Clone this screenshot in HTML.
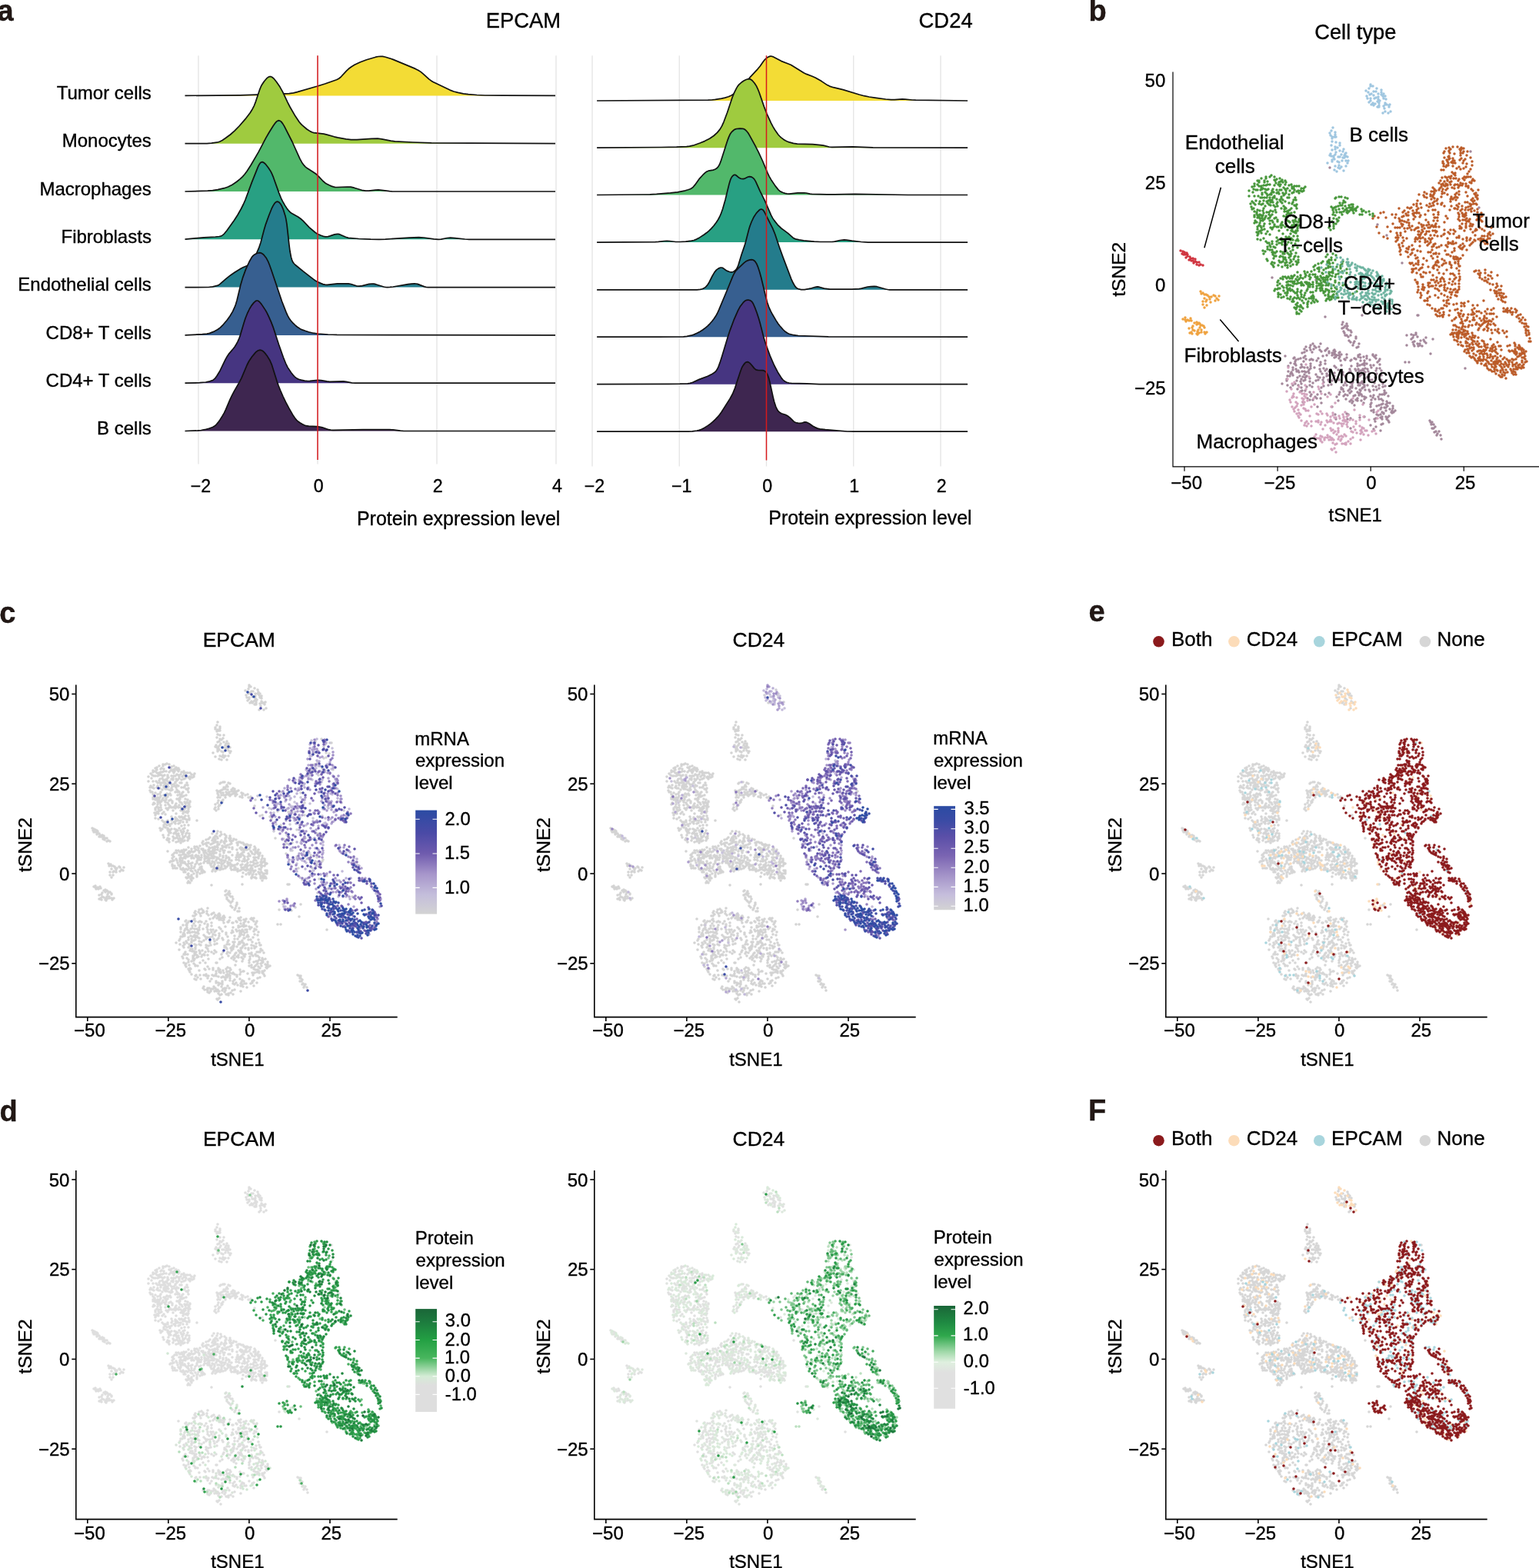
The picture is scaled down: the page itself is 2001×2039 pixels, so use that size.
<!DOCTYPE html>
<html><head><meta charset="utf-8"><title>Figure</title>
<style>html,body{margin:0;padding:0;background:#fff;overflow:hidden}svg{display:block}text{font-family:"Liberation Sans",Arial,Helvetica,sans-serif;stroke:#000;stroke-width:0.35px}</style>
</head><body>
<svg width="2001" height="2039" viewBox="0 0 2001 2039">
<rect width="2001" height="2039" fill="#fff"/>
<path d="M258 72.3V603.5" stroke="#e4e4e4" stroke-width="1.3"/>
<path d="M413 72.3V603.5" stroke="#e4e4e4" stroke-width="1.3"/>
<path d="M568 72.3V603.5" stroke="#e4e4e4" stroke-width="1.3"/>
<path d="M723 72.3V603.5" stroke="#e4e4e4" stroke-width="1.3"/>
<path d="M770 72.3V606.5" stroke="#e4e4e4" stroke-width="1.3"/>
<path d="M883.25 72.3V606.5" stroke="#e4e4e4" stroke-width="1.3"/>
<path d="M996.5 72.3V606.5" stroke="#e4e4e4" stroke-width="1.3"/>
<path d="M1109.75 72.3V606.5" stroke="#e4e4e4" stroke-width="1.3"/>
<path d="M1223 72.3V606.5" stroke="#e4e4e4" stroke-width="1.3"/>
<path d="M240.5 124.4L312.0 123.8L365.0 122.2L376.0 121.6L381.5 120.8L386.5 119.6L412.0 112.3L422.5 109.0L437.5 103.8L440.5 102.2L443.0 100.3L450.5 92.1L453.5 89.3L457.0 86.7L461.0 84.3L468.5 80.8L476.5 77.8L488.5 74.2L492.0 73.5L495.0 73.3L497.5 73.4L500.5 74.0L510.5 77.1L540.0 89.4L544.0 91.5L547.0 93.4L550.0 95.9L558.0 103.1L560.5 104.9L563.0 106.4L585.0 117.1L590.0 119.0L595.5 120.4L602.5 121.8L609.0 122.7L620.0 123.5L630.5 124.0L654.0 124.2L722.0 124.4L722.0 124.4L240.5 124.4Z" fill="#f3dc35" stroke="none"/><path d="M240.5 124.4L312.0 123.8L365.0 122.2L376.0 121.6L381.5 120.8L386.5 119.6L412.0 112.3L422.5 109.0L437.5 103.8L440.5 102.2L443.0 100.3L450.5 92.1L453.5 89.3L457.0 86.7L461.0 84.3L468.5 80.8L476.5 77.8L488.5 74.2L492.0 73.5L495.0 73.3L497.5 73.4L500.5 74.0L510.5 77.1L540.0 89.4L544.0 91.5L547.0 93.4L550.0 95.9L558.0 103.1L560.5 104.9L563.0 106.4L585.0 117.1L590.0 119.0L595.5 120.4L602.5 121.8L609.0 122.7L620.0 123.5L630.5 124.0L654.0 124.2L722.0 124.4" fill="none" stroke="#111" stroke-width="1.7" stroke-linejoin="round"/><path d="M240.5 186.7L269.0 186.6L275.0 186.2L282.0 185.2L285.5 184.2L289.0 182.5L293.0 179.8L299.5 175.0L305.0 170.2L311.0 164.0L320.0 153.6L325.0 147.0L328.0 142.2L330.5 137.3L332.5 132.1L337.5 116.9L339.0 113.2L340.5 110.2L343.5 105.7L346.5 102.2L349.0 100.2L350.5 99.6L351.5 99.6L352.5 99.7L354.0 100.5L356.5 102.7L359.5 106.5L364.0 113.1L367.5 119.3L374.0 133.1L377.0 139.0L384.0 151.1L389.0 158.5L391.0 160.9L393.0 162.9L399.0 168.0L403.5 170.9L406.0 172.0L408.0 172.6L421.0 174.2L425.0 175.1L434.5 177.8L439.0 178.9L450.0 180.9L456.5 181.6L464.0 181.6L483.0 180.3L491.0 180.2L496.5 180.8L508.0 183.1L513.5 183.8L536.5 185.0L561.0 185.8L613.5 186.2L722.0 186.7L722.0 186.7L240.5 186.7Z" fill="#9fcb3f" stroke="none"/><path d="M240.5 186.7L269.0 186.6L275.0 186.2L282.0 185.2L285.5 184.2L289.0 182.5L293.0 179.8L299.5 175.0L305.0 170.2L311.0 164.0L320.0 153.6L325.0 147.0L328.0 142.2L330.5 137.3L332.5 132.1L337.5 116.9L339.0 113.2L340.5 110.2L343.5 105.7L346.5 102.2L349.0 100.2L350.5 99.6L351.5 99.6L352.5 99.7L354.0 100.5L356.5 102.7L359.5 106.5L364.0 113.1L367.5 119.3L374.0 133.1L377.0 139.0L384.0 151.1L389.0 158.5L391.0 160.9L393.0 162.9L399.0 168.0L403.5 170.9L406.0 172.0L408.0 172.6L421.0 174.2L425.0 175.1L434.5 177.8L439.0 178.9L450.0 180.9L456.5 181.6L464.0 181.6L483.0 180.3L491.0 180.2L496.5 180.8L508.0 183.1L513.5 183.8L536.5 185.0L561.0 185.8L613.5 186.2L722.0 186.7" fill="none" stroke="#111" stroke-width="1.7" stroke-linejoin="round"/><path d="M240.5 249.0L270.0 248.2L276.5 247.6L283.0 246.6L291.5 244.7L296.5 243.0L302.0 240.2L307.5 236.5L312.0 232.9L315.5 229.6L318.0 226.8L321.0 222.8L326.0 215.0L336.0 197.9L346.0 178.9L350.0 172.0L355.5 163.3L358.0 159.8L359.5 158.2L360.5 157.4L361.5 156.9L362.5 156.7L364.0 157.1L365.5 158.1L367.5 160.6L369.5 163.9L380.0 184.5L390.0 206.7L392.5 211.2L395.0 214.7L397.0 216.8L399.5 218.8L408.0 224.2L411.0 226.3L414.0 229.1L420.0 235.5L422.5 237.7L424.5 239.0L428.0 240.8L431.0 242.1L433.5 242.9L435.5 243.3L438.0 243.5L451.5 243.0L456.0 243.2L460.5 244.2L470.5 247.3L475.5 248.1L479.5 248.1L488.0 247.1L492.0 246.9L496.5 247.3L506.5 248.7L510.5 249.0L722.0 249.0L722.0 249.0L240.5 249.0Z" fill="#52b86b" stroke="none"/><path d="M240.5 249.0L270.0 248.2L276.5 247.6L283.0 246.6L291.5 244.7L296.5 243.0L302.0 240.2L307.5 236.5L312.0 232.9L315.5 229.6L318.0 226.8L321.0 222.8L326.0 215.0L336.0 197.9L346.0 178.9L350.0 172.0L355.5 163.3L358.0 159.8L359.5 158.2L360.5 157.4L361.5 156.9L362.5 156.7L364.0 157.1L365.5 158.1L367.5 160.6L369.5 163.9L380.0 184.5L390.0 206.7L392.5 211.2L395.0 214.7L397.0 216.8L399.5 218.8L408.0 224.2L411.0 226.3L414.0 229.1L420.0 235.5L422.5 237.7L424.5 239.0L428.0 240.8L431.0 242.1L433.5 242.9L435.5 243.3L438.0 243.5L451.5 243.0L456.0 243.2L460.5 244.2L470.5 247.3L475.5 248.1L479.5 248.1L488.0 247.1L492.0 246.9L496.5 247.3L506.5 248.7L510.5 249.0L722.0 249.0" fill="none" stroke="#111" stroke-width="1.7" stroke-linejoin="round"/><path d="M240.5 311.2L265.0 308.8L280.0 308.0L285.0 307.5L287.0 307.1L288.5 306.4L290.0 305.4L291.5 304.0L295.0 299.8L304.5 286.5L309.0 279.5L313.5 271.5L316.5 265.5L319.0 259.8L327.5 236.9L335.5 216.9L337.0 213.9L338.5 211.8L339.5 211.0L341.0 210.7L342.0 210.9L343.0 211.5L345.5 213.7L349.0 218.2L352.0 222.9L353.5 225.9L355.5 230.7L362.5 250.4L365.5 257.8L367.5 261.8L370.5 267.1L373.0 270.9L375.0 273.6L377.0 275.7L379.5 277.6L387.5 282.0L391.0 284.5L394.0 287.2L402.0 295.6L409.5 302.0L411.5 303.4L414.0 304.8L417.5 306.3L420.5 307.3L423.5 307.8L426.5 307.6L429.0 306.9L435.0 304.9L438.5 304.3L440.0 304.4L442.0 304.9L449.5 308.3L453.0 309.4L466.5 310.5L482.0 311.2L493.0 311.3L501.0 311.1L532.0 309.1L544.5 308.7L551.0 309.0L564.0 310.8L570.0 311.3L573.5 311.1L581.5 309.5L585.5 309.2L591.5 309.6L604.5 311.0L610.0 311.3L722.0 311.3L722.0 311.3L240.5 311.3Z" fill="#28a083" stroke="none"/><path d="M240.5 311.2L265.0 308.8L280.0 308.0L285.0 307.5L287.0 307.1L288.5 306.4L290.0 305.4L291.5 304.0L295.0 299.8L304.5 286.5L309.0 279.5L313.5 271.5L316.5 265.5L319.0 259.8L327.5 236.9L335.5 216.9L337.0 213.9L338.5 211.8L339.5 211.0L341.0 210.7L342.0 210.9L343.0 211.5L345.5 213.7L349.0 218.2L352.0 222.9L353.5 225.9L355.5 230.7L362.5 250.4L365.5 257.8L367.5 261.8L370.5 267.1L373.0 270.9L375.0 273.6L377.0 275.7L379.5 277.6L387.5 282.0L391.0 284.5L394.0 287.2L402.0 295.6L409.5 302.0L411.5 303.4L414.0 304.8L417.5 306.3L420.5 307.3L423.5 307.8L426.5 307.6L429.0 306.9L435.0 304.9L438.5 304.3L440.0 304.4L442.0 304.9L449.5 308.3L453.0 309.4L466.5 310.5L482.0 311.2L493.0 311.3L501.0 311.1L532.0 309.1L544.5 308.7L551.0 309.0L564.0 310.8L570.0 311.3L573.5 311.1L581.5 309.5L585.5 309.2L591.5 309.6L604.5 311.0L610.0 311.3L722.0 311.3" fill="none" stroke="#111" stroke-width="1.7" stroke-linejoin="round"/>
<path d="M240.5 373.6L271.0 373.5L276.5 372.9L282.5 371.4L284.5 370.4L286.0 369.4L294.0 362.3L300.0 357.7L305.0 354.2L313.5 349.0L316.5 347.5L322.0 345.2L324.5 343.5L327.0 340.5L330.5 334.9L334.0 328.4L336.5 322.7L339.0 315.3L343.5 298.2L345.5 291.6L349.5 280.5L353.0 271.7L355.0 267.6L357.0 264.5L358.0 263.4L359.0 262.6L360.5 262.1L361.5 262.3L363.0 263.2L364.5 264.8L366.0 267.2L368.5 272.9L371.0 280.9L372.0 285.6L373.0 291.9L376.0 318.9L377.0 326.5L378.5 334.4L379.5 337.8L380.5 340.2L382.0 342.5L384.0 344.5L394.0 352.7L407.5 363.1L410.5 365.2L413.0 366.6L417.0 368.4L420.0 369.6L422.5 370.2L425.5 370.4L438.5 368.9L453.0 368.9L456.5 369.5L463.5 371.8L467.0 372.2L471.0 371.6L480.0 369.3L484.0 369.0L486.0 369.2L488.5 369.7L499.0 373.0L501.0 373.4L503.5 373.6L507.0 373.4L511.0 373.0L530.5 369.6L535.0 369.1L539.0 368.9L541.0 369.0L543.0 369.4L552.0 372.9L554.0 373.4L556.5 373.6L722.0 373.6L722.0 373.6L240.5 373.6Z" fill="#247c8c" stroke="none"/><path d="M240.5 373.6L271.0 373.5L276.5 372.9L282.5 371.4L284.5 370.4L286.0 369.4L294.0 362.3L300.0 357.7L305.0 354.2L313.5 349.0L316.5 347.5L322.0 345.2L324.5 343.5L327.0 340.5L330.5 334.9L334.0 328.4L336.5 322.7L339.0 315.3L343.5 298.2L345.5 291.6L349.5 280.5L353.0 271.7L355.0 267.6L357.0 264.5L358.0 263.4L359.0 262.6L360.5 262.1L361.5 262.3L363.0 263.2L364.5 264.8L366.0 267.2L368.5 272.9L371.0 280.9L372.0 285.6L373.0 291.9L376.0 318.9L377.0 326.5L378.5 334.4L379.5 337.8L380.5 340.2L382.0 342.5L384.0 344.5L394.0 352.7L407.5 363.1L410.5 365.2L413.0 366.6L417.0 368.4L420.0 369.6L422.5 370.2L425.5 370.4L438.5 368.9L453.0 368.9L456.5 369.5L463.5 371.8L467.0 372.2L471.0 371.6L480.0 369.3L484.0 369.0L486.0 369.2L488.5 369.7L499.0 373.0L501.0 373.4L503.5 373.6L507.0 373.4L511.0 373.0L530.5 369.6L535.0 369.1L539.0 368.9L541.0 369.0L543.0 369.4L552.0 372.9L554.0 373.4L556.5 373.6L722.0 373.6" fill="none" stroke="#111" stroke-width="1.7" stroke-linejoin="round"/><path d="M240.5 435.9L263.0 434.7L269.0 434.1L272.5 433.4L277.5 431.4L283.0 428.5L286.5 425.8L290.5 421.8L295.0 416.5L299.0 411.0L302.5 405.1L305.0 399.7L306.5 395.7L308.0 390.7L313.0 369.9L315.5 361.4L319.5 350.4L324.0 340.5L327.0 335.1L328.0 333.7L329.5 332.1L331.0 331.0L333.5 329.7L335.5 329.0L337.5 328.7L339.0 328.9L340.0 329.2L341.5 330.2L343.0 331.5L346.0 335.2L348.5 339.8L350.5 344.7L353.0 351.8L366.5 391.8L372.0 405.9L374.0 410.3L376.0 413.9L378.0 416.7L381.0 420.2L384.5 423.5L387.5 425.8L390.0 427.4L393.0 428.9L397.0 430.3L401.5 431.7L407.5 433.2L413.5 434.0L426.5 435.0L438.0 435.4L531.0 435.7L722.0 435.9L722.0 435.9L240.5 435.9Z" fill="#375f90" stroke="none"/><path d="M240.5 435.9L263.0 434.7L269.0 434.1L272.5 433.4L277.5 431.4L283.0 428.5L286.5 425.8L290.5 421.8L295.0 416.5L299.0 411.0L302.5 405.1L305.0 399.7L306.5 395.7L308.0 390.7L313.0 369.9L315.5 361.4L319.5 350.4L324.0 340.5L327.0 335.1L328.0 333.7L329.5 332.1L331.0 331.0L333.5 329.7L335.5 329.0L337.5 328.7L339.0 328.9L340.0 329.2L341.5 330.2L343.0 331.5L346.0 335.2L348.5 339.8L350.5 344.7L353.0 351.8L366.5 391.8L372.0 405.9L374.0 410.3L376.0 413.9L378.0 416.7L381.0 420.2L384.5 423.5L387.5 425.8L390.0 427.4L393.0 428.9L397.0 430.3L401.5 431.7L407.5 433.2L413.5 434.0L426.5 435.0L438.0 435.4L531.0 435.7L722.0 435.9" fill="none" stroke="#111" stroke-width="1.7" stroke-linejoin="round"/><path d="M240.5 498.2L259.5 497.7L267.5 497.0L271.5 496.2L275.5 494.9L277.5 493.9L279.5 492.2L282.0 488.8L286.0 482.2L293.0 467.7L295.5 463.2L298.0 459.6L303.0 453.8L305.0 451.2L307.0 448.0L309.0 444.3L311.0 439.8L312.5 435.6L317.0 420.2L319.0 414.0L321.5 407.7L324.5 401.5L327.0 397.4L330.0 393.6L332.0 391.8L333.0 391.2L334.0 391.0L335.0 391.0L336.5 391.8L338.0 393.2L340.0 395.6L345.0 403.1L347.0 406.7L349.5 411.8L352.5 418.6L355.0 425.1L362.5 448.0L368.5 465.0L371.5 472.5L374.0 477.6L378.5 484.4L381.0 487.6L383.0 489.8L385.0 491.4L386.5 492.4L388.5 493.2L391.5 494.1L396.0 495.1L400.0 495.5L403.0 495.4L410.5 494.5L414.0 494.3L417.5 494.6L425.0 495.9L428.5 496.3L446.5 495.9L450.0 496.4L457.5 497.9L462.0 498.2L722.0 498.2L722.0 498.2L240.5 498.2Z" fill="#463581" stroke="none"/><path d="M240.5 498.2L259.5 497.7L267.5 497.0L271.5 496.2L275.5 494.9L277.5 493.9L279.5 492.2L282.0 488.8L286.0 482.2L293.0 467.7L295.5 463.2L298.0 459.6L303.0 453.8L305.0 451.2L307.0 448.0L309.0 444.3L311.0 439.8L312.5 435.6L317.0 420.2L319.0 414.0L321.5 407.7L324.5 401.5L327.0 397.4L330.0 393.6L332.0 391.8L333.0 391.2L334.0 391.0L335.0 391.0L336.5 391.8L338.0 393.2L340.0 395.6L345.0 403.1L347.0 406.7L349.5 411.8L352.5 418.6L355.0 425.1L362.5 448.0L368.5 465.0L371.5 472.5L374.0 477.6L378.5 484.4L381.0 487.6L383.0 489.8L385.0 491.4L386.5 492.4L388.5 493.2L391.5 494.1L396.0 495.1L400.0 495.5L403.0 495.4L410.5 494.5L414.0 494.3L417.5 494.6L425.0 495.9L428.5 496.3L446.5 495.9L450.0 496.4L457.5 497.9L462.0 498.2L722.0 498.2" fill="none" stroke="#111" stroke-width="1.7" stroke-linejoin="round"/><path d="M240.5 560.5L257.0 559.9L261.5 559.5L266.0 558.7L271.5 557.3L276.5 555.5L279.0 554.1L281.5 551.8L283.5 549.4L286.0 545.9L289.0 541.2L291.5 536.8L293.5 532.6L299.0 519.6L301.5 514.3L304.5 508.7L311.0 497.4L314.0 491.6L321.0 475.0L323.5 470.0L327.5 464.0L332.0 458.6L333.5 457.2L335.0 456.1L336.5 455.5L338.0 455.2L339.0 455.3L340.5 455.8L342.0 456.7L343.5 458.1L345.5 460.4L347.5 463.1L351.0 468.8L353.5 474.7L360.0 495.6L362.0 501.2L364.5 507.5L368.0 515.5L371.5 522.9L375.5 530.4L380.5 539.2L384.0 544.4L385.5 546.1L387.5 548.0L390.0 549.8L393.0 551.6L395.5 552.8L398.0 553.7L401.5 554.2L412.0 554.6L415.5 555.0L419.0 555.8L427.5 558.7L430.0 559.2L433.0 559.4L472.0 558.7L506.5 558.7L511.0 558.8L520.5 560.2L525.0 560.5L722.0 560.5L722.0 560.5L240.5 560.5Z" fill="#3e2650" stroke="none"/><path d="M240.5 560.5L257.0 559.9L261.5 559.5L266.0 558.7L271.5 557.3L276.5 555.5L279.0 554.1L281.5 551.8L283.5 549.4L286.0 545.9L289.0 541.2L291.5 536.8L293.5 532.6L299.0 519.6L301.5 514.3L304.5 508.7L311.0 497.4L314.0 491.6L321.0 475.0L323.5 470.0L327.5 464.0L332.0 458.6L333.5 457.2L335.0 456.1L336.5 455.5L338.0 455.2L339.0 455.3L340.5 455.8L342.0 456.7L343.5 458.1L345.5 460.4L347.5 463.1L351.0 468.8L353.5 474.7L360.0 495.6L362.0 501.2L364.5 507.5L368.0 515.5L371.5 522.9L375.5 530.4L380.5 539.2L384.0 544.4L385.5 546.1L387.5 548.0L390.0 549.8L393.0 551.6L395.5 552.8L398.0 553.7L401.5 554.2L412.0 554.6L415.5 555.0L419.0 555.8L427.5 558.7L430.0 559.2L433.0 559.4L472.0 558.7L506.5 558.7L511.0 558.8L520.5 560.2L525.0 560.5L722.0 560.5" fill="none" stroke="#111" stroke-width="1.7" stroke-linejoin="round"/>
<path d="M776.1 131.0L920.6 130.2L925.1 130.0L930.1 129.4L938.1 128.1L942.6 127.1L947.1 125.8L950.6 124.2L955.1 121.4L958.6 118.5L965.6 111.5L974.6 101.2L985.1 89.8L988.1 86.2L992.6 79.8L994.6 77.3L996.6 75.6L998.6 74.3L1000.6 73.4L1002.1 73.1L1003.1 73.2L1004.6 73.6L1016.1 79.6L1025.6 83.2L1028.6 84.5L1045.1 94.7L1048.6 96.4L1056.1 99.2L1060.1 101.0L1068.1 105.6L1075.6 110.6L1078.6 112.1L1083.6 113.7L1096.1 116.6L1117.1 123.0L1123.6 124.7L1130.1 126.0L1137.6 127.1L1151.6 129.0L1158.6 129.6L1163.1 129.6L1173.1 128.9L1177.1 129.1L1186.1 130.0L1190.6 130.2L1258.1 131.0L1258.1 131.0L776.1 131.0Z" fill="#f3dc35" stroke="none"/><path d="M776.1 131.0L920.6 130.2L925.1 130.0L930.1 129.4L938.1 128.1L942.6 127.1L947.1 125.8L950.6 124.2L955.1 121.4L958.6 118.5L965.6 111.5L974.6 101.2L985.1 89.8L988.1 86.2L992.6 79.8L994.6 77.3L996.6 75.6L998.6 74.3L1000.6 73.4L1002.1 73.1L1003.1 73.2L1004.6 73.6L1016.1 79.6L1025.6 83.2L1028.6 84.5L1045.1 94.7L1048.6 96.4L1056.1 99.2L1060.1 101.0L1068.1 105.6L1075.6 110.6L1078.6 112.1L1083.6 113.7L1096.1 116.6L1117.1 123.0L1123.6 124.7L1130.1 126.0L1137.6 127.1L1151.6 129.0L1158.6 129.6L1163.1 129.6L1173.1 128.9L1177.1 129.1L1186.1 130.0L1190.6 130.2L1258.1 131.0" fill="none" stroke="#111" stroke-width="1.7" stroke-linejoin="round"/><path d="M776.1 192.2L859.6 191.5L879.6 191.2L892.6 190.7L896.6 190.2L901.1 189.2L910.1 186.0L916.1 183.6L922.6 180.2L928.1 176.5L932.6 172.4L936.1 168.1L938.6 163.9L941.1 158.3L945.6 146.3L952.1 126.7L954.6 120.6L957.6 114.6L959.1 112.1L960.6 110.2L962.1 108.8L964.6 106.7L967.1 105.0L969.6 103.7L971.6 103.0L973.6 102.7L975.1 102.9L976.1 103.3L978.1 104.7L981.1 108.2L983.6 112.1L985.1 115.3L987.1 120.3L993.6 139.1L997.1 148.1L1002.6 160.1L1005.1 164.9L1007.6 169.0L1011.6 174.7L1013.6 177.0L1015.6 178.9L1018.6 181.2L1021.1 182.8L1023.6 184.0L1026.1 184.9L1031.6 186.4L1036.6 187.2L1056.6 187.7L1066.6 188.6L1070.6 189.2L1078.1 191.0L1081.6 191.4L1108.6 190.9L1135.1 191.9L1258.1 192.2L1258.1 192.2L776.1 192.2Z" fill="#9fcb3f" stroke="none"/><path d="M776.1 192.2L859.6 191.5L879.6 191.2L892.6 190.7L896.6 190.2L901.1 189.2L910.1 186.0L916.1 183.6L922.6 180.2L928.1 176.5L932.6 172.4L936.1 168.1L938.6 163.9L941.1 158.3L945.6 146.3L952.1 126.7L954.6 120.6L957.6 114.6L959.1 112.1L960.6 110.2L962.1 108.8L964.6 106.7L967.1 105.0L969.6 103.7L971.6 103.0L973.6 102.7L975.1 102.9L976.1 103.3L978.1 104.7L981.1 108.2L983.6 112.1L985.1 115.3L987.1 120.3L993.6 139.1L997.1 148.1L1002.6 160.1L1005.1 164.9L1007.6 169.0L1011.6 174.7L1013.6 177.0L1015.6 178.9L1018.6 181.2L1021.1 182.8L1023.6 184.0L1026.1 184.9L1031.6 186.4L1036.6 187.2L1056.6 187.7L1066.6 188.6L1070.6 189.2L1078.1 191.0L1081.6 191.4L1108.6 190.9L1135.1 191.9L1258.1 192.2" fill="none" stroke="#111" stroke-width="1.7" stroke-linejoin="round"/><path d="M776.1 253.5L835.6 253.0L845.1 252.8L853.6 252.4L871.6 250.9L881.1 249.8L891.1 247.8L894.6 246.8L897.6 245.7L899.6 244.6L901.6 242.8L903.6 240.4L909.6 232.1L914.1 227.2L917.1 224.4L919.1 223.0L921.1 222.2L927.1 221.1L929.6 220.3L931.6 219.1L933.6 217.1L935.6 213.7L937.1 209.9L946.1 182.1L947.6 178.1L949.1 174.8L950.1 173.2L951.6 171.3L953.6 169.5L955.1 168.4L957.6 167.5L962.1 167.2L965.6 167.3L967.6 167.9L968.6 168.5L970.1 169.8L972.6 172.8L974.6 176.1L981.6 188.9L986.1 197.6L991.6 209.5L998.1 225.2L1000.1 229.3L1002.6 233.7L1008.1 241.9L1012.1 246.9L1013.6 248.2L1015.6 249.4L1018.1 250.5L1020.6 251.4L1023.1 251.9L1026.1 252.1L1037.1 250.9L1045.6 250.8L1048.1 251.0L1053.1 252.2L1055.6 252.4L1075.1 252.9L1085.1 252.9L1111.6 252.4L1180.6 253.5L1258.1 253.5L1258.1 253.5L776.1 253.5Z" fill="#52b86b" stroke="none"/><path d="M776.1 253.5L835.6 253.0L845.1 252.8L853.6 252.4L871.6 250.9L881.1 249.8L891.1 247.8L894.6 246.8L897.6 245.7L899.6 244.6L901.6 242.8L903.6 240.4L909.6 232.1L914.1 227.2L917.1 224.4L919.1 223.0L921.1 222.2L927.1 221.1L929.6 220.3L931.6 219.1L933.6 217.1L935.6 213.7L937.1 209.9L946.1 182.1L947.6 178.1L949.1 174.8L950.1 173.2L951.6 171.3L953.6 169.5L955.1 168.4L957.6 167.5L962.1 167.2L965.6 167.3L967.6 167.9L968.6 168.5L970.1 169.8L972.6 172.8L974.6 176.1L981.6 188.9L986.1 197.6L991.6 209.5L998.1 225.2L1000.1 229.3L1002.6 233.7L1008.1 241.9L1012.1 246.9L1013.6 248.2L1015.6 249.4L1018.1 250.5L1020.6 251.4L1023.1 251.9L1026.1 252.1L1037.1 250.9L1045.6 250.8L1048.1 251.0L1053.1 252.2L1055.6 252.4L1075.1 252.9L1085.1 252.9L1111.6 252.4L1180.6 253.5L1258.1 253.5" fill="none" stroke="#111" stroke-width="1.7" stroke-linejoin="round"/><path d="M776.1 315.1L852.1 314.6L856.1 314.4L863.6 313.5L867.1 313.3L870.6 313.5L878.6 314.5L884.1 314.5L891.6 314.1L899.1 313.2L902.1 312.5L905.6 311.1L909.6 308.9L915.6 305.0L918.6 302.8L921.6 300.3L925.1 296.9L928.1 293.5L931.1 289.5L933.6 285.7L935.6 282.0L937.1 278.7L939.6 271.8L943.1 259.4L948.1 238.9L949.6 234.0L950.6 231.6L952.1 229.3L953.6 227.9L955.1 227.3L956.1 227.4L957.1 228.0L961.1 231.3L962.6 232.1L964.1 232.5L966.1 232.7L967.6 232.4L972.6 230.0L974.6 229.6L976.1 229.9L977.6 230.4L979.1 231.4L980.1 232.3L981.1 233.6L982.6 236.1L988.1 248.3L994.6 261.3L1002.6 279.9L1004.6 283.6L1006.6 286.6L1011.1 292.3L1015.6 296.7L1024.6 303.4L1031.1 309.2L1032.6 310.1L1034.6 310.9L1039.1 311.9L1045.1 312.8L1058.6 314.1L1066.6 314.5L1082.6 314.4L1085.1 314.1L1092.1 312.5L1097.6 311.9L1100.6 312.1L1107.6 313.1L1119.6 314.5L1128.6 315.1L1258.1 315.1L1258.1 315.1L776.1 315.1Z" fill="#28a083" stroke="none"/><path d="M776.1 315.1L852.1 314.6L856.1 314.4L863.6 313.5L867.1 313.3L870.6 313.5L878.6 314.5L884.1 314.5L891.6 314.1L899.1 313.2L902.1 312.5L905.6 311.1L909.6 308.9L915.6 305.0L918.6 302.8L921.6 300.3L925.1 296.9L928.1 293.5L931.1 289.5L933.6 285.7L935.6 282.0L937.1 278.7L939.6 271.8L943.1 259.4L948.1 238.9L949.6 234.0L950.6 231.6L952.1 229.3L953.6 227.9L955.1 227.3L956.1 227.4L957.1 228.0L961.1 231.3L962.6 232.1L964.1 232.5L966.1 232.7L967.6 232.4L972.6 230.0L974.6 229.6L976.1 229.9L977.6 230.4L979.1 231.4L980.1 232.3L981.1 233.6L982.6 236.1L988.1 248.3L994.6 261.3L1002.6 279.9L1004.6 283.6L1006.6 286.6L1011.1 292.3L1015.6 296.7L1024.6 303.4L1031.1 309.2L1032.6 310.1L1034.6 310.9L1039.1 311.9L1045.1 312.8L1058.6 314.1L1066.6 314.5L1082.6 314.4L1085.1 314.1L1092.1 312.5L1097.6 311.9L1100.6 312.1L1107.6 313.1L1119.6 314.5L1128.6 315.1L1258.1 315.1" fill="none" stroke="#111" stroke-width="1.7" stroke-linejoin="round"/>
<path d="M776.1 376.8L906.1 376.8L910.6 376.4L913.1 375.7L915.1 374.9L917.6 373.1L920.1 370.2L922.1 367.0L926.1 359.0L929.1 353.9L931.6 350.9L934.1 349.1L936.6 348.0L938.6 348.0L940.1 348.6L943.6 351.2L945.6 352.4L948.6 353.5L951.1 353.8L953.1 353.5L954.6 352.7L956.1 351.5L957.6 349.8L959.1 346.9L960.1 344.3L964.1 331.0L968.1 319.4L969.6 314.2L973.6 298.6L975.1 293.8L977.1 288.5L980.1 282.2L983.1 277.6L985.1 275.3L987.1 273.3L988.6 272.3L990.1 272.0L991.6 272.7L992.6 273.7L993.6 275.2L1004.6 296.9L1007.6 304.3L1013.1 320.7L1018.1 334.6L1028.6 362.3L1031.1 367.8L1033.6 372.1L1035.6 374.4L1037.6 375.5L1041.6 376.6L1043.6 376.7L1046.1 376.6L1051.1 375.7L1055.1 374.8L1060.1 373.3L1062.6 372.9L1065.1 373.2L1071.6 375.1L1079.1 376.1L1107.6 376.2L1117.1 375.6L1120.1 375.1L1128.1 373.0L1132.1 372.6L1136.6 372.3L1140.1 372.7L1151.6 376.0L1154.1 376.5L1156.6 376.8L1258.1 376.8L1258.1 376.8L776.1 376.8Z" fill="#247c8c" stroke="none"/><path d="M776.1 376.8L906.1 376.8L910.6 376.4L913.1 375.7L915.1 374.9L917.6 373.1L920.1 370.2L922.1 367.0L926.1 359.0L929.1 353.9L931.6 350.9L934.1 349.1L936.6 348.0L938.6 348.0L940.1 348.6L943.6 351.2L945.6 352.4L948.6 353.5L951.1 353.8L953.1 353.5L954.6 352.7L956.1 351.5L957.6 349.8L959.1 346.9L960.1 344.3L964.1 331.0L968.1 319.4L969.6 314.2L973.6 298.6L975.1 293.8L977.1 288.5L980.1 282.2L983.1 277.6L985.1 275.3L987.1 273.3L988.6 272.3L990.1 272.0L991.6 272.7L992.6 273.7L993.6 275.2L1004.6 296.9L1007.6 304.3L1013.1 320.7L1018.1 334.6L1028.6 362.3L1031.1 367.8L1033.6 372.1L1035.6 374.4L1037.6 375.5L1041.6 376.6L1043.6 376.7L1046.1 376.6L1051.1 375.7L1055.1 374.8L1060.1 373.3L1062.6 372.9L1065.1 373.2L1071.6 375.1L1079.1 376.1L1107.6 376.2L1117.1 375.6L1120.1 375.1L1128.1 373.0L1132.1 372.6L1136.6 372.3L1140.1 372.7L1151.6 376.0L1154.1 376.5L1156.6 376.8L1258.1 376.8" fill="none" stroke="#111" stroke-width="1.7" stroke-linejoin="round"/><path d="M776.1 438.2L855.1 438.2L888.6 437.9L893.1 437.4L898.6 436.2L902.1 435.1L906.1 433.3L910.1 431.2L913.6 429.0L917.1 426.3L920.1 423.8L923.1 420.8L925.6 418.0L928.1 414.8L930.6 411.1L932.6 407.5L934.6 403.1L947.6 372.0L952.6 359.6L954.6 355.5L956.6 352.4L959.6 349.1L967.6 341.7L969.6 340.1L971.1 339.2L972.6 338.6L975.1 337.9L977.1 337.7L978.6 337.8L979.6 338.2L981.6 339.7L983.6 342.7L985.6 347.4L987.6 353.5L989.6 360.7L995.6 385.7L997.6 393.2L999.6 399.1L1002.1 404.7L1004.6 409.3L1009.1 416.9L1011.6 420.7L1014.1 424.0L1018.1 428.5L1021.1 431.3L1023.6 433.0L1026.1 434.2L1032.1 435.7L1038.1 436.5L1077.1 437.9L1258.1 438.2L1258.1 438.2L776.1 438.2Z" fill="#375f90" stroke="none"/><path d="M776.1 438.2L855.1 438.2L888.6 437.9L893.1 437.4L898.6 436.2L902.1 435.1L906.1 433.3L910.1 431.2L913.6 429.0L917.1 426.3L920.1 423.8L923.1 420.8L925.6 418.0L928.1 414.8L930.6 411.1L932.6 407.5L934.6 403.1L947.6 372.0L952.6 359.6L954.6 355.5L956.6 352.4L959.6 349.1L967.6 341.7L969.6 340.1L971.1 339.2L972.6 338.6L975.1 337.9L977.1 337.7L978.6 337.8L979.6 338.2L981.6 339.7L983.6 342.7L985.6 347.4L987.6 353.5L989.6 360.7L995.6 385.7L997.6 393.2L999.6 399.1L1002.1 404.7L1004.6 409.3L1009.1 416.9L1011.6 420.7L1014.1 424.0L1018.1 428.5L1021.1 431.3L1023.6 433.0L1026.1 434.2L1032.1 435.7L1038.1 436.5L1077.1 437.9L1258.1 438.2" fill="none" stroke="#111" stroke-width="1.7" stroke-linejoin="round"/><path d="M776.1 499.7L869.1 499.4L884.1 499.2L894.1 498.8L897.1 498.4L900.6 497.2L909.1 493.4L920.1 489.2L926.1 486.2L929.1 484.3L931.1 482.3L932.6 480.1L934.1 476.9L936.1 471.4L939.1 462.1L946.1 438.7L949.1 429.6L954.1 416.2L959.6 403.6L962.6 398.2L966.1 393.7L967.6 392.2L969.1 391.0L970.6 390.3L972.1 390.1L973.6 390.2L975.1 390.6L976.6 391.4L977.6 392.3L978.6 393.7L979.6 395.5L981.6 400.1L984.1 406.8L986.6 414.5L988.6 421.6L992.6 437.4L995.6 447.3L1001.1 462.4L1006.6 475.0L1011.1 483.7L1016.1 491.6L1017.6 493.5L1019.1 494.9L1020.6 496.0L1023.1 497.2L1026.1 498.0L1029.1 498.4L1049.1 498.9L1065.1 499.7L1258.1 499.7L1258.1 499.7L776.1 499.7Z" fill="#463581" stroke="none"/><path d="M776.1 499.7L869.1 499.4L884.1 499.2L894.1 498.8L897.1 498.4L900.6 497.2L909.1 493.4L920.1 489.2L926.1 486.2L929.1 484.3L931.1 482.3L932.6 480.1L934.1 476.9L936.1 471.4L939.1 462.1L946.1 438.7L949.1 429.6L954.1 416.2L959.6 403.6L962.6 398.2L966.1 393.7L967.6 392.2L969.1 391.0L970.6 390.3L972.1 390.1L973.6 390.2L975.1 390.6L976.6 391.4L977.6 392.3L978.6 393.7L979.6 395.5L981.6 400.1L984.1 406.8L986.6 414.5L988.6 421.6L992.6 437.4L995.6 447.3L1001.1 462.4L1006.6 475.0L1011.1 483.7L1016.1 491.6L1017.6 493.5L1019.1 494.9L1020.6 496.0L1023.1 497.2L1026.1 498.0L1029.1 498.4L1049.1 498.9L1065.1 499.7L1258.1 499.7" fill="none" stroke="#111" stroke-width="1.7" stroke-linejoin="round"/><path d="M776.1 561.2L895.1 561.2L900.1 560.9L906.1 560.0L909.1 559.4L912.1 558.2L915.6 556.4L920.1 553.6L923.6 551.1L926.6 548.7L930.1 545.4L933.1 542.2L935.6 539.2L938.1 535.7L949.1 518.4L952.6 512.0L955.6 504.6L962.6 483.2L964.1 479.2L965.1 477.0L966.6 474.6L968.6 472.1L970.1 471.0L971.6 470.6L973.1 470.9L975.1 472.4L977.1 474.5L980.6 478.9L982.6 480.6L984.1 481.2L985.6 481.4L991.6 481.7L993.1 481.9L994.6 482.7L996.1 484.2L997.1 485.7L998.1 487.7L999.6 491.9L1001.1 497.7L1005.1 516.1L1006.6 522.2L1008.6 528.5L1010.6 532.8L1012.1 534.9L1014.1 536.6L1016.1 537.7L1021.1 539.3L1023.6 540.5L1027.1 543.2L1032.1 548.1L1033.1 548.8L1034.6 549.5L1037.6 550.1L1040.6 550.4L1042.1 550.2L1046.1 548.9L1047.1 548.9L1048.6 549.1L1052.1 550.7L1057.1 554.2L1059.6 555.6L1063.1 557.1L1066.1 557.8L1073.1 558.7L1101.6 561.0L1109.6 561.2L1258.1 561.2L1258.1 561.2L776.1 561.2Z" fill="#3e2650" stroke="none"/><path d="M776.1 561.2L895.1 561.2L900.1 560.9L906.1 560.0L909.1 559.4L912.1 558.2L915.6 556.4L920.1 553.6L923.6 551.1L926.6 548.7L930.1 545.4L933.1 542.2L935.6 539.2L938.1 535.7L949.1 518.4L952.6 512.0L955.6 504.6L962.6 483.2L964.1 479.2L965.1 477.0L966.6 474.6L968.6 472.1L970.1 471.0L971.6 470.6L973.1 470.9L975.1 472.4L977.1 474.5L980.6 478.9L982.6 480.6L984.1 481.2L985.6 481.4L991.6 481.7L993.1 481.9L994.6 482.7L996.1 484.2L997.1 485.7L998.1 487.7L999.6 491.9L1001.1 497.7L1005.1 516.1L1006.6 522.2L1008.6 528.5L1010.6 532.8L1012.1 534.9L1014.1 536.6L1016.1 537.7L1021.1 539.3L1023.6 540.5L1027.1 543.2L1032.1 548.1L1033.1 548.8L1034.6 549.5L1037.6 550.1L1040.6 550.4L1042.1 550.2L1046.1 548.9L1047.1 548.9L1048.6 549.1L1052.1 550.7L1057.1 554.2L1059.6 555.6L1063.1 557.1L1066.1 557.8L1073.1 558.7L1101.6 561.0L1109.6 561.2L1258.1 561.2" fill="none" stroke="#111" stroke-width="1.7" stroke-linejoin="round"/>
<path d="M413 72.3V598" stroke="#d7191c" stroke-width="1.5"/>
<path d="M996.5 72.3V598.5" stroke="#d7191c" stroke-width="1.5"/>
<text x="73.7" y="129.1" font-size="24" fill="#000">Tumor cells</text>
<text x="80.7" y="191.4" font-size="24" fill="#000">Monocytes</text>
<text x="51.4" y="253.7" font-size="24" fill="#000">Macrophages</text>
<text x="79.5" y="316.0" font-size="24" fill="#000">Fibroblasts</text>
<text x="23.3" y="378.3" font-size="24" fill="#000">Endothelial cells</text>
<text x="59.6" y="440.6" font-size="24" fill="#000">CD8+ T cells</text>
<text x="59.6" y="502.9" font-size="24" fill="#000">CD4+ T cells</text>
<text x="126.1" y="565.2" font-size="24" fill="#000">B cells</text>
<text x="631.7" y="35.7" font-size="27.4" fill="#000">EPCAM</text>
<text x="1194.6" y="35.7" font-size="27.4" fill="#000">CD24</text>
<text x="247.7" y="639.7" font-size="23.2" fill="#000">−2</text>
<text x="407.8" y="639.7" font-size="23.2" fill="#000">0</text>
<text x="562.8" y="639.7" font-size="23.2" fill="#000">2</text>
<text x="717.9" y="639.7" font-size="23.2" fill="#000">4</text>
<text x="759.7" y="639.7" font-size="23.2" fill="#000">−2</text>
<text x="872.9" y="639.7" font-size="23.2" fill="#000">−1</text>
<text x="991.3" y="639.7" font-size="23.2" fill="#000">0</text>
<text x="1104.2" y="639.7" font-size="23.2" fill="#000">1</text>
<text x="1217.8" y="639.7" font-size="23.2" fill="#000">2</text>
<text x="464.0" y="682.5" font-size="24.9" fill="#000">Protein expression level</text>
<text x="999.3" y="681.6" font-size="24.9" fill="#000">Protein expression level</text>
<text x="-3.4" y="27.0" font-size="38" font-weight="bold" fill="#231815" stroke="#231815">a</text>
<text x="1415.6" y="27.0" font-size="38" font-weight="bold" fill="#231815" stroke="#231815">b</text>
<text x="1709.2" y="50.7" font-size="27.3" fill="#000">Cell type</text>
<g stroke-width="3.5" stroke-linecap="round" fill="none"><path stroke="#bb5b28" d="M1787 281zm-2 3zm7-1zm3-6zm4-1zm3 7zm8-4zm5 0zm-1 4zm5 1zm1 2zm0 2zm3-1zm3 1zm3 1zm3 1zm0 3zm1 3zm-3 1zm-4 0zm1 4zm-6 2zm0 3zm-4 0zm-1-3zm-1 6zm3 0zm-1 3zm-2 2zm4 4zm0 1zm1 3zm1 3zm-1 2zm1 4zm7-4zm2 1zm1-4zm-2-1zm3-2zm4-2zm2 5zm-2 1zm0 4zm-2 2zm-3 3zm2 8zm1 1zm2-1zm2 3zm3-2zm3 1zm0-3zm0-2zm-1-4zm-2 1zm-1-4zm3-6zm4 1zm-1-7zm0-6zm1-4zm-2-1zm1-2zm1-2zm1-2zm2-2zm-1-2zm3-2zm-3-2zm2-2zm-3-1zm-3-2zm-1 6zm-1 0zm-2 1zm-2 2zm-4 0zm1-5zm2-9zm2-3zm-2-2zm-1-2zm2-1zm3 0zm0-1zm0-3zm2-2zm-2-3zm0-3zm1-4zm4 4zm1 5zm-3 7zm2 3zm-1 2zm7-3zm4-5zm1-5zm3-1zm3-1zm-1-3zm2-2zm3-1zm1-2zm-4-1zm-2-2zm-1-1zm-2 0zm0-2zm4 0zm1-2zm-1-2zm-3 0zm4-3zm0 0zm2 2zm4-1zm1-2zm2-2zm0-3zm2-1zm1 2zm2 1zm1-3zm2 1zm0 1zm0 4zm-2 2zm-4-1zm-1 3zm0 3zm3-1zm4 2zm5 3zm0 1zm-1 2zm0 3zm3-3zm2-2zm2-1zm2 1zm-2 3zm4 5zm-3 2zm2 2zm-1 3zm-3-1zm-1 0zm-4-3zm-2 5zm-7-5zm-4-2zm0-1zm1-1zm-6 1zm-3 8zm-3 0zm1 6zm1 4zm1 0zm3 0zm0 0zm0 4zm-2 4zm-1 2zm1 2zm-3 0zm-2-2zm-1 1zm-2 2zm-2 0zm-2-3zm3-1zm-1-3zm-3-3zm10 1zm6-8zm0-3zm10 5zm2 3zm-4 5zm-7 6zm-3 6zm-1 1zm-1-2zm-3 0zm-5 1zm-3 0zm-1 3zm-1 1zm-3 4zm3 2zm0 1zm0 3zm3-1zm2 3zm-2 2zm4-4zm0-3zm-2-2zm4 0zm-2-4zm5 0zm4 1zm5 0zm3-2zm1-1zm0-5zm5 3zm2 2zm5 0zm2-3zm-2-2zm-4 0zm-4 11zm1 5zm0 2zm3-1zm2 1zm2 0zm3-1zm-4-2zm5-5zm3 0zm0-2zm5 4zm5-1zm0-1zm0 4zm4-1zm1-2zm5 2zm1 1zm-3 2zm-2 2zm-2 2zm-7 1zm-2 2zm-1 2zm-2-1zm-2-2zm2-2zm3-2zm5 8zm0 0zm-5 7zm-3 4zm-2 1zm-2-2zm-2-1zm-3 0zm0 2zm1 1zm3 0zm2 3zm0 3zm1 3zm1 0zm-4 3zm3 3zm0 4zm1 4zm0 3zm-1 2zm0 4zm0 4zm0 3zm-2 2zm0 2zm-2 0zm-1-4zm-2 1zm-2 3zm-3 0zm2 3zm-1 4zm0 0zm-4-1zm1 4zm-2 1zm0 3zm3 1zm-3 3zm-3-1zm-2 4zm-2 0zm-3 2zm-2 2zm-3-1zm0-2zm-4-1zm-3-4zm-3-1zm0-5zm0-3zm3-2zm-3-5zm1-2zm1-6zm-1-2zm0-3zm2 0zm2-4zm3 0zm2 3zm2-2zm2 3zm3-2zm0 0zm0-3zm2-2zm2 2zm1 3zm1 4zm-1 1zm0 3zm0 3zm2 1zm2-3zm4 1zm2-6zm4-1zm-3-3zm2-3zm2-2zm-2-3zm-2-2zm-3 0zm-5-5zm-4 5zm-6-1zm-2-4zm2-4zm-3-2zm-2-1zm-2 2zm-1 2zm1 1zm-5 5zm-5 1zm-3-1zm-4 3zm1 3zm2 0zm-8-5zm3-4zm2-2zm2-1zm1-4zm5-5zm-4-3zm6-8zm3 0zm2-3zm0-4zm2-1zm0-2zm2-1zm2 5zm3-1zm3-2zm6 0zm2 2zm-3 5zm2 5zm2 0zm3 2zm2-5zm3-2zm0-3zm1 18zm0 1zm-5 3zm-2-2zm0-2zm-5 1zm-3 1zm-2 2zm-5-4zm-1 0zm-2 0zm2-2zm0-5zm2-4zm-4 0zm0-1zm-3 1zm-3 3zm2 3zm12 1zm3 2zm9 9zm-2 15zm-1 5zm-10 3zm-2 1zm-3 4zm2 2zm3 4zm4 2zm-1 7zm-7-4zm-4-3zm0-9zm1-4zm-4 1zm-2 0zm-9 2zm-2-1zm0-3zm-1 6zm2 1zm-4 4zm1 3zm-1 3zm5 4zm1 0zm-10-11zm1-3zm0-4zm-1-4zm0-2zm-1 0zm-2-3zm-4-10zm1-1zm1-3zm-2 0zm5-1zm16-2zm6 11zm5 3zm24 23zm2 1zm0 10zm-4 1zm2 7zm3-1zm1 5zm3 1zm-2 2zm1 2zm2 3zm1 3zm-2 2zm3 1zm0 3zm-1 2zm-1 2zm3 1zm0 2zm2-1zm3 1zm-1 3zm-2 0zm1 2zm-2 2zm-1-3zm-2 0zm0-2zm-2-1zm-2-2zm-1 2zm-2 1zm0 2zm2 1zm0 2zm-2 0zm2 2zm-2 3zm1 1zm1 4zm4 1zm2 1zm5 0zm3 0zm1-2zm3-2zm1 2zm1 4zm0 2zm-2 2zm-1-4zm-2 1zm-3 1zm1 2zm1 3zm-3 0zm-3-2zm1-2zm1-9zm0-2zm2 2zm1-5zm-2-1zm4-2zm3 1zm-1 2zm2 2zm2 1zm2 3zm2 2zm2 2zm3 0zm4-1zm1-1zm-1-2zm-1-3zm-2-1zm-4 4zm-2-3zm1-5zm-4-2zm-1 2zm-2-3zm-1-3zm-5 1zm0-9zm1-2zm4 0zm5-1zm1-2zm3 2zm2 2zm2-2zm2-2zm2-1zm-1-2zm-1-2zm1-2zm0-2zm3 3zm0 4zm2 0zm1-1zm1 0zm2 1zm2-3zm5-3zm-4-4zm-3 0zm-2 0zm-4 0zm-2-3zm3-3zm5 1zm3-2zm13 0zm3 2zm-1 2zm-2 0zm5 1zm0-2zm0-3zm3 3zm1 2zm3 0zm-1 3zm5-3zm1-2zm-2-2zm-5-1zm-8-8zm-3-1zm-2-2zm0-3zm1-2zm2 2zm3-1zm-3-4zm-3-1zm-3 0zm-3 1zm-2-1zm2-2zm-3-1zm2-4zm2-2zm-1-3zm-5 1zm-4-1zm-3-2zm-2-2zm-2 0zm-3-2zm-3-2zm0-3zm-2-2zm3-1zm-2-3zm-4 0zm-2 1zm14-2zm0 4zm4 3zm3 1zm2 3zm-5 1zm-4-2zm8-7zm8 4zm5 14zm-1 5zm-2 0zm1 7zm-4 1zm2 4zm-10-12zm-9 14zm-8 6zm-4 4zm-3 2zm1 3zm2 2zm-2 1zm-2 0zm-4 0zm-1 4zm-1 3zm-2 1zm6 1zm4-2zm2 0zm-1-3zm4-2zm4 3zm2 3zm9 4zm-1 2zm-1 2zm2 2zm-1 3zm-4-2zm-1 1zm-6-2zm-1 2zm17 0zm1 4zm4-4zm3 2zm2 2zm-1-5zm6 2zm2 3zm3-2zm0 7zm4 11zm-3 1zm2 6zm1 1zm3-1zm2 1zm2-1zm0-2zm3-2zm2 2zm2-1zm2 0zm-1 2zm3 0zm0 3zm-2 0zm0 2zm-2 2zm-2 1zm-2 1zm-2-3zm1-1zm0-2zm-3 1zm7 1zm3 5zm2 0zm2 2zm2 3zm-2 1zm-2 3zm-2 2zm2 2zm-3 1zm-2-1zm-2 0zm-1 2zm-2 0zm0-3zm-1-3zm2-2zm2 3zm2-1zm3-3zm0-2zm4-6zm-1-3zm2-3zm-8-6zm-1-2zm-5 1zm0-2zm-1-2zm-18 4zm-2 0zm-5 1zm-3 1zm-1 2zm-2-1zm-1 3zm3 1zm3-1zm2-2zm0 4zm2 2zm-3 3zm-3 1zm0 2zm-2 3zm3 2zm0 2zm2 2zm1 2zm-2 1zm0 2zm0 3zm-3 0zm-2-2zm-2 0zm-2-2zm-1-3zm-3-1zm2-2zm2-3zm1 1zm1 2zm3 1zm1 3zm5-5zm1-2zm-2 0zm2-3zm1-2zm4-2zm3 4zm2-2zm3 2zm2 2zm2 0zm-1 2zm0 3zm-3 1zm-1-2zm-1-2zm-2 3zm-3-1zm-2 2zm2 2zm1 2zm1 2zm1 3zm2 1zm-1 3zm-3-1zm0 3zm-2 0zm-2-2zm2-4zm0-2zm-4 0zm-1-1zm-1 5zm2-13zm1-2zm1-2zm2 1zm5 7zm2 4zm2 3zm5-2zm-1-2zm4 0zm0 3zm2 1zm1 3zm-3 0zm-2-2zm1-9zm0-2zm-1-3zm2-3zm-2-1zm5 0zm-10 10zm-3 15zm-21-27zm1-2zm0-2zm-4 1zm-1-2zm-3 0zm-2 1zm-2-2zm1-2zm-2-1zm-2 0zm-2 1zm3 3zm0 4zm-2 2zm2 1zm2 1zm-1 1zm-3 0zm-2 1zm1 2zm-3-4zm-1-2zm-2-2zm-2 1zm-2-2zm5-3zm3 2zm10 2zm0 3zm-1 2zm4-1zm2-3zm-4-8zm-1-2zm3 0zm0-3zm2 0zm0-4zm6 2zm2-2zm5-3zm-9-4zm6-18zm-2-2zm-4 1zm-12-15zm-3-2zm-3 0zm-5-8zm-6-5zm-5 2zm-1 1zm-3-1zm0 4zm4 0zm-4 6zm3 5zm-1 2zm-9 2zm-2 2zm-3 2zm2 6zm2 0zm2 2zm3 1zm-4 3zm-4 0zm-1 4zm1 2zm2-2zm-1 5zm1 4zm8 3zm1-6zm-3-5zm-11 1zm19-10zm-21-15zm1-6zm-8 2zm0 3zm-2 1zm1 2zm-4-1zm-3 0zm-2-2zm5-2zm54 66zm26-18zm36-11zm2 0zm-1-4zm-1-5zm0-2zm-1-3zm-3 0zm0-2zm-2-3zm3-1zm2 1zm-3-4zm-2 0zm-3-1zm-3-2zm2-2zm-3-2zm-3-2zm2-2zm3-1zm3 4zm3 3zm1 17zm1 3zm-51-119zm-3 0zm-2-3zm0-3zm-2 0zm-2-1zm0 3zm-3-2zm-4-5zm-3-4zm3-2zm1-2zm1 1zm4-3zm3 2zm3 2zm2-6zm7 2zm-2 6zm-1 2zm-1 0zm-1 3zm1 3zm2 0zm1-4zm3-2zm-8 8zm0 2zm-3-7zm-3 0zm-15-9zm-1-4zm3 0zm1-2zm-3-1zm-2-3zm-1-1zm-2 1zm-2-2zm2-2zm-3-2zm-2-1zm0-2zm2 0zm2 1zm0-3zm-1-4zm1-3zm3-1zm3-1zm1-2zm-2-1zm-3-2zm-3 0zm-4 5zm0 4zm-2 2zm2 3zm-4 2zm-1-2zm1 5zm-1 3zm2 2zm4-1zm-1 5zm-3 3zm2 2zm0 1zm-2 0zm6 3zm2-4zm0-2zm0-3zm5-6zm9 1zm1-1zm3 0zm2 2zm1 1zm-2-6zm2-1zm-1-4zm-5-1zm0-4zm-4 2zm-4 1zm-1-3zm2-1zm-5 2zm7-8zm3 0zm1 1zm-3-5zm-2 1zm-2-2zm2-2zm4-2zm2-2zm-3-1zm-1-1zm2-1zm-4-3zm-2-2zm-4-2zm0-2zm-3 0zm0-3zm-4 0zm-1 2zm-3 0zm-1 1zm-1 2zm-1-4zm-3 0zm-1 1zm0 4zm-3-1zm-2-4zm-1-3zm2-1zm-1-4zm-2-2zm-3 1zm-2-1zm-4 1zm-2 4zm-2 3zm7-2zm4-1zm0-1zm5-5zm3-3zm2-1zm0 3zm1 4zm-3 0zm6 3zm1-2zm5-1zm2-2zm2 1zm1-1zm2 0zm3 0zm3 3zm-1 2zm3 0zm-4 3zm-2-1zm-7-3zm-5 4zm-2 11zm-3 2zm-2 2zm5 0zm9-3zm2 5zm13 3zm0 1zm1-12zm-14-21zm2-3zm2-3zm2-5zm0-5zm-2-5zm-5-3zm1-5zm-5 0zm-1 2zm-3 0zm0 3zm1 4zm-2 2zm5 1zm2-2zm-3 5zm5 1zm-1 4zm-3 2zm-4 1zm-2-3zm-3 2zm-5-3zm0-4zm-2-1zm2-2zm2 0zm1 3zm-3-6zm-4 0zm-1 1zm-3 1zm1 2zm1 2zm0 3zm-2 0zm-1 2zm-3-1zm0-3zm-1-1zm0-2zm2-5zm5-1zm1-1zm1-4zm-1-2zm0-1zm2-2zm-2-2zm-4 1zm-2 4zm-1 2zm14 1zm8-4zm1-2zm0-2zm-2 2zm-3-3zm-6 0zm14 2zm-15 31zm-11-3zm-3 0zm-11 23zm-8 8zm-3-2zm-1 4zm1 2zm3 1zm6 2zm-2 6zm-4 2zm-17-1zm-3 4zm-2 1zm-3-1zm-4 4zm-2 2zm4 2zm1 2zm2 0zm0-4zm6-2zm-6 12zm-6-5zm-2 1zm-1 9zm2 1zm-1 2zm-3 2zm-3 0zm-3 0zm-3-5zm-7 4zm4 6zm-4 9zm-5-2zm-6-5zm-3-8zm34 14zm1 4zm-2 3zm1 4zm5-10zm11 1zm1-2zm2 2zm-3 3zm4-9zm0-4zm1 0zm-26-30zm26-18zm0 0zm29 3zm47 25z"/><path stroke="#a3879a" d="M1729 218zm62 74zm12 14zm20 36zm20 68zm1 0zm-3 23zm0 2zm-3 1zm-3-1zm2 4zm-2 2zm2 4zm2-1zm-1 4zm1 2zm4-3zm3 0zm0 2zm-2 1zm5 0zm5-4zm-2-2zm-1-2zm-4 1zm-4-5zm11 1zm9 2zm-3 19zm-28 11zm-5 0zm2-22zm0-13zm-35 31zm-1 2zm-2 2zm3 3zm0 5zm2 3zm0 6zm0 6zm2 5zm0 4zm3-1zm-1 6zm0 3zm0 2zm2-2zm3 4zm-2 7zm1 2zm-2 2zm2 2zm-2 2zm-2 0zm-4 0zm-1 2zm2 4zm2 1zm0 1zm-4 1zm-3 1zm-2-1zm-4-3zm0-3zm-3 1zm-1-5zm0-3zm1-2zm0-4zm2-3zm1-3zm-4 1zm-1-6zm-1-2zm-5 0zm-1-4zm0-2zm-2-2zm-1-3zm-2 2zm-3 0zm0 3zm2 0zm4 3zm-1 1zm-2 3zm-1-1zm0 4zm-1 1zm0 2zm3-1zm1 2zm3 1zm2 1zm-2 2zm0 0zm-4 2zm3 3zm-8-3zm-2-1zm2-2zm-3-4zm-2 1zm-3 5zm2 2zm-1 2zm-3-2zm-5-3zm-3-4zm2-2zm3 1zm3-3zm2-2zm-2-3zm-2 2zm3-5zm2-1zm0 2zm0-5zm-2-1zm3-1zm0-4zm1-4zm6 1zm2-1zm2-2zm-3-1zm0-3zm2-1zm1 0zm2-2zm1 2zm2 2zm-1 3zm0 5zm1 0zm3-2zm2 0zm0-3zm-1-4zm-1-3zm-3-1zm-1-4zm-1-2zm1-1zm0-3zm3-3zm0-3zm-4 1zm-4 1zm-3-1zm0-2zm2-1zm-5 6zm-2-1zm-4 2zm-1 1zm-5-4zm-3 2zm1 1zm-6 1zm-2-3zm1-2zm-1-2zm-3 0zm-1 2zm-2 1zm0-4zm1 0zm-1-2zm1-2zm-1-2zm-1 1zm-2 3zm0 3zm-4-3zm0-2zm-4-2zm-1 1zm3-3zm-8 4zm-2-2zm-1-4zm-4 1zm-2-2zm-2-3zm-3 2zm-1 3zm1 3zm2 3zm2-4zm-9 2zm-3-2zm2-3zm-2 7zm-3 1zm4 4zm-2 2zm3 2zm-3 3zm-3 4zm1 3zm-2 1zm-3 4zm-2 1zm3 1zm4-1zm3 0zm2 1zm3-1zm1-2zm2-2zm0-3zm0-3zm-1-5zm2-1zm2 1zm0 0zm5 1zm2-3zm3 5zm0 3zm-1 1zm0 5zm1 3zm2 3zm2 5zm-1 3zm0 0zm1 3zm0 5zm-3 2zm-1 5zm-4 4zm-3 3zm2 2zm5 0zm1 6zm-5 5zm-6-9zm-4 0zm-3-2zm4-3zm1-2zm-2-3zm-6-2zm-4 0zm-2 1zm-4-3zm1-5zm-4-2zm-3 2zm-3 3zm-4-3zm-1-6zm0-2zm1-4zm3 0zm1-3zm2 0zm-1-2zm2-3zm0-3zm4 2zm0-5zm-1-2zm-1 0zm1-3zm1-2zm3-1zm3-1zm-8-1zm-1 1zm-4 6zm-3 4zm0 7zm0 0zm6 5zm6 3zm3-2zm4 1zm3 1zm1-1zm1-1zm-3-2zm6-2zm1 7zm0 4zm4 2zm-4 3zm3 2zm-7 0zm-7 1zm0-5zm-1-3zm1-3zm3 2zm2-1zm-11 1zm-19 4zm29-21zm4 0zm9 0zm2 9zm2 3zm3 1zm-2 3zm-3 1zm14-6zm0-3zm3 2zm0-5zm2-2zm-5-1zm-2 2zm-2-3zm2-6zm0-4zm-3-6zm5-1zm16-3zm1-1zm2 3zm7 0zm8-12zm1-3zm1-2zm2-4zm0-2zm-7-2zm-3 2zm-2-2zm-2 0zm-1-3zm-1-2zm-2-4zm2-1zm2-2zm3 0zm-1 3zm2 2zm3 1zm1 2zm-3 11zm2 2zm8 7zm2-1zm1-4zm2 22zm2 5zm-3 1zm-3 1zm0-3zm1 7zm-3 2zm-1-2zm-5-4zm-2 4zm1 3zm-2 1zm-5 5zm-3-2zm0-3zm-6-3zm-3-3zm-2-2zm0 9zm0 4zm-1 3zm-2 3zm-4 1zm-1-2zm0 7zm4-1zm-3 11zm-5 2zm15 3zm3-3zm1-3zm2-4zm2 0zm-2-2zm3-3zm2-3zm1-2zm1 5zm-4 8zm-7 12zm-8 8zm4 10zm1 6zm15 0zm4-1zm-3-5zm-2-1zm10-11zm4-17zm-2-5zm1-11zm14 7zm7 1zm4 1zm1 4zm3-2zm0-4zm-6-3zm-3-4zm-3 0zm7-3zm2-5zm-1-4zm1-3zm-4-4zm-4 0zm1 3zm-6-5zm4-5zm4-6zm0-1zm2 3zm2 2zm0-4zm-3 45zm8 6zm3 0zm-5 3zm1 3zm3 0zm2 2zm0 4zm-2 1zm-3 1zm-3 1zm-2-9zm19 5zm4 4zm0 3zm-1 3zm-1 2zm1 1zm2-1zm2-2zm-7-2zm-5 2zm0 8zm2 1zm-1 2zm2 2zm1 2zm0-8zm-9 1zm-2 1zm2 2zm1 6zm-2 1zm-7 3zm-3 3zm-4-5zm6-5zm-1-3zm2-1zm-15-2zm-6 1zm-12 14zm39 3zm64-13zm1 2zm2 0zm-1 3zm3 0zm2 3zm-2 2zm-2 0zm3 5zm2-1zm2 3zm-1 2zm5 0zm1 5zm-3-10zm34-82zm-134-69zm0-11zm-20 22zm-5-2zm-1 3zm-22-10zm-6 35zm27 28zm-4 17zm1 2zm-47 29zm-23-60zm-17-102zm57 3zm-11-50zm223-44zm-11-73z"/><path stroke="#46963a" d="M1635 235zm2 0zm0 2zm-2 3zm2 2zm3 0zm0 2zm2 1zm-1 1zm-2 1zm-4 0zm-2 0zm-3-1zm-2-3zm3-1zm0-3zm-2 11zm-5-2zm0 7zm7 0zm5 0zm3 2zm2 0zm3 0zm3 0zm1-3zm-1-2zm-2-2zm2-3zm-2-1zm4 0zm5 2zm1-2zm1 4zm-3 1zm0 2zm-2 0zm0 4zm0 3zm1 1zm0 2zm3 0zm-1-3zm1-3zm2 0zm0-2zm3-4zm2-1zm1 2zm3 4zm0 2zm-2 2zm1 2zm2 2zm1-4zm3 2zm5 2zm4 1zm1-2zm1-3zm3 0zm-1-3zm-4-6zm2-1zm1-3zm-1-2zm-2 0zm0-2zm-1-3zm-3 1zm-2 4zm-3 1zm1 2zm0 3zm-2 2zm-1 1zm-1-3zm-2-4zm-2 0zm-4 0zm4-5zm1-2zm-3 0zm1-3zm2-1zm2-2zm1 3zm3-2zm1 2zm-1 3zm-2 4zm8 4zm-1 5zm0 4zm-2 0zm-5 11zm2 2zm1 1zm-2 1zm0 3zm3 0zm2-1zm2-1zm2-2zm4-4zm2 1zm1-2zm0 5zm-3 5zm-4 1zm-2 1zm-2-1zm-2 2zm-1 3zm2 0zm-2 3zm2 2zm2 1zm1 1zm4-2zm1 2zm1 3zm3 0zm3 1zm-2 2zm0 2zm0 3zm-2 0zm-2 2zm-2-1zm-2-1zm1-2zm-1-3zm-2 1zm-3-2zm-3 1zm-3-2zm-2-2zm1-2zm-2 4zm1 3zm-4-1zm-2 0zm-3-1zm0-2zm-2-3zm-1-2zm-3 0zm-2-3zm2-1zm1-2zm2-2zm-4 0zm0-3zm2-2zm3 1zm3-2zm1 3zm0 7zm-2 1zm4 2zm0 2zm-6 8zm-1 2zm-2-2zm-1-5zm-7 0zm-1 3zm-3 2zm-1-2zm-2-1zm-2 2zm0 3zm2 3zm2-1zm2-1zm3-1zm4 3zm-2 3zm5 1zm-8 5zm-4 2zm-4-1zm0-5zm1-2zm-2-2zm6 1zm6 11zm2 2zm2 0zm1 3zm1 2zm-4 0zm0 3zm3 1zm3 0zm0 3zm2 0zm2 1zm2-2zm5 0zm3 1zm0 2zm2 0zm4-1zm2 2zm2 2zm-2 2zm2 3zm1 2zm-2 2zm1 4zm3-2zm5 0zm1-2zm1-1zm0-3zm-3 2zm-3-3zm1-3zm1-1zm4 1zm-3-5zm-4-4zm-3 2zm1 3zm-3-7zm-4 3zm-1-7zm2-1zm2-3zm-4-1zm-3 0zm0-2zm-2 0zm0-2zm-4 2zm-2 2zm3 2zm3 0zm1 2zm-7 0zm-2 4zm-2-1zm-2-4zm0-3zm6-5zm8-5zm4 4zm2 2zm2-2zm1 2zm2 0zm-1 2zm3 0zm4 1zm2-2zm1 2zm-4 4zm-3 4zm-2-5zm3-9zm-4-3zm-4-5zm-2-8zm8 2zm2 2zm3-7zm-1-2zm1-3zm-3-2zm7 4zm0 2zm-1 2zm-3 14zm2 4zm0 15zm-16 13zm-2 2zm-1-3zm-3-1zm-1 1zm-5-1zm-2 0zm-2-2zm1 5zm-2 5zm-1 2zm2 2zm1 2zm1-5zm5 3zm2-4zm2 0zm2-1zm3 2zm2-1zm-1-3zm-1 7zm3 0zm0 3zm-7-1zm-4-8zm-15 0zm-1-2zm-4-7zm2-3zm-3-1zm21-26zm6-19zm-3-10zm-5-3zm-3 1zm-2-2zm-4 0zm-2-1zm-2-2zm-1-2zm2-1zm-6 0zm-1 4zm-2 1zm-3-1zm1-3zm-5-1zm-3 3zm-2-2zm-2 3zm1 4zm1 3zm2-1zm1 4zm3 1zm0 2zm1 2zm2 2zm1 2zm3 0zm0-2zm1-2zm-2 0zm-2-1zm0-5zm-3-1zm7 1zm1-3zm2-3zm2 8zm-4 1zm3 4zm-1 2zm-1 2zm-2 2zm-3 0zm-1 3zm-4-1zm-2-2zm-1 3zm0-8zm0-2zm4 3zm-3-17zm9-13zm0-2zm2-10zm3 0zm2-1zm3 0zm-3-4zm-4 1zm0-2zm2-3zm0-2zm5 0zm2-2zm4 2zm0 4zm1 1zm2-2zm4-1zm-5 6zm-2 3zm3 18zm1 4zm-1 2zm26-16zm2-1zm3 0zm2 1zm2-1zm0-3zm2-2zm-5 2zm-3-3zm-3 0zm-3 0zm6 9zm42 18zm2 2zm0 2zm1 3zm-1 3zm3 1zm2-4zm-1-3zm-2-3zm2-1zm3-1zm3-1zm2 0zm1-3zm3-1zm-2-2zm2-4zm3 1zm-8-2zm-3 0zm-4 1zm-1 1zm6 6zm7 4zm2 3zm-2 2zm-2 2zm-3 1zm-2 0zm-1-4zm5-1zm6 3zm-1 2zm1 1zm2-2zm2-2zm2-2zm1-2zm0-3zm-2 0zm-3 1zm0 3zm2 0zm3 4zm2-2zm2-1zm2-2zm-2 5zm-3 3zm8 2zm3 0zm0-4zm2-1zm-3-2zm6 4zm4-1zm1 4zm4-1zm0 3zm-40-2zm-4 4zm-3 2zm2 2zm-1 1zm-2 3zm-3 0zm0 3zm0 3zm-4 2zm-2-3zm1-2zm0-5zm3-1zm2-4zm-1 46zm4 2zm-1 6zm-3 4zm-4 1zm-1-2zm-2 1zm0-2zm2-2zm3 0zm0-3zm-5-4zm-2 3zm-4 6zm-2 2zm-4 1zm-4 2zm-2 2zm1 4zm-4 2zm-2 4zm-1 2zm2 2zm-1 2zm-1 5zm2 2zm3 0zm0-3zm5-1zm0 2zm3 1zm0 2zm2-1zm1-2zm-1-3zm-2-2zm-1 0zm-2-1zm1-2zm-3 0zm0-3zm-3 0zm-7-3zm-3 2zm1 2zm-1 2zm-3 2zm-3-1zm-2 2zm-2 2zm-2-2zm-2 3zm-2 2zm-1-2zm-2 0zm-3 0zm-2 1zm2 3zm0 1zm-2 0zm0 3zm1 2zm1 1zm-1 2zm0 2zm-3 0zm-2-3zm0-4zm-2-2zm-3-3zm-3 2zm0-4zm1-2zm3-3zm3 1zm0-3zm3 0zm2 2zm2-2zm2 2zm0 0zm3 0zm1-2zm-2-1zm4-1zm4 2zm4-2zm-4-4zm9-1zm1 14zm2 0zm0 2zm2 2zm0 2zm2 0zm4 0zm5-1zm0 3zm-1 3zm-4 2zm-3 0zm3 4zm1 2zm0 2zm-3 0zm0-2zm-3 2zm-1 4zm-1 2zm0 2zm0 3zm-6 2zm-2-2zm-2 0zm1-2zm-4 1zm0 0zm-1 2zm-1 2zm-2-2zm2-4zm2-2zm-5-2zm-2 0zm1-3zm2-2zm3 1zm2-1zm2 2zm2-3zm0-3zm-1-3zm1-2zm-5 1zm-1 2zm-2 0zm-2-2zm-2-2zm-2 1zm-1-3zm1-4zm3 1zm2-3zm3 0zm2-1zm3 0zm1-1zm1 2zm-1 2zm3 0zm5 5zm-1 2zm-2 3zm-1 3zm-1 3zm3 2zm-5 2zm2 3zm10 0zm2-3zm2 2zm2-3zm2 2zm11-1zm1-2zm2-1zm2 2zm2-1zm0-3zm-2 0zm-2-1zm0-2zm1-3zm0-2zm-2-1zm-2-1zm-1 3zm-2 0zm0 2zm2 3zm-4-7zm0-2zm-1-2zm2-2zm4 0zm3 0zm1-2zm-3-1zm-2-1zm-2-1zm2-2zm3 0zm0-3zm1-1zm-2-1zm-1 2zm-3 0zm-1 2zm-2-2zm-1-2zm3-3zm-1-1zm-4-2zm0-3zm0-2zm-2 1zm8 2zm3-2zm3-1zm0-2zm3 1zm3 3zm0 2zm-2 2zm2 1zm-1 4zm-3-1zm-1-2zm0-2zm2 9zm6 2zm0 2zm-2 4zm2 3zm2 2zm-3 3zm-3 0zm-1-4zm3 8zm-1 1zm1 3zm4 0zm2 0zm-2-5zm8-11zm3-1zm-8-2zm3-8zm-4-4zm-3 1zm-1 3zm4-8zm3-3zm0-2zm0-2zm2-2zm1-3zm-8 7zm7 6zm6 2zm0-5zm13 29zm-5 3zm-42-4zm-1-3zm-29 1zm0 8zm-9 2zm-1 3zm-3-1zm-1-4zm-4 2zm-3 1zm-1-4zm-3 0zm0-2zm0 5zm-5-8zm1-2zm3 0zm1-1zm2 0zm22 31zm0 2zm3 0zm3-3zm-2-2zm-50-171z"/><path stroke="#9fc6e0" d="M1782 110zm0 2zm3 0zm-5 3zm-4 3zm3 2zm2 3zm2-1zm3 2zm1 4zm2-1zm3-1zm0 3zm2 2zm-1 3zm-2-2zm-3 3zm-2 2zm-3-1zm2-2zm-3-3zm-2 2zm2-5zm-4 0zm-1-3zm9-6zm3 0zm1-4zm6 2zm0 3zm0 3zm2 2zm3 0zm-2-3zm0 6zm3 1zm-1 5zm0 2zm2 0zm3 1zm1-1zm-1 3zm-6 2zm-1-3zm-6 1zm-2 0zm2-2zm5 10zm3-2zm4 2zm3-2zm-16-23zm-59 44zm-2 4zm-2 3zm1 3zm2 2zm0 2zm3-2zm2 0zm-1-3zm0-3zm-4 12zm-1 5zm5 2zm0 3zm3-2zm3-3zm0-3zm-5-1zm-5 10zm-2 5zm-1 2zm2 1zm3 0zm0 2zm1 2zm-3 1zm0 2zm-6 2zm10 4zm4 2zm2 1zm2-2zm-3-2zm0-4zm-2-1zm6-1zm1-4zm2 0zm2-2zm-2-1zm1-2zm1-1zm-4-2zm1-3zm-5 2zm-5 2zm-1 3zm4 3zm2 0zm2-3zm8 3zm1 5zm-3 0zm2 3zm-2 4zm-3 6zm-9 1zm-3-2z"/><path stroke="#d3a3bd" d="M1675 478zm-1 15zm6 6zm3-2zm6 6zm1 7zm3 2zm3 0zm0 3zm2 2zm-3 2zm-2-1zm1 4zm2 1zm-1 3zm-3 1zm3 4zm2 1zm1 2zm3 0zm4-5zm4-3zm-1-8zm0-8zm7-4zm-1-3zm6-4zm-2 13zm8 4zm4-3zm6 11zm-5 5zm2 8zm0 3zm2 3zm2 0zm4-2zm1 3zm4 3zm2-1zm2 1zm-1 1zm3 1zm-1 3zm1 3zm-5-4zm-3 0zm0 0zm-3-1zm-2 1zm-5-1zm-3-2zm-2 0zm1-2zm0-4zm-4-2zm-1-2zm-6 0zm-2-3zm-3 4zm-2-1zm2 9zm0 2zm-3-1zm-6 0zm-4 3zm-2-3zm-2 2zm-1 3zm3 1zm6 0zm12-2zm1-3zm5 4zm3-4zm-1-2zm5 10zm1 3zm2-1zm3 2zm-2 2zm4 2zm2-3zm0-2zm0-3zm5-3zm2-11zm0-1zm-1-3zm3-3zm4 4zm-2 2zm4 4zm4 0zm4 2zm0 3zm-3 4zm2 4zm-3 3zm-2-1zm7 2zm5 1zm2-2zm-2-2zm1-1zm1-3zm2 1zm2 3zm2 0zm2 6zm-6-1zm-4 7zm-10-3zm-3 2zm-3 3zm-3 2zm0 2zm-2-1zm-3 0zm-2-4zm1-2zm2-3zm-2-1zm-3 1zm-1 3zm-6 1zm-2-2zm-2-1zm-1-1zm-3 1zm-3 0zm-1 1zm0 2zm-3 3zm-2-2zm0-2zm-2-1zm-3 0zm-3-2zm2-3zm6 2zm2 1zm7-2zm2 6zm3 0zm2 4zm3 2zm2-1zm-3 6zm-3 2zm-1-1zm6 4zm19-11zm-6-10zm-2-2zm20-11zm0-8zm0-6zm5 2zm7 4zm11-2zm-1-8zm2-2zm-20-8zm-11 7zm-2-15zm25 43zm3-1zm2 4zm-69-6zm-17-17zm-12-2zm-2-2zm-3 1zm2 3zm1 2zm3 4zm-4-14zm-4-3zm2-2zm1-3zm-2-2zm1-6zm-4-1zm-1-1zm-1 2zm-3 3zm1 3zm2 6zm2 3zm1 3zm17-14zm-1-8zm-1-7zm-1-5zm5-11zm-4-16zm-19 32zm-6 3zm9 3z"/><path stroke="#6db3a0" d="M1718 348zm7-4zm8 3zm3 3zm3-6zm5-3zm2-3zm-3-3zm-5 0zm7 11zm3 6zm-2 3zm-2-1zm-2 0zm-1 6zm1 3zm4 5zm-5 2zm-3 3zm5 1zm1 1zm-1 2zm-2 2zm-2 1zm0 4zm-3 2zm0 3zm9-2zm2-4zm-3-1zm4-3zm0-2zm4 1zm1 3zm2 0zm1 2zm-2 1zm-1 2zm1 2zm4 1zm2 0zm2 0zm2 1zm0-3zm-4-2zm-1 2zm3-7zm-1-6zm1-4zm2-1zm-2-2zm2-1zm0-3zm3 4zm2-2zm1-1zm2-2zm2 0zm-1-4zm-2-2zm-2-1zm-2 1zm3 2zm6 0zm0-2zm2-1zm1-2zm2-2zm-2-1zm-3 2zm-1-1zm-1-1zm-2-2zm-2 0zm-2-1zm-3-1zm-1 3zm-2-1zm0-4zm-4-2zm-1 2zm-2 2zm-2 0zm0-2zm-1 0zm-1-3zm2 0zm-1-4zm3 13zm1 4zm-1 3zm-3 5zm-2 0zm6 5zm-5 4zm-1 2zm4 2zm-4 7zm16-7zm-1-2zm2-3zm2-1zm3-2zm3 1zm0 4zm-2 0zm-2 3zm4 1zm4 2zm-1 3zm-2 0zm0 3zm-2 1zm-2 2zm-2 1zm-2 2zm4 3zm3-4zm2 1zm2-3zm-1-2zm2-3zm4-1zm2 2zm2-1zm2-3zm-2-2zm-3 0zm4-3zm2-1zm2 2zm2 3zm-2 1zm3 4zm3-2zm2-2zm0-2zm0-3zm1-3zm1-3zm-4-3zm0-2zm-2 1zm-1 2zm1 2zm-2 1zm1 2zm-5-1zm-2 0zm1-4zm-3-2zm-1-2zm-2-2zm-2-2zm-3 0zm4-3zm2-3zm5 2zm1 2zm1 2zm-2 1zm2 3zm2 1zm1-2zm2-2zm-13 9zm-2-1zm-2 2zm0 4zm-1 1zm-8 6zm-2 2zm1 3zm11 4zm3 1zm2 0zm3 0zm0 2zm3-2zm4 2zm2 1zm0 2zm0 0zm3-3zm-1-3zm-3-2zm4-2zm0-1zm2-1zm4-1zm1-1zm1-2zm-1-1zm-4-1zm2-3zm0-2zm1 17zm3 1zm0 2zm0 3zm-4-1zm-2 1zm1 3zm-2 0zm0 2zm-2-1zm0 3zm2 3zm2-4zm2-2zm2 3zm-16 0zm-1-2zm-1 0zm-4-1zm-1 1zm0 2zm0-5zm2-1zm-4-3zm-3 0zm1 3zm-4-1zm6-9zm3 1zm5-3zm1 12zm-12-32zm-19-6zm2-6zm-33 18zm0 2zm-5-5zm-2-13z"/><path stroke="#d0343f" d="M1535 326zm3 1zm2 1zm3 1zm1 2zm0 2zm-2 2zm-1-4zm-2 0zm-2-1zm10 4zm1 2zm-2 2zm3 1zm2 0zm0-3zm3 1zm0 3zm2 1zm3 0zm2 3zm-2 1zm-3-1zm-4-2zm12 3z"/><path stroke="#efa23f" d="M1561 379zm1 3zm2-1zm2 2zm2 0zm2 1zm2 2zm3 0zm3-2zm2 1zm2 3zm2 2zm-4 1zm-6 2zm-1-4zm-4 1zm-1 2zm-4 0zm0 4zm2 4zm3-3zm-3-9zm19-3zm-26 35zm-1 1zm2 0zm1 2zm2 0zm2 1zm1 2zm-4 3zm0 3zm-3 1zm-2-2zm1-2zm2-3zm-4-4zm0-3zm-3 1zm-2 4zm-1 2zm1 3zm2 1zm-4 2zm-2 1zm3 1zm6 0zm1 1zm9-3zm1 2zm2-2zm-23-5zm-4-9zm-1-2zm3 0zm2 1zm3 0zm-1-3zm-7-1zm-3 2z"/></g>
<path d="M1525 93.5V606.8H2001" fill="none" stroke="#000" stroke-width="1.2"/>
<path d="M1540 606.8v6" stroke="#000" stroke-width="1.2"/>
<text x="1522.3" y="635.8" font-size="24" fill="#000">−50</text>
<path d="M1661.1 606.8v6" stroke="#000" stroke-width="1.2"/>
<text x="1643.6" y="635.8" font-size="24" fill="#000">−25</text>
<path d="M1782.2 606.8v6" stroke="#000" stroke-width="1.2"/>
<text x="1776.2" y="635.8" font-size="24" fill="#000">0</text>
<path d="M1903.3 606.8v6" stroke="#000" stroke-width="1.2"/>
<text x="1891.7" y="635.8" font-size="24" fill="#000">25</text>
<text x="1488.6" y="112.5" font-size="24" fill="#000">50</text>
<text x="1488.8" y="245.9" font-size="24" fill="#000">25</text>
<text x="1502.0" y="379.2" font-size="24" fill="#000">0</text>
<text x="1474.9" y="512.6" font-size="24" fill="#000">−25</text>
<text x="1727.5" y="677.9" font-size="24" fill="#000">tSNE1</text>
<text transform="translate(1462.8 350.6) rotate(-90)" font-size="24.6" fill="#000" x="-35.2">tSNE2</text>
<text x="1540.8" y="193.8" font-size="26" fill="#000">Endothelial</text>
<text x="1579.7" y="224.9" font-size="26" fill="#000">cells</text>
<text x="1754.5" y="183.6" font-size="26" fill="#000">B cells</text>
<text x="1669.0" y="296.6" font-size="26" fill="#000">CD8+</text>
<text x="1662.9" y="327.8" font-size="26" fill="#000">T−cells</text>
<text x="1747.0" y="377.3" font-size="26" fill="#000">CD4+</text>
<text x="1739.4" y="408.5" font-size="26" fill="#000">T−cells</text>
<text x="1914.8" y="295.8" font-size="26" fill="#000">Tumor</text>
<text x="1922.7" y="326.4" font-size="26" fill="#000">cells</text>
<text x="1539.6" y="471.2" font-size="26" fill="#000">Fibroblasts</text>
<text x="1726.1" y="497.6" font-size="26" fill="#000">Monocytes</text>
<text x="1555.5" y="583.3" font-size="26" fill="#000">Macrophages</text>
<path d="M1587.4 243.7L1565.9 322.2M1586.3 415.5L1610.5 444.1" stroke="#000" stroke-width="1.5"/>
<text x="-0.8" y="809.5" font-size="38" font-weight="bold" fill="#231815" stroke="#231815">c</text>
<text x="-0.5" y="1457.8" font-size="38" font-weight="bold" fill="#231815" stroke="#231815">d</text>
<text x="1415.5" y="808.0" font-size="38" font-weight="bold" fill="#231815" stroke="#231815">e</text>
<text x="1415.1" y="1456.8" font-size="38" font-weight="bold" fill="#231815" stroke="#231815">F</text>
<text x="263.7" y="841.2" font-size="26.5" fill="#000">EPCAM</text>
<text x="952.6" y="840.9" font-size="26.5" fill="#000">CD24</text>
<text x="263.9" y="1489.9" font-size="26.5" fill="#000">EPCAM</text>
<text x="952.6" y="1489.6" font-size="26.5" fill="#000">CD24</text>
<g stroke-width="3.6" stroke-linecap="round" fill="none"><path stroke="#d3d3d3" d="M120 1077zm2 1zm2 1zm2 1zm1 1zm0 2zm-1 2zm3-1zm1 2zm-1 2zm2 0zm1 0zm1-2zm2 1zm0 2zm2 1zm2 0zm2 3zm-2 1zm-3-2zm-2-1zm9 3zm-19-12zm-2 0zm-1-2zm20 43zm1 3zm2-2zm1 2zm2 0zm2 1zm1 2zm2 0zm-1 2zm0 3zm-3-1zm-1 1zm-4 0zm0 4zm2 3zm2-3zm-2-8zm10-3zm1 1zm2 3zm2 1zm1-4zm-5 5zm-13 27zm-2 1zm-1 2zm-1 3zm-1 2zm1 1zm-2 1zm1 1zm4-3zm0-2zm3 2zm1 2zm2-2zm-3-5zm0-1zm-5-3zm-1-1zm-1 1zm-1 1zm-2-2zm2-1zm-4 4zm-1 2zm-3 1zm2 4zm-2 1zm3 1zm1-4zm2 1zm-4-12zm-1-2zm-3 1zm1 2zm-3 0zm-1-2zm0-2zm-2 1zm99-32zm1-1zm2 0zm1-1zm1 0zm-2-3zm2-2zm-2-2zm1-1zm2-2zm3 0zm-1-3zm3 0zm2 2zm2-2zm1 2zm0 0zm2 0zm1-2zm-1-1zm3 0zm3-3zm4 2zm0 3zm2 1zm2-1zm2-2zm-2-2zm0-2zm3 0zm2 2zm0 3zm1 1zm0 2zm-1 4zm1 2zm-2 1zm0 2zm2 0zm2 0zm1-3zm0-3zm4 0zm0 2zm2 0zm0 2zm2-1zm1-2zm-1-2zm-2-2zm0 0zm-2-1zm-1 1zm-1-3zm0-2zm-2 0zm-2-4zm4-2zm-1-2zm1-2zm3 3zm1 1zm1 2zm3 2zm1 1zm-2 2zm0 2zm2 0zm0 2zm0 2zm2-1zm0 3zm2 0zm0 1zm2 0zm-1 2zm-2 0zm-3 0zm-2 2zm1 1zm0 2zm1 2zm2 0zm-1 2zm1 2zm3-1zm0 2zm0 2zm-1 1zm-1 2zm4 0zm2-2zm2-1zm2-1zm0 2zm2-1zm2 0zm3-1zm2-2zm2-2zm-1-2zm0-2zm3 1zm1 2zm2 1zm1 1zm2-1zm3-1zm1-1zm2-4zm-1-1zm-3 0zm0-3zm2-1zm-1-2zm1-1zm0-2zm2 3zm2-1zm1-1zm2-2zm1 0zm0-3zm2 0zm0-2zm2 2zm3-1zm1-2zm1-3zm-3 0zm-2-1zm0 2zm-2-1zm-1-1zm-1 0zm-1-2zm-2 0zm-2-1zm-2 0zm-1 2zm-1-1zm1 3zm4 3zm-1 1zm2 2zm1-2zm-7 2zm-6-1zm0-2zm-4 0zm-2-3zm-2 1zm0 2zm-2-1zm-1 0zm-2-1zm0 3zm-2 1zm-1 3zm-3-2zm0-3zm-2-1zm-2 0zm0 2zm1 2zm-1 1zm-1 2zm0 2zm3-1zm-5-2zm1-2zm-1-3zm-2-4zm2-1zm2-1zm1-2zm2 1zm2 0zm0 3zm0 1zm2-1zm2-3zm1-2zm3 2zm1-1zm2 0zm-1-2zm0-2zm1-1zm0-2zm-2-2zm-4 0zm-2 2zm-4 1zm1 2zm-3 2zm-1-2zm-1-1zm-1 2zm-1 2zm-3-4zm-2 2zm-3 1zm1 4zm2 0zm-4 10zm-1 11zm0 3zm-1 2zm-4 1zm-2 1zm-3-2zm0-2zm-2 4zm-1 3zm-1 2zm-3 0zm0-3zm-1-3zm2-1zm-5 1zm-1 2zm-1 0zm-2-2zm-1-2zm-2 1zm-1-3zm-2 2zm-1-1zm0-2zm0-2zm1 0zm0-1zm0-3zm-2 0zm5-1zm2 0zm2 1zm0 2zm2 0zm2-1zm2 0zm2-1zm0 2zm-1 2zm3 0zm3-2zm-1-1zm1-1zm-8-3zm-1-2zm-2 2zm1 1zm-5 4zm1 2zm-3 0zm-3 7zm0 2zm-1 2zm-2-2zm-1-3zm-1-3zm-1-2zm-5 7zm0 2zm3 0zm1 3zm2 0zm-5 0zm10 1zm2 1zm1-2zm2 2zm2-1zm2 1zm2-2zm-1-2zm3 5zm2 1zm2 3zm-3 2zm0 2zm-1 0zm0 3zm1 2zm2-3zm5-2zm0-2zm0-3zm1-1zm1-3zm2-1zm0-2zm2-1zm0 2zm1 2zm-1 2zm1 2zm2-2zm1 1zm-6 2zm-6-4zm-9 4zm-1 1zm1 2zm0 0zm0 2zm-2 1zm-1-1zm3 5zm-1 2zm3 0zm-6-14zm-2 0zm6-14zm24 0zm1 2zm6-2zm2 1zm1 1zm0 2zm4-2zm2 0zm3 1zm0 2zm0 2zm-4-1zm-1 1zm-3 2zm1-10zm1-2zm0-2zm2 1zm2 2zm2 0zm0 2zm3-1zm2 0zm-1 2zm-2 2zm2 3zm8 1zm0 2zm1 2zm3 0zm2 0zm2 0zm1-1zm0 3zm3-1zm2-1zm2-1zm2 1zm2 1zm1-2zm0-2zm1-2zm-1-2zm1-2zm-1-3zm2-2zm-1-3zm2-2zm1 1zm-2-3zm3-3zm1 1zm1 2zm3 1zm1-3zm2 1zm1-2zm1-2zm-4 0zm0-2zm-1-2zm-1 4zm6 5zm0 1zm2-1zm0-1zm-1 4zm-2 2zm1 1zm-4-1zm-2 0zm1 2zm-1 2zm-1 2zm2 2zm2 0zm2-1zm-2-3zm6 2zm1 2zm2-2zm2-2zm0-2zm-3-1zm-1 2zm1-5zm4 9zm0 2zm2-1zm-3 3zm-3 0zm-1 1zm0 1zm-1 3zm-2-1zm-1 4zm1 2zm1 1zm0-2zm2-1zm2 2zm2 0zm3 0zm0-2zm0-2zm-2 0zm-2 7zm-2 0zm0 2zm-2-1zm0 2zm2 3zm2-3zm2-2zm1 2zm-13 0zm-1-1zm-1 0zm-3-1zm-1 1zm0 1zm1-4zm1-1zm1-3zm-1-2zm-2 0zm-2 0zm-2-1zm3-2zm2 0zm-1-3zm-2-1zm4 0zm3 2zm3-1zm3-1zm-6 7zm1 5zm-7-2zm-2 2zm-1-2zm-3 2zm-4-2zm-1 5zm0 10zm-17 9zm-1 2zm2 1zm-1 2zm2 2zm2 0zm1 3zm-1 3zm-2 2zm-2-2zm-1-1zm-2-2zm0-2zm-2-3zm2-1zm-2-4zm1-1zm-19-7zm-5 30zm-1 4zm0 3zm2 2zm4-1zm1-1zm2-1zm2 3zm-1 2zm-2 2zm-4 1zm2 5zm0 4zm-5 0zm0-2zm-1 4zm1 3zm0 3zm2 2zm3-2zm-1-3zm3 0zm2 3zm2-2zm4-4zm2 2zm2 3zm-4 3zm0 3zm-1 3zm-2 2zm-3 2zm-1-3zm-2-3zm-3 1zm-3 0zm-2 2zm-1-3zm-2-2zm0 7zm-3 2zm-3-1zm0-4zm-2-1zm-1-2zm-2 1zm0 1zm0 3zm-2 1zm-3 1zm0 2zm-3 2zm1 2zm-2 2zm3 2zm2 0zm0 3zm2 0zm3 1zm-2 2zm1 1zm2 1zm2 2zm-2 1zm-3 2zm-2 0zm0-2zm0-2zm1 0zm0 6zm-3 1zm-4 1zm0-3zm-2-2zm-5 0zm-1-2zm2-3zm1-1zm1 1zm3 0zm-3-3zm-2-6zm-1-2zm2-2zm-1-2zm3-2zm1 2zm2-4zm0-3zm3-2zm3 1zm2-2zm2-3zm2-1zm1-2zm1-1zm0-3zm1-3zm2-4zm0 0zm-2-1zm-2 1zm-4-1zm-2-2zm1-1zm0-4zm-2 0zm2-4zm1-2zm4 1zm2 2zm3-1zm2-1zm-1-2zm-2-2zm-3 1zm-4 6zm6 2zm7 7zm-2 3zm-2 7zm-8 0zm-3 0zm-3-1zm-2 1zm-2 3zm1 2zm-3 0zm0-4zm-3-1zm-1 2zm-1 3zm-1 2zm2 0zm0 2zm-3 1zm-2 0zm-1 3zm0 0zm-1 2zm-4 3zm5 2zm-1 7zm14 1zm7-2zm0-2zm1-3zm-2-1zm6 0zm2 1zm7 0zm0 3zm2 2zm1 3zm4 1zm3 2zm3-2zm-2-2zm0-8zm3-1zm-8 2zm-3 1zm2-4zm0-2zm0-2zm4-7zm3 1zm9 4zm1 2zm6 3zm1-2zm-1-5zm-2-3zm0-2zm7 0zm2-1zm-1-2zm1-4zm4 3zm1 2zm3-1zm2 1zm1 1zm2-1zm-1-2zm4 0zm2 0zm0 3zm-3 1zm-1 3zm-3-1zm-2 0zm0-2zm0 4zm-1 1zm-2 3zm-4 0zm0-4zm0 8zm-1 1zm-1-1zm1 4zm-1 1zm1 1zm-3 1zm-1 1zm3 1zm-2 2zm-2 3zm-3-1zm-1 2zm2 3zm4 3zm2-2zm2 2zm-1 2zm3 2zm-1 5zm-7 4zm1 2zm0 0zm-2 2zm1 2zm-1 3zm-1 1zm2 0zm0 3zm0 3zm4 1zm2-2zm2 4zm-2 2zm-2-1zm6 2zm4 1zm2-2zm-2-1zm1-2zm1-2zm2 1zm1 3zm2 0zm1 5zm-5-1zm-3 6zm-8-2zm-3 1zm-2 3zm-3 1zm-1 1zm1 1zm-3-1zm-2-3zm1-2zm-1-3zm2 0zm2-3zm2 3zm-8 1zm-1 2zm-4 1zm-2-2zm-2 0zm-1-2zm-2-2zm-1 3zm-2 0zm-1 2zm0 1zm-2 2zm-2-1zm0-2zm-1-1zm1-2zm2 0zm-6 2zm-2-2zm1-2zm8-7zm2-3zm3-4zm2-1zm1 1zm0-3zm0-3zm3-2zm0-2zm2 2zm1 3zm0 1zm-2-1zm5-2zm1 3zm4-1zm0-1zm-1-3zm2-2zm0 9zm-2 1zm-1 3zm-1 0zm-2-1zm-2 1zm-4-1zm-3 6zm0 2zm3 0zm2 1zm-2 2zm4 2zm1-3zm0-2zm0-2zm4-2zm2-3zm7-5zm1-1zm2 2zm3 1zm0 2zm4-3zm1-3zm-1-3zm4 2zm1 0zm5 3zm6-1zm2 0zm1 0zm3-1zm1-3zm2 2zm0 2zm4 0zm1-1zm-1-1zm3-1zm3-3zm-1-1zm1-2zm1-2zm-3 0zm-3-3zm-1 1zm-2 1zm1 3zm-2 3zm0 0zm-2-2zm-2-3zm1-1zm0-3zm-2 0zm-3 1zm-3 4zm0 3zm3 0zm0 2zm2 1zm0-5zm-8 0zm0-4zm0-3zm1-2zm0-3zm2-3zm0-2zm-3 1zm-1-5zm0-2zm-4 0zm-1-4zm-1-2zm-1-1zm-1-3zm-2 2zm-2 0zm1 2zm-2 1zm-2 3zm2 5zm1 1zm1 2zm2-1zm1 2zm2 1zm2 0zm-2 2zm1 1zm-2 3zm-2-2zm-4 0zm-2-1zm2-2zm-3-3zm-1 1zm-1 2zm8-6zm0-3zm1 0zm1-1zm1-2zm5-2zm6 1zm3 1zm3 1zm-2 2zm-4 0zm1-8zm-2-3zm-3 0zm0-4zm-2 0zm1-2zm-4 4zm-1 0zm12-1zm2-4zm-1-4zm1-3zm2 1zm1-4zm-2-3zm1-2zm1-2zm-4 0zm-2-2zm-2-1zm1-1zm3 0zm-7 5zm-4-1zm-2-2zm3-1zm-3 5zm0 2zm0 1zm0 2zm-2-1zm-3 1zm-2-1zm0 2zm3-5zm0-4zm-2-1zm-1-2zm3-1zm-5 6zm-1-1zm-4 2zm-1 0zm-4-3zm-1 2zm-1 0zm-5 1zm-1-3zm1-1zm-1-2zm0-2zm1-1zm1 2zm-5 1zm-1-1zm-1 1zm0-2zm-2-1zm1-2zm1-1zm1 2zm-4 4zm3 2zm2 0zm6 9zm6-12zm6-10zm1-2zm1-3zm1-2zm0-2zm3 7zm0 4zm-2 0zm-7-5zm-2-2zm20 26zm4 1zm3 1zm-2 2zm11 4zm-1 4zm1 6zm1 4zm1 3zm1 0zm0 5zm0 2zm2 0zm-3 2zm-2 0zm-2 0zm-2 3zm1 2zm2 0zm2 2zm0 3zm3 1zm2-1zm-1-2zm4 1zm3 4zm3 5zm-2 1zm-6 10zm1 2zm-6 2zm-3 1zm-5 3zm-2 1zm0 2zm-2 1zm4 3zm4-4zm-5-10zm-5 5zm-12 0zm-9 20zm-15 0zm-2 1zm-2-2zm-2-3zm-3 0zm3 10zm1 1zm2-2zm-15-26zm1-3zm-3 0zm0-2zm-3 1zm-5 0zm-3 3zm-3-2zm1-1zm-2 5zm2 1zm6-1zm-2-11zm-2-6zm-3 0zm0-1zm-2-2zm-6 2zm1 4zm1 1zm-2 2zm1 2zm2 3zm-4-7zm-3-3zm-1-2zm1-2zm-3-1zm21 0zm4-3zm3 3zm3 5zm2 3zm-5 1zm-1-1zm11-1zm0 2zm-1 7zm5-16zm1 0zm4-5zm3-2zm-1-4zm2-3zm2-6zm2 0zm1 2zm-3-4zm3-2zm3 0zm17 22zm14-7zm14-4zm-10-12zm28-25zm4 0zm-2-19zm16 1zm10 8zm2-16zm-15-26zm-2 0zm19-6zm9 4zm13-5zm10-4zm-6-19zm1-2zm-8-3zm-8-3zm-5 5zm-11 12zm-16-19zm-2-10zm0-2zm3-1zm7-1zm-7-10zm13-7zm11 11zm16-6zm4 1zm3 9zm-24-34zm-1-5zm1-11zm0-4zm-5-9zm2-22zm12-7zm4-8zm10 5zm14 2zm-9-16zm0-6zm4 1zm3-14zm-13-5zm-8 3zm-2 15zm-32 35zm38 16zm10 6zm15 6zm-59 14zm-4 0zm-1 0zm-14-1zm-10 7zm2 3zm-12-5zm-10-12zm1-8zm-6-1zm0-3zm-3 1zm-1-4zm-3 1zm-3-2zm-2-1zm1 3zm0 3zm-3-1zm-4-3zm-2 2zm-1-3zm-2 0zm1-2zm-1-1zm-2 0zm0-2zm2-2zm2 1zm0 2zm2 2zm1-1zm2-1zm-9 5zm-2 0zm-1 1zm1 1zm-2-4zm1-1zm-2-3zm-3-1zm-2 0zm0-2zm3-1zm2 0zm-1-2zm2-3zm2 1zm-7-2zm-2 0zm-3 1zm-1 1zm3 8zm-2 1zm-2 1zm-2 1zm0 2zm1 2zm-1 3zm3 0zm2-3zm3 0zm2 0zm2-1zm-1-3zm-4 1zm-3 0zm-5-3zm2 13zm-1 3zm-3 2zm0 4zm-1 2zm2 2zm3-2zm0-3zm1-2zm1 0zm3-4zm-1-1zm2-2zm3-3zm-10 44zm-1 3zm-2 3zm-4-3zm11-2zm12 5zm-1 3zm2 0zm0 3zm-1 0zm1 1zm1 0zm2-1zm1-2zm3 1zm-6 5zm-2 1zm-7-1zm0 9zm-2 0zm1 3zm-1 4zm0 2zm4 1zm0-3zm3 2zm1 1zm0 2zm3 1zm1-7zm-3-4zm-2 0zm-11 3zm0 2zm19 16zm1-1zm7-3zm2-1zm0-4zm3 0zm0-3zm-1 0zm1-3zm-2-2zm-3 2zm-2 1zm8 10zm0 2zm-2 1zm-3 0zm12-7zm32-31zm7-17zm-109-6zm-10-1zm0-2zm-1-3zm-4 0zm-2 2zm-2 0zm-1-1zm-2 1zm-1-1zm-3 3zm0 2zm2 0zm3 0zm-1 3zm-2 1zm-4 0zm-2-2zm2-1zm0-3zm0-2zm-5-1zm0 5zm0 4zm-3 1zm1 2zm-4-1zm-2-2zm0-2zm-2 0zm-2-2zm-5-2zm-4-1zm0-4zm1-2zm-2-1zm3-1zm2-1zm2-1zm2-1zm-1-3zm-3 0zm0 2zm-2-3zm-2 2zm0 2zm4 5zm5 0zm2-2zm2 3zm3-6zm1-2zm1-1zm1-2zm2 2zm2 0zm2-1zm1-2zm1-2zm1 4zm2 1zm3 0zm-2-3zm1-4zm-1-2zm-1-2zm-2 0zm4 0zm0-2zm1-2zm2 1zm2-1zm3-1zm3-4zm-1-3zm-2-1zm3-1zm-1-4zm-3 0zm-1 2zm-1 1zm-3 0zm-4-2zm-2-1zm-3 1zm-1-2zm2-2zm0-1zm2-2zm1-1zm-2-1zm-4-1zm0 2zm-2-1zm-2 3zm-2 1zm-2-2zm0-2zm-2 1zm-2 2zm-1-2zm-1-2zm1-3zm-2-1zm-2-1zm-1 1zm-1-2zm1-1zm2-1zm2 0zm2-1zm0-3zm-3-1zm-1 1zm-2-4zm-3 2zm-2 1zm2 2zm-2 2zm2 2zm1 4zm-3 0zm-2 0zm-2-1zm-2-2zm3-2zm0-2zm-6 8zm4 2zm2 4zm4 0zm2 2zm3 0zm2 0zm2 0zm3 0zm0 2zm-1 1zm-1 1zm0 2zm2 2zm2 0zm3 1zm2 1zm2-1zm-1-2zm1-2zm-1-3zm-5 0zm-2 1zm3 2zm-8 4zm-2 3zm-1 2zm1 3zm-1 2zm-1 2zm-1-1zm-1-1zm-1 2zm-2-1zm0 2zm-3-1zm0-2zm2-1zm-2-3zm-1-3zm-2 0zm-1-2zm0-4zm1-2zm2 2zm2 1zm0-4zm4 3zm1-2zm4-1zm-1 4zm-6 6zm3 2zm0 8zm2 0zm-2 2zm0 3zm3-2zm2-2zm1-2zm1-2zm3-2zm1 2zm0 2zm-2 1zm1 2zm3 1zm1 2zm-4 1zm1 4zm-7-4zm-8-2zm-1-1zm-1 2zm14-12zm4-2zm2 1zm2-1zm1 2zm-4 2zm2 5zm2-1zm2 2zm0 2zm4 7zm-3 3zm4 4zm6-4zm3 1zm1-2zm2-2zm-2-1zm3-2zm2 0zm1 2zm0 2zm0 3zm-2 0zm-1 1zm-1 0zm3 1zm-6 1zm0 7zm3 0zm2 1zm0 3zm2 4zm-5 0zm0 4zm-2 1zm1 3zm-1 2zm-1 2zm-1-3zm-1-2zm-2-3zm-2 3zm-2-1zm0 2zm-2 2zm-1 1zm3 0zm1 2zm2-2zm1 3zm1 3zm-2 1zm-2-2zm-2 1zm-2 0zm-1-2zm0 5zm4 2zm3-1zm3-1zm2-2zm2-2zm-1-1zm3-1zm1-3zm1-1zm3 1zm0 3zm-2 2zm1 2zm1-1zm-2 3zm-4 0zm-2 1zm-3 2zm-15-1zm-1-2zm1-2zm-2-1zm-1 2zm-4-3zm-1-3zm-3-6zm2-2zm-3-1zm5-2zm0-2zm2 3zm3 1zm0 2zm2 0zm1 1zm-2 1zm1 2zm2 0zm-3 3zm4-8zm4 0zm9-4zm2-5zm6 11zm-26-13zm19-21zm-1-2zm4-1zm1 2zm2-2zm1 1zm2 2zm1-3zm0-1zm-3-2zm-3-1zm-5-6zm-2 0zm-1-3zm-1-1zm-1 1zm-3 0zm2-3zm-1-3zm5-6zm2 0zm0-4zm3-1zm2-1zm0-4zm-2 0zm-2 2zm-2-3zm1-3zm3-1zm0 2zm3 0zm2 0zm3 0zm2 2zm-1 3zm-2 0zm-1 1zm2 2zm3-2zm2-1zm0-2zm1-2zm-10 12zm-10-6zm0-2zm-1-2zm-2-1zm-2 2zm-2 0zm-3 0zm-4 2zm-1-1zm0-2zm-4 0zm2-5zm4 1zm2-2zm0-3zm1-2zm3-1zm3 2zm-2 2zm-2 1zm0 2zm2 0zm-1 2zm4-4zm2-2zm1 2zm-1 2zm-12-9zm-3-1zm-2 1zm-3 0zm0 2zm-4 17zm-1 2zm-14 1zm38 18zm6-3zm1-1zm9 19zm-29 58zm24 90zm-1 1zm2 3zm1-1zm2-2zm-3 5zm-1 0zm1 3zm-5-3zm-3 3zm0 2zm0 4zm0 0zm15 0zm3 0zm5 2zm-4-10zm-2-3zm-2 3zm-1 17zm10 15zm1 2zm0 2zm3 2zm-1 2zm3-3zm1 1zm4 0zm-3-4zm-4-2zm8 11zm116 21zm2 1zm2 0zm0 3zm-1 0zm3 2zm-1 2zm-2 0zm4 3zm-1 1zm3 2zm-1 2zm4 0zm-2-4zm28-71zm33-43zm21 17zm3-32zm-187-163zm-4-3zm-2-1zm1-2zm3 1zm4 0zm2-4zm1-2zm-3-1zm-1-3zm-2 0zm1-2zm2-2zm0-2zm-3 0zm-1 2zm-2 3zm-5-3zm1-2zm-2-3zm-2 1zm-2 4zm-1 2zm2 1zm2-1zm0 2zm1 2zm-2 0zm0 2zm5 0zm2 1zm-4 5zm-1 4zm3 1zm-8-4zm-3-5zm14-14zm4-1zm-5-4zm-2 2zm-2-1zm-4-2zm1-4zm3 1zm5 0zm-5-6zm-1 0zm-2-1zm-1 2zm-2-3zm0-2zm2-3zm1-4zm3 6zm0 2zm13 25zm38-49zm2-5zm-1-3zm2-1zm0-2zm2 2zm1 0zm1 2zm1-3zm-5-5zm-2-1zm2-2zm-3-1zm1-2zm-2-2zm-1 2zm-3 0zm0 3zm0 3zm2 2zm-1 2zm0 2zm0 2zm-2 0zm-2-3zm-1 1zm-1-2zm-2 2zm-3-3zm2-2zm0-2zm-3 0zm-1-3zm3-2zm2-1zm2-2zm2 0zm2-4zm4 2zm-9-4zm-2 0zm0-2zm-1 5zm-4 2zm9 8zm3 5zm12 12zm3-2z"/><path stroke="#d0ced5" d="M366 1030zm23 19zm-20 42zm11 15zm6 8zm26 10zm14 32zm-42 24zm-16-4zm97-51zm-51-117zm9-6zm-10-11zm8-5zm-83 75z"/><path stroke="#cccad7" d="M406 982zm15-11zm8-5zm-3 83zm-7 12zm2 10zm-14-7zm-30 8zm-18 0zm-3 9zm-6-30zm14-14zm14 69zm-1 18zm29 5zm0 4zm-2 5zm9 23zm34-107z"/><path stroke="#c9c5d8" d="M405 963zm18 5zm-21 40zm4 6zm-14 1zm-1 22zm-8 6zm-6-3zm-3-6zm4 14zm-3 3zm-19 6zm-9-21zm-12-1zm56 61zm11 13zm11 12zm-3 8zm-24-6zm68 24zm16-4zm-18-80zm-8-19zm-5-18zm-12 37z"/><path stroke="#c6c0da" d="M414 977zm18-4zm-7 21zm6 6zm-14 3zm-6-4zm3-3zm-9 13zm-10 12zm-21 14zm14 16zm1 16zm9 6zm16 14zm-19 24zm-9 5zm12 6zm12-2zm-20 21zm-19 38zm-4-87zm36-47zm16-6zm13-6zm18 76zm39 53z"/><path stroke="#c1b9d9" d="M412 961zm-5 11zm1 3zm-5 5zm0 3zm2 0zm-7 18zm14 5zm7 8zm-1 3zm19 0zm5 25zm12 10zm-20 16zm-11 2zm0-6zm-3-12zm1-1zm6 0zm-37 12zm-9 0zm3-7zm-3-7zm-2 1zm-6 2zm-10 1zm-10-1zm2 18zm16-28zm12-6zm5-11zm2 58zm30 16zm21 0zm7 12zm14 10zm-17 12zm-28-9zm-9 8zm-11-2zm-11 3zm7-14zm-13-1zm60 48z"/><path stroke="#bbb1d6" d="M403 968zm9 21zm-5 14zm-6 8zm-5 8zm-7-3zm-5-2zm2 18zm-8 6zm-16 7zm-2 0zm16 17zm-4 5zm11 0zm0-2zm2 6zm4 8zm5 1zm-2 14zm-6 1zm-10 3zm2 6zm-14-25zm41 12zm5 12zm20-38zm6-10zm-5-5zm-4-9zm-2-4zm5-5zm9 6zm-2-23zm-3-18zm-7-3zm-1 2zm-30 44zm54 21zm10 55zm4 1zm1 13zm-15 12zm-12 3zm-8 47zm-53-11zm-8-2z"/><path stroke="#b4a9d2" d="M424 966zm-11 13zm2 11zm1 6zm-6 0zm-9-1zm-6 15zm1 14zm-5 0zm10 0zm-15 21zm-11 6zm1-16zm-6-10zm-28 25zm16 12zm49 6zm5 1zm2 5zm17-3zm-11 24zm0 14zm-9 17zm6 11zm6 13zm3 17zm24-1zm5 3zm-5-9zm2-5zm4-13zm-15 3zm26-19zm-12-18zm-66 2zm-13 8zm-1 3zm22 22zm-27 39zm59-139zm2-1zm2-43zm-4-8z"/><path stroke="#aea0cf" d="M403 973zm3 2zm1 3zm9 7zm3-1zm14 25zm3 4zm-9-1zm10 13zm7 14zm-13 14zm3 3zm10 5zm-22-14zm-4-5zm-25-2zm-6-12zm-5-11zm7-3zm-20 21zm-4-1zm-6 4zm0 10zm-7 9zm24-11zm3 11zm8-2zm4 0zm2 5zm11 17zm7 2zm-2 11zm2 3zm8-4zm-5 16zm6 1zm21-1zm3 4zm13 13zm13 7zm5 13zm10 14zm9 23zm-5 18zm-11-8zm-18-10zm-6-13zm-8-14zm-12 3zm-9-7zm-7-1zm7-11zm-25 6zm-17-9zm-3-13zm7-2zm9 2zm5-4zm-9-6zm-4-9zm4-4zm4-7zm-15 12zm-7 11zm-7-32zm45-14zm6 105zm-37 5zm99 38z"/><path stroke="#a898cc" d="M409 974zm3 0zm-12 13zm0 16zm-2 6zm6 4zm-1 14zm12 3zm3-2zm8 4zm0 3zm-1 4zm6 8zm-6 7zm12 6zm-12 12zm-17-15zm-8 14zm-2 10zm-2 7zm-1 2zm0 17zm-2 5zm-2 5zm-2-1zm-7 2zm3 12zm16-23zm18 4zm0 4zm-2 7zm7 15zm10 12zm-6 6zm5 5zm4 0zm12-4zm13-31zm-15-23zm-11-2zm-19-3zm-28-37zm-2-12zm-11 11zm-6-22zm-2-8zm8-15zm14-3zm32-7zm4 1zm14 4zm-7 11zm-2 5zm1 6zm1-53zm-79 63zm-1 19zm20 109zm38-13zm53 57zm31-44z"/><path stroke="#9e8cc6" d="M409 962zm0 6zm4 9zm20 5zm-1 13zm-3 11zm10 9zm0 4zm0 12zm4 4zm0 4zm-17 4zm1 4zm5 16zm4 2zm-4 4zm-5-3zm-32 8zm-3-4zm-2 3zm-7-9zm-5-5zm8-8zm11-14zm-8-10zm-11-2zm23-12zm-2-5zm3-4zm9 14zm-1 1zm6 1zm-61 24zm3 25zm6 15zm3 7zm7-13zm32 21zm-3 4zm11 6zm28-2zm-6 35zm-4 7zm11-2zm4 10zm-5 4zm-3-3zm7 8zm13 25zm-1 14zm13-63zm-52 8zm-10-1zm-3-10zm-21-14zm-12 46zm-5 0zm-5 1zm15 6z"/><path stroke="#9280c0" d="M408 966zm14-4zm10 24zm-13 19zm-4 9zm-9-16zm-2-3zm-1 5zm-29 22zm0 2zm-2 16zm-7 6zm-3-11zm-16 21zm37 3zm2 7zm-7 12zm-6 5zm4 7zm-5 4zm13 8zm4 11zm-14 2zm5 12zm14 15zm6 5zm4-1zm6-9zm6-10zm0-13zm-3-2zm-1-16zm2-10zm7 1zm-14-6zm4-12zm5-13zm-12-2zm4-13zm-13-1zm28-5zm7-7zm-1 17zm15 18zm4-3zm-9-47zm-41 89zm56 12zm0 7zm18 23zm-15 10zm2 6zm4 5zm-2 2zm-7 9zm-9-16zm-2-7zm49 42zm-1 4zm-3 3zm-105-24zm-12-4z"/><path stroke="#8674ba" d="M409 971zm2 23zm-5 1zm3 6zm-18 6zm-1 9zm-6 10zm10 21zm-15 7zm13 18zm15 1zm6-4zm-4-11zm13-6zm8-8zm9-10zm-5-12zm-6-6zm1-11zm1-17zm-8 43zm30 25zm4 2zm-8 11zm0 30zm-6 3zm11 4zm7 8zm4 7zm5 24zm-13 3zm-2 8zm-1 3zm4 0zm-6 5zm-6-10zm2-9zm-18-11zm-8 2zm-17-9zm-1-9zm0-2zm1-1zm4-2zm-13-19zm-14-8zm-6 2zm-6 10zm9 32zm24 11zm21 21zm0 2zm-13 7zm-27 4zm-9 7zm74 17zm0 5zm2-10zm18 13zm10 5zm9-20zm1-4zm4-16zm-26-5zm-4 2zm-46-85zm-6-1zm-54-32zm1-4z"/><path stroke="#7b67b4" d="M326 1041zm4 10zm21-11zm15 11zm-3 12zm6 8zm-1 8zm-12-1zm-1-7zm-3-4zm38-18zm3 6zm17-1zm3 0zm-5 16zm11 3zm5 1zm-7 13zm-2 4zm-19 8zm1 14zm18 7zm19 18zm2 17zm-5 1zm-8 0zm-7-4zm-28-13zm-6-6zm-8-21zm20-31zm43 18zm17 2zm2 14zm4 8zm-13 33zm36-3zm9 8zm2 10zm-13 32zm4 5zm-40-15zm-2-127zm-3-2zm-2-21zm-3-18zm-1-15zm-19-7zm-1 1zm-8 4zm-2-3zm7 11zm-37 11zm47-59z"/><path stroke="#6f5bae" d="M402 977zm11 6zm9-19zm-4 43zm2 4zm6 12zm-10 3zm-7 6zm-4 6zm-21 11zm-2 3zm-11 2zm3 10zm3-1zm-12 13zm-11-14zm9-33zm18-14zm12-3zm46 6zm4 25zm-6 10zm-1 13zm-9-3zm-8 0zm-5 14zm13 0zm19-10zm-43 25zm-2 1zm-8-1zm-9-4zm-11 4zm-4 10zm21-26zm26 32zm-7 15zm8 5zm-14 5zm12 27zm11 2zm3 8zm10 8zm-12 14zm15 9zm21 4zm1-10zm0-12zm-6 1zm12-10zm-2-5zm-8-18zm-9 5zm-2-3zm9-29zm31 35zm5 4zm0 4zm-2 0zm-2 26zm-3 13zm-4 2zm-9 2zm-100-36z"/><path stroke="#6757ac" d="M333 1057zm9 7zm16-14zm2-18zm32-21zm7-12zm28-16zm4 45zm2 2zm-9 12zm20 11zm-23 32zm-13-4zm-3-9zm-11-16zm0-6zm-25 26zm22 29zm8 6zm5 10zm12 3zm-7 20zm11 7zm1 7zm20 6zm9-5zm-6 19zm-8 1zm-9-1zm-4 6zm16 19zm13-6zm2 3zm6 1zm16-2zm4-10zm-1-9zm-9-13zm7-18zm-10-4zm1-10zm-1-5zm-8-2zm0-9zm-63 31zm-15-29z"/><path stroke="#5f54ab" d="M414 969zm10 7zm5 18zm-14-1zm-5 10zm2 16zm7 6zm8 13zm9-6zm-2-13zm4 35zm8 10zm3 3zm2-3zm-27 18zm-5 21zm-10 6zm-11-14zm5-6zm-7-5zm-5 2zm-4-23zm-3-4zm-7 8zm-15 11zm-6-18zm0-18zm7-4zm9-3zm2-3zm18-10zm1-4zm4 16zm17 24zm37 47zm10-1zm19 39zm-3 3zm6 3zm8 16zm-9 21zm-8 14zm-3 5zm-9-3zm-15-10zm-6 0zm-1 8zm-11-11zm4-15zm-11-3zm-2-5zm-3-4zm-3 7zm7-22zm1-8zm-8-2zm-4-8zm-17-2zm-12-12zm-8-13zm23 43zm-1 3zm3 2zm32-1zm22-1zm18 72zm-99-37zm32-196z"/><path stroke="#5850a9" d="M328 1038zm23-1zm4-8zm3 14zm8 6zm3 1zm23-7zm0-17zm8 0zm0-1zm-9-8zm-9-5zm20-10zm4 2zm15-3zm3-5zm12 2zm-20 19zm-2 1zm13 11zm-4 10zm-4-2zm-15 22zm12 9zm5 6zm2 2zm-5 16zm29 15zm-1 3zm17 17zm1 5zm3 10zm-18 20zm-6-7zm-4-17zm-17 16zm2 11zm-8 1zm14 18zm1 2zm14-7zm7 10zm3 1zm1 14zm5 0zm20 3zm2-1zm-1-16zm5-4zm2 4zm-89-64zm-22-29zm-3-4zm5-1zm68-42zm-27-76zm6-3zm-6-6zm-51 207z"/><path stroke="#504da7" d="M201 1035zm172 27zm-2 14zm22-7zm7-8zm-7-13zm-9-30zm16-12zm16 7zm12 10zm-7 9zm20 20zm9 17zm-23 7zm-12 14zm-3 13zm21 41zm-3 17zm-6-2zm-5 5zm2 5zm-2 5zm14 6zm1 2zm3 12zm16 1zm6 8zm0 4zm-4 5zm-2-2zm16 1zm7 0zm0 3zm3-9zm-1-5zm-8 4zm6-15zm-14-5zm34-6zm-5-19zm-10-13zm-7-2zm-8-16zm-91 56zm50-186zm-10-19z"/><path stroke="#494aa6" d="M220 998zm119-77zm70 45zm11-3zm0 12zm-9 3zm-9 1zm5 20zm13 5zm-10 18zm1 5zm-17 4zm-5-12zm-10 10zm-10 3zm-8 21zm-1 13zm-5 8zm20 11zm17-4zm-5-11zm15-11zm-5-8zm-5 0zm41-2zm7 54zm14 40zm-8 7zm6 5zm-2 31zm-11 4zm-4 2zm-6-5zm-10-5zm-5-5zm8-3zm5 1zm11 26zm7 0zm1 4zm5-3zm13-1zm8-1zm10 10zm10-20zm-4-38zm-82-16zm-4 15z"/><path stroke="#434aa5" d="M327 903zm77 63zm3 15zm18-6zm2 27zm-9 28zm2 14zm31 14zm-50 28zm-29-21zm-7-22zm-7-4zm0-5zm56 120zm-2 15zm5 8zm8-3zm8 11zm-2 10zm9 2zm4 2zm6 2zm12-1zm11 2zm-6 9zm-3 1zm-20-22zm-1-1zm-2-29zm-6-12zm-1-2zm32-12zm6 12zm15 12zm5 11zm-6 19zm1 2zm-196 46zm-82-173zm-3-38z"/><path stroke="#3d4aa5" d="M221 1018zm19 31zm38 32zm42 21zm-38 27zm66-82zm-8-7zm53-31zm7 8zm33 8zm20 35zm8 71zm-26 21zm-2 17zm-6 1zm-10 4zm4 5zm4 9zm8 1zm1 7zm8 2zm4-8zm-3-6zm13 13zm5-1zm-7 8zm4 4zm11 6zm-3 5zm6-12zm12-3zm3-8zm-3-13zm-10 0zm-80-67zm31-154zm-176 268zm151 58z"/><path stroke="#374ba4" d="M242 1009zm-5 43zm-19 17zm75-93zm4-5zm121 64zm5-8zm11 21zm10 17zm16 60zm21 19zm4 40zm-5 10zm0 5zm7 1zm-21-2zm-6 0zm-4 4zm-1 5zm10 9zm-4-24zm4-4zm-9-3zm-3 8zm-16-12zm3-7zm-10-1zm-2-5zm-2 12zm2 1zm-14-7zm-13-25zm-2-40zm-22 74zm55 14zm-159 25zm-24-24zm-17-3zm55 108z"/><path stroke="#314ba4" d="M322 900zm97 97zm33 61zm-43 34zm-34 32zm46 20zm-9 22zm5 3zm6 0zm3 1zm9 18zm11-4zm10-2zm2 19zm3 11zm1 5zm17-4zm-2-9zm12 0zm3-3zm-13-9zm16-17zm-21-29zm-25 2zm-3 17zm-158-121zm-72-21z"/><path stroke="#2b4ba3" d="M330 906zm-41 66zm49 62zm30 20zm9 7zm12 4zm27-3zm4-12zm21-21zm-5-8zm13 44zm1 47zm-12 38zm-9 2zm0 11zm-5 4zm-3-2zm-3 3zm1 2zm-3 1zm-3 0zm5 5zm0 3zm4 4zm5 1zm4-2zm3-4zm-2-2zm-3 0zm-3-4zm-2-1zm10 1zm2 2zm1-1zm4 8zm-2 2zm1 2zm1 4zm2 3zm-1 4zm4 0zm0 2zm4-1zm-1-4zm-1-5zm0-2zm0-3zm2-1zm-4-1zm-1 7zm8-2zm2 1zm2 2zm2-2zm-4-3zm0 11zm3 0zm10 2zm2 2zm-1 3zm-2 3zm-2-2zm0 4zm1 2zm1 4zm4 0zm-3 4zm-4 1zm-5-3zm-1-3zm1-2zm-2 0zm-6 1zm-1-2zm-1-3zm3-2zm-9 0zm-6-5zm-1-2zm-1-11zm-10 4zm21-32zm-28-15zm-13-21zm1-3zm-7-7zm-14 25zm-22-62zm-7 1zm20-46zm-152 35zm-9-31zm271 115zm1 5zm3 1zm-10 27zm0 5zm4 1zm1-1zm-3 5zm2 1zm0 2zm2-1zm-4 2zm-6 6zm1 4zm-4-1zm5 5zm2 0zm-2 6zm9-7zm2-1zm1-6zm-16-12zm-1-1zm-2-5z"/></g>
<path d="M98.8 890.4V1322.6H516.7" fill="none" stroke="#000" stroke-width="1.6"/><path d="M113.8 1322.6v5.5" stroke="#000" stroke-width="1.6"/><text x="96.1" y="1348.4" font-size="24" fill="#000">−50</text><path d="M218.87 1322.6v5.5" stroke="#000" stroke-width="1.6"/><text x="201.4" y="1348.4" font-size="24" fill="#000">−25</text><path d="M323.94 1322.6v5.5" stroke="#000" stroke-width="1.6"/><text x="317.9" y="1348.4" font-size="24" fill="#000">0</text><path d="M429.01 1322.6v5.5" stroke="#000" stroke-width="1.6"/><text x="417.4" y="1348.4" font-size="24" fill="#000">25</text><path d="M98.8 902.5h-5.5" stroke="#000" stroke-width="1.6"/><text x="63.7" y="911.1" font-size="24" fill="#000">50</text><path d="M98.8 1019.27h-5.5" stroke="#000" stroke-width="1.6"/><text x="63.9" y="1027.9" font-size="24" fill="#000">25</text><path d="M98.8 1136.04h-5.5" stroke="#000" stroke-width="1.6"/><text x="77.1" y="1144.6" font-size="24" fill="#000">0</text><path d="M98.8 1252.81h-5.5" stroke="#000" stroke-width="1.6"/><text x="50.0" y="1261.4" font-size="24" fill="#000">−25</text><text x="274.2" y="1385.8" font-size="24" fill="#000">tSNE1</text><text transform="translate(40.9 1098.9) rotate(-90)" font-size="24.6" fill="#000" x="-35.2">tSNE2</text>
<g stroke-width="3.6" stroke-linecap="round" fill="none"><path stroke="#d3d3d3" d="M794 1077zm1 3zm1 2zm2 0zm2-2zm1 1zm0 2zm-1 2zm3-1zm1 2zm-1 2zm2 0zm1 0zm1-2zm2 3zm-1 2zm2 1zm3-2zm2 3zm-2 1zm4 0zm-19-15zm17 44zm1 3zm2-2zm3 2zm3 3zm2 0zm-1 2zm0 3zm-3-1zm-1 1zm0 4zm-2 3zm-2-3zm0-4zm2-4zm10-3zm1 1zm2 3zm2 1zm1-4zm-5 5zm-17 25zm-1 1zm-1 1zm-2-2zm2-1zm3 2zm1 2zm-1 2zm-1 3zm-1 2zm1 1zm-2 1zm1 1zm-3-4zm-2-1zm-2 2zm-2 1zm3 1zm-3-6zm3-1zm1-2zm-2-6zm-1-2zm-3 1zm1 2zm-3 0zm-1-2zm0-2zm-2 1zm20 13zm0 2zm4 2zm2-2zm-3-5zm0-1zm80-33zm3 0zm2 0zm-3-3zm-3 0zm0-2zm0-4zm1-1zm1 0zm-2-3zm2-2zm-2-2zm1-1zm2-2zm3 0zm-1-3zm3 0zm2 2zm2-2zm1 2zm2 0zm1-2zm-1-1zm3 0zm3-3zm4 2zm0 3zm2 1zm2-1zm0-4zm0-2zm3 0zm2 2zm0 3zm1 3zm-1 4zm1 2zm-2 1zm0 2zm2 0zm2 0zm1-3zm0-3zm4 0zm0 2zm2 0zm0 2zm2-1zm1-2zm-1-2zm-2-2zm0 0zm-2-1zm-2-2zm0-2zm-2 0zm-2-4zm4-2zm-1-2zm1-2zm3 3zm1 1zm1 2zm3 2zm1 1zm-2 2zm0 2zm2 0zm0 2zm0 2zm2-1zm0 3zm2 0zm0 1zm2 0zm-1 2zm-2 0zm-3 0zm-2 2zm1 1zm0 2zm1 2zm2 0zm-1 2zm1 2zm3-1zm0 2zm0 2zm-1 1zm3 2zm2-2zm0-2zm-2 0zm3-2zm1-1zm2 3zm0 2zm2-1zm2 0zm3-1zm2-2zm2-2zm-1-2zm0-2zm3 1zm1 2zm2 1zm1 1zm2-1zm1 3zm-1 1zm-1 2zm2 0zm2 0zm1-1zm0 3zm3-1zm2-1zm2-1zm2 1zm2 1zm1-2zm0-2zm-2-1zm0-2zm2-1zm1-2zm-1-3zm2-2zm-1-3zm2-2zm1 1zm-2-3zm4-2zm1 2zm3 1zm1-3zm2 1zm2 1zm0 1zm1 2zm-2 2zm-3 0zm-2 0zm1 2zm-1 2zm3 0zm2 3zm-2 1zm-1 4zm-3-2zm-2 1zm-2-1zm-3 1zm4 3zm2 0zm-1 3zm2 0zm1 2zm2-2zm1 5zm-4 0zm-1 1zm0 2zm-1 1zm0 1zm4-1zm1 0zm1 1zm6 0zm0-2zm2-1zm2 0zm2 1zm1 2zm-3 0zm-2-1zm0 4zm-3-8zm-1-1zm1-1zm2-1zm2 2zm2 0zm3 0zm0-2zm0-2zm-2 0zm-1-6zm1-2zm0-2zm2 1zm-3-4zm0-2zm-3-1zm-1 2zm-1 3zm1 2zm2-2zm-1 5zm-1 1zm0 1zm-1 3zm-2-1zm1-5zm3-12zm-3-4zm-2-4zm-4 0zm0-2zm-2 2zm-5-3zm-1 2zm-3 1zm-2-2zm1-1zm1-2zm0-2zm-2 1zm-1-1zm-1 0zm-1-2zm-2 0zm-2-1zm-2 0zm-1 2zm-1-1zm1 3zm4 3zm-1 1zm2 2zm1-2zm2 2zm0 3zm-1 0zm-2 2zm2 2zm-3 2zm-2 1zm-2-1zm-1-2zm1-1zm0-2zm2 3zm-4 3zm0 3zm3 0zm1 1zm4 1zm3 0zm0-3zm-1 0zm-2 7zm-2 1zm1 3zm3 0zm6 3zm2 1zm1 3zm-2 2zm-1-2zm-3 2zm-4-2zm-1 5zm0 10zm-17 9zm-1 2zm2 1zm-1 2zm2 2zm2 0zm1 3zm-1 3zm-2 2zm-2-2zm-1-1zm-2-2zm0-2zm-2-3zm2-1zm-2-4zm1-1zm-19-7zm-9-17zm-1-1zm-2 2zm-1-2zm1-2zm-1-2zm0-2zm-2 1zm0 2zm-3 4zm-1 1zm0 3zm0 2zm-5 2zm-2-2zm-1 0zm1-2zm3-2zm-2-3zm-2-1zm1-3zm0-3zm-1-3zm2-1zm4 2zm2-2zm0-2zm-4-4zm-2-2zm0-2zm-2 1zm-2 0zm-2 1zm-2 0zm0-2zm-2-1zm-2 0zm-3 1zm-2 0zm2 3zm0 1zm-1 0zm0 4zm1 1zm0 2zm0 2zm-1 2zm1 3zm2 1zm3 0zm2-1zm2 1zm2-2zm-1-2zm-1-2zm1-2zm0-3zm-4 3zm-1-2zm-2 1zm-1-3zm1-3zm2-2zm1 2zm4-6zm-1-1zm2-2zm1 2zm2 7zm5-3zm1 1zm0-2zm11 5zm3 3zm1 2zm-5 0zm-4 1zm-8 4zm-1 2zm2 3zm6 4zm-12 7zm1 2zm-2 3zm-2-2zm-1 2zm-1-6zm-1-1zm3 0zm0-2zm-1-2zm1-1zm-4-2zm-2 0zm-8-12zm-1-3zm-1-2zm-7 3zm-4-13zm2-12zm-1-2zm-2-1zm1-2zm1-4zm1-3zm2 0zm-1-3zm-1-1zm-2 0zm0-2zm-3-1zm-2-1zm-2 3zm-2 2zm-1-3zm7-6zm0-2zm-2 0zm-2-2zm-2-4zm-3 2zm-4-1zm0-4zm1-2zm-2-1zm1-4zm0-2zm2-2zm2 1zm0 2zm2 2zm-2 1zm0 3zm5 0zm2-2zm2 3zm3-6zm1-2zm1-1zm1-2zm-2-2zm-1-2zm-3-1zm-1-2zm2-1zm0-2zm-1-2zm0-2zm2-2zm2 1zm2-1zm1 2zm-4 2zm2 5zm2-1zm2 2zm0 2zm4 3zm1-2zm1 4zm2 1zm3 0zm2 2zm2 1zm-1 2zm0 3zm3-2zm2-1zm2 0zm-1 2zm1 4zm1 3zm0 2zm-3 0zm-2-1zm-2-2zm-2 0zm-1-1zm-2 1zm-1-1zm-1 5zm-2 0zm-2 1zm-2 1zm2 2zm4 0zm2-1zm1-3zm3 2zm2 4zm0 4zm-2 1zm-3 2zm1 2zm2 1zm-1 2zm1 3zm1 1zm-2 2zm-2 2zm0 3zm-3-2zm0-3zm2-1zm-1-3zm-1-3zm-2 2zm-1-2zm-2-1zm-1 1zm-1 4zm1 2zm2 0zm-3 3zm4 2zm9-1zm2-1zm4 0zm1-2zm1-1zm-2-1zm2-2zm-5 0zm1-3zm1-1zm1-3zm1-7zm-2-4zm-2-8zm-6-7zm4-4zm1-1zm2-1zm2 0zm1 2zm0 2zm2-3zm-1-3zm-2-2zm-1-1zm-2 2zm-1-2zm-4 1zm-2-1zm-1-2zm-1-2zm-2 0zm4 0zm0-2zm1-2zm2 1zm2-1zm3-1zm3-4zm-1-3zm-2-1zm3-1zm-1-4zm-3 0zm-1 2zm-1 1zm-3 0zm-4-2zm-2-1zm-1 3zm1 3zm2 2zm1 1zm-2 0zm0 4zm3-1zm2 0zm1-2zm1-1zm3 9zm3 1zm3 2zm0 1zm-6 8zm-4-5zm-4 1zm-6 2zm-2 1zm3 1zm-3 3zm4 4zm-1 5zm0 2zm-4 0zm-1 2zm0 4zm-3 1zm1 2zm-4-1zm1-4zm0-2zm5-5zm-7-11zm-1-4zm-6 0zm0 3zm1 3zm-5-7zm0-3zm0-2zm-1-2zm-2-1zm0 2zm-3-1zm0-2zm2-2zm-2-2zm-1-3zm-2 0zm-1-2zm0-4zm1-2zm2 2zm2 1zm0-4zm4 3zm1-2zm1 3zm2 0zm3 2zm2-3zm0-2zm1-1zm1-1zm1 1zm0 2zm3 0zm-1-3zm1-3zm2 1zm0-2zm2-3zm2-1zm0 2zm4-1zm2 1zm-1 1zm-2 2zm0 1zm-2 2zm-3 0zm1 3zm-1 2zm1 2zm-2 1zm-2-1zm-3-1zm-2 0zm-6 4zm-1 2zm1 3zm-1 2zm-1 2zm-1-1zm-1-1zm0-4zm-3-2zm7-10zm1-3zm2 0zm1-2zm-1-2zm-1-2zm1-3zm-2-1zm-2-1zm-1 1zm-1-2zm1-1zm-3 0zm-2-2zm2-2zm-2-2zm2-1zm3-2zm3 3zm-1 1zm4 0zm0 3zm-2 1zm3 4zm4 0zm0 2zm5-1zm3 0zm2 0zm2-2zm2 1zm1 2zm0 2zm3 2zm3-1zm2-1zm1-3zm-1-1zm-2 0zm-2 2zm-2-3zm1-3zm3-1zm0 2zm3 0zm2 0zm3 0zm2 2zm-1 3zm-2 0zm-1 1zm2 2zm3-2zm2-1zm0-2zm1-2zm-10 12zm-7 0zm-2 0zm-2-15zm1-2zm-1-2zm-2 2zm-3-1zm-2 1zm0 2zm2 0zm-1 2zm-4-3zm-2 2zm-4-1zm4-5zm2 1zm1-2zm3-1zm3 2zm-9-4zm-3-1zm-2 1zm-3 0zm0 2zm-13 6zm0 2zm-3 2zm2 2zm2 1zm2 0zm3 0zm3 4zm-1 2zm1 3zm-3 0zm-2-2zm-10 0zm0-6zm22 8zm-4 22zm-1 2zm-10 2zm-1 2zm24 32zm4 0zm2 1zm0 2zm2-1zm2-3zm3-3zm-17 7zm-7 5zm1 3zm43-22zm22 14zm-2 3zm4 3zm2 1zm1 2zm-3 2zm-1-2zm-1-1zm-1 2zm-1 2zm3 1zm2 1zm2 0zm0 3zm2 0zm2-3zm1-2zm3 2zm1-1zm2 0zm-1-2zm0-2zm1-1zm0-2zm-2-2zm-4 0zm-2 2zm1-5zm-4-1zm-10 8zm-2 2zm-3 1zm1 4zm2 0zm3 2zm2-1zm2-1zm1 5zm0 2zm1 2zm-1 1zm-1 2zm-2-1zm1-2zm-1-3zm5-1zm2 1zm0 3zm3 2zm1-3zm3 2zm2 0zm-1 3zm-1 4zm0 2zm-2 3zm0 2zm-2-2zm-2-2zm-2-1zm0 2zm-1 2zm-3 2zm1 1zm0 2zm4-2zm2 0zm3 1zm0 2zm0 2zm4-1zm-2-3zm2-2zm1-2zm-2 0zm3-3zm0-3zm3 2zm1 1zm0 2zm3 1zm1-7zm-5-4zm1-6zm-2-3zm-2 1zm0 2zm-2-1zm-1 0zm-2-1zm3-3zm7 1zm2-1zm0-3zm-1 0zm0-1zm0-3zm-2 0zm1-3zm5 4zm3 1zm-5 10zm0 2zm-16 7zm-5-2zm19 18zm0 2zm1 2zm25-10zm0-22zm-3 0zm35-9zm-17-30zm-10-12zm-5-9zm0-3zm-3 1zm-1-4zm-3 1zm-3-2zm-2-1zm1 3zm0 3zm-3-1zm-4-3zm-2 2zm-1-3zm-2 0zm-2 1zm-2 0zm-1 1zm1 1zm-2-4zm1-1zm3-1zm2 0zm2-1zm0-2zm-2-1zm4 5zm3-2zm-14-1zm-3-1zm-2 0zm0-2zm3-1zm2 0zm-1-2zm2-3zm2 1zm-7-2zm-5 1zm-1 1zm3 8zm-2 1zm-2 1zm2 2zm1 3zm3 0zm2 0zm2-1zm-1-3zm-1 7zm-3 3zm-2 2zm1 1zm-1 1zm-2 3zm-2 2zm0 3zm-3 2zm-2-2zm1-2zm0-4zm4-5zm-1-4zm3 0zm-2-3zm-1-2zm-1-4zm6-40zm-3-1zm1-4zm3 1zm1-2zm3 1zm-2 2zm4 3zm2-5zm2-4zm1-2zm-3-1zm-1-3zm-2 0zm1-2zm2 0zm0-2zm0-2zm-3 0zm-1 2zm-2 3zm2 4zm-3 2zm-2-1zm-3-2zm-2 0zm0 2zm1-4zm0-2zm-2 1zm-1-3zm2-4zm2-1zm1-3zm2 1zm2-2zm1-4zm-5 0zm-3-1zm-1-4zm1-2zm2 1zm1 0zm0-3zm0-2zm-4-2zm-2 3zm0 2zm3-9zm-1 20zm5 8zm-1 2zm5-4zm4-1zm4 8zm-19 12zm-3-5zm48-65zm39 123zm77-8zm-65 121zm-2 0zm17 26zm-2 16zm-24 10zm-4 0zm2-19zm-29 15zm-1 2zm-1 2zm2 3zm-1 4zm-2-1zm-1 3zm1 4zm4 1zm1-4zm-7 7zm-3 3zm-3 0zm0-4zm-2 0zm1-2zm-1-4zm0-3zm-2 0zm-3 2zm-1-2zm-2 2zm1 1zm-2 1zm0 2zm2 0zm-2 2zm-1 1zm-2 3zm-4 0zm0-4zm-2-5zm-1-2zm-1 3zm-7 0zm0 2zm2 3zm1 5zm-1 2zm-1 3zm3 0zm3 4zm-1 1zm3 1zm-2 2zm-2 3zm-3-1zm-1 2zm2 3zm4 3zm2-2zm2 2zm-1 2zm3 2zm-1 5zm-7 4zm1 2zm0 0zm-2 2zm1 2zm-1 3zm-1 1zm2 0zm0 3zm0 3zm4 1zm2-2zm2 4zm-2 2zm-2-1zm6 2zm4 1zm2-2zm-2-1zm1-2zm1-2zm2 1zm1 3zm2 0zm1 5zm-5-1zm-3 6zm-8-2zm-3 1zm-2 3zm-3 1zm-1 1zm1 1zm6-1zm-5-8zm-2-3zm-2 3zm-2 0zm1 3zm-1 2zm-3-2zm-4 1zm-3 0zm-1-2zm-1-2zm-2-2zm-1 3zm-2 0zm-1 2zm-2-3zm-2 0zm-1 2zm1 1zm2 3zm-6-4zm-2-2zm1-2zm8-7zm2-3zm3-4zm2-1zm1 1zm0-3zm0-3zm3-2zm0-2zm2 2zm-1 3zm2 0zm0 1zm4 0zm4-1zm0-1zm-1-3zm2-2zm0 9zm-2 1zm1 3zm-3 0zm-2-1zm-2 1zm-4-1zm-3 6zm0 2zm3 0zm2 1zm-2 2zm4 2zm1-3zm0-2zm0-2zm4-2zm9-8zm1-1zm2 2zm3 1zm0 2zm4-3zm1-3zm-1-3zm4 2zm1 0zm5 3zm6-1zm2 0zm1 0zm3-1zm3-1zm0 2zm4 0zm1-1zm-1-1zm3-1zm3-3zm-1-1zm1-2zm1-2zm-3 0zm3-3zm-3-4zm-3 1zm-1-2zm-1 3zm-3-1zm-2 2zm-2 0zm-3 1zm-3 4zm0 3zm3 0zm0 2zm2 1zm3 0zm3-2zm0 0zm-2-2zm-2-3zm1-1zm4 0zm2-1zm-4-7zm-2-2zm-3-2zm-3 2zm-2-2zm0-2zm-3 1zm1 4zm0 3zm-1 2zm0 3zm0 4zm8 0zm-3 12zm1 7zm-2 1zm0 2zm-2 1zm4 3zm4-4zm1-6zm3-1zm6-2zm-1-2zm6-10zm2-1zm-8-17zm-2-3zm-2 0zm-1 2zm-2 0zm-2 0zm-3-5zm2-2zm-3-1zm-3-1zm0 4zm-4 0zm0 2zm-4-2zm-1-4zm-1-2zm-1-1zm-1-3zm-2 2zm-2 0zm1 2zm-2 1zm-2 3zm-4 0zm-1-1zm1-1zm0-3zm-1-1zm2 0zm8 8zm1 0zm1-1zm1-2zm5-2zm7-3zm5 2zm4-1zm1 3zm1 0zm-3-7zm-11-14zm2-2zm-7-2zm-3 1zm0-2zm0-1zm0-2zm2-2zm-2-2zm3-1zm3 4zm3-4zm1-1zm1 2zm2 2zm0-4zm-17-1zm-3 1zm1 2zm2 1zm0 4zm2 3zm-3 1zm-2-1zm0 2zm1 4zm-3 1zm-1-2zm-4-3zm0-6zm-1 0zm-4-3zm-1 2zm-1 0zm-5 1zm-1-3zm1-1zm1-3zm-2-1zm1-1zm-4 3zm-1-1zm-1 1zm0-2zm-2-1zm1-2zm2 1zm-4 4zm3 2zm2 0zm-8-4zm-2 2zm-4 1zm-2-5zm-2-2zm0-3zm-4 1zm-1-2zm-2-2zm-3 1zm-1 3zm2 2zm1 3zm2-4zm-8 2zm-2-2zm1-2zm-1 6zm-2 0zm2 4zm-1 1zm2 2zm-2 3zm2 3zm-4 0zm0 3zm-2 1zm-2 3zm1 2zm-3 0zm0-4zm-3-1zm-1 2zm-1 3zm-1 2zm2 0zm0 2zm-3 1zm-3 3zm0 0zm-1 2zm-4 3zm5 2zm4 2zm1 2zm1-4zm-1-2zm3-2zm1 2zm3 2zm1 2zm-2 2zm3 2zm2 0zm0 3zm-3-1zm-3 5zm-3 0zm-1-1zm1-2zm-4 6zm1 2zm5 0zm2 2zm0 3zm-3 2zm-3-1zm3 5zm3 3zm1 2zm1 2zm2 3zm5 2zm1-1zm2 3zm-2 3zm-2-1zm8 0zm-1-5zm5 0zm3 1zm3 0zm5-1zm1-7zm0-2zm-5 1zm-5 1zm-1-1zm-7 2zm-2-6zm-3 0zm0-1zm-2-2zm0-4zm-1-2zm2 0zm-2-2zm0-2zm1 0zm2-2zm-1-1zm2-2zm-1-4zm0-2zm1-3zm-2-1zm-4-2zm0-2zm0-3zm2-3zm2-2zm1 2zm0 1zm2-2zm1 2zm2 1zm0 4zm0 4zm2 1zm7 0zm0 3zm2 2zm1 3zm-4 1zm-2 3zm1 1zm-3 0zm-1 2zm-4 0zm-2 1zm0-3zm4-2zm0-2zm-1-2zm4 0zm7 6zm1 5zm-4 5zm-3-3zm-4 3zm-11-2zm-1 10zm-15-25zm12-13zm3-5zm2-5zm3 0zm2 1zm2-1zm1-2zm1-1zm0-3zm1-3zm-2-4zm2-1zm2 1zm0 0zm4 2zm2-3zm2 4zm0 2zm0 5zm0 3zm2 2zm3-2zm-1-3zm3 0zm2 3zm2-2zm4-4zm2 2zm2 3zm-4 3zm0 3zm4 3zm1 2zm-8 0zm-3 2zm-1-3zm-2-3zm-3 1zm-3 0zm-2 2zm-1-3zm-2-2zm-7-2zm-5-6zm-10-2zm-1-3zm1-2zm1-1zm2-2zm3 0zm-7-1zm-1 1zm-3 5zm-3 3zm0 2zm0 4zm0 0zm-3-17zm20 28zm2-1zm10-14zm11-4zm0-4zm0-11zm1-1zm-6-7zm30-3zm2 2zm4 1zm-1 2zm4 2zm2 0zm0-4zm-4-3zm1-2zm0-2zm-9 19zm8 5zm1 1zm-15 6zm-13 11zm-3-1zm-4 7zm0 0zm0 2zm1 5zm-3 1zm8-2zm3-1zm-3 9zm2 2zm-3 2zm-3-2zm13 3zm2-3zm1-2zm1-4zm2 0zm1 2zm-3-4zm-3 15zm-3 2zm-4 5zm-1 0zm24-10zm1-2zm1-1zm3-3zm1 1zm1 2zm2-1zm-1-2zm4 5zm2 0zm-2 2zm1 1zm-2 3zm-2-2zm-4 0zm-2-1zm2-2zm5 8zm9 23zm-36 20zm-2 1zm-2-2zm-5-3zm3 10zm1 1zm2-2zm2 5zm31-83zm-1-4zm1-3zm69 55zm2 1zm2 0zm-1 3zm3 2zm-1 2zm-2 0zm3 4zm1-1zm3 1zm-1 2zm-1 2zm4 0zm1 4z"/><path stroke="#cfcdd6" d="M994 904zm8 10zm12-2zm5 1zm-10-16zm-31 133zm5 93zm67-5zm-91 70zm55 68zm-133-215z"/><path stroke="#cbc7d8" d="M1002 906zm3 5zm2 5zm4-12zm1-2zm-37 125zm-2 66zm-32 13zm-12-1zm11 15zm-32-2zm-4-29zm-22-45zm35 159zm141-23zm38-133z"/><path stroke="#c7c1db" d="M873 1016zm28 6zm38 87zm115-3zm16-22zm16-95zm-66-68zm-6-16zm-13-2zm2 10zm-192 177zm136 136zm17 36zm-7 25zm108-15z"/><path stroke="#c2b9da" d="M993 898zm4-2zm2 5zm4-2zm1 7zm8 1zm-5 7zm-11-3zm-1-4zm22 16zm-63 48zm10 46zm-52 48zm-23-51zm-80 73zm8 73zm2 8zm87-43zm54-12zm-3-14zm35 15zm8-7zm12 3zm-2 6zm-7 5zm40-23zm12-35zm2-27zm14-2zm15-28zm8 103zm27 47zm13 23zm-91 0zm-91 8zm-9 19zm-34 12zm6 37zm49 31zm4 7z"/><path stroke="#baafd6" d="M883 1004zm10 7zm-6 23zm76-62zm44-60zm-1-4zm8 6zm-9-19zm76 77zm4 6zm-11 9zm4 18zm32 27zm-50 13zm-9-5zm-19-1zm-16 25zm-7 43zm-4 16zm-28-30zm-25 17zm100 20zm7 0zm11 20zm-14 28zm-11 5zm-32 51zm-6 9zm-18-3zm-22 31zm-47-16zm-7-14zm212-77z"/><path stroke="#b3a6d1" d="M997 902zm4-3zm-3 10zm10 1zm8 4zm2 2zm-5 5zm57 98zm10-5zm14-3zm-2 17zm8 7zm-5 39zm-33 27zm2 40zm13 5zm10 15zm-40 8zm-37-35zm-28-10zm23-23zm25-41zm10-11zm-26-9zm-50-9zm-48 25zm4 28zm-26 7zm-16-35zm-3-11zm75 88zm8 87zm-14 52zm4 17zm-4 1z"/><path stroke="#ab9ccd" d="M998 891zm2 2zm10 7zm-9 12zm11 3zm1 3zm-2 5zm72 48zm4 20zm-14 17zm17 9zm21 36zm-44 2zm-19-28zm-15 11zm-4-9zm3 33zm-2 19zm17 16zm13 19zm19 6zm1-23zm14 0zm2 40zm-13 10zm17 13zm18-2zm10 6zm13-40zm-7-12zm-82 64zm-4 4zm-6-6zm0-5zm-49-66zm-20 3zm-23 12zm-17 4zm0-17zm-38 14zm9-56zm-7-15zm-6-35zm0-2zm68 34zm-136 80zm100 103zm13-5zm3-2z"/><path stroke="#a393c8" d="M871 1012zm31 18zm-15 43zm30 52zm2 14zm35 51zm10 4zm-34 14zm61 12zm62-36zm19-34zm-16-17zm-7-9zm5-4zm13-8zm20 9zm3 3zm-5 2zm-1 3zm10-11zm0-12zm-5-15zm6-20zm-21 0zm-6 10zm-17-9zm-4 14zm3-30zm-8-2zm-8-9zm-5-1zm-2 8zm1 10zm8-27zm-2-3zm16 3zm8-17zm26 1zm9 6zm16 0zm1-4zm0-8zm-9-19zm-11 2zm-15-1zm11-21zm-3-8zm16-4zm14 72zm-34 4zm55 78zm-6 31zm-1 12zm-32-15zm4 65zm-143-125zm-137 42zm186-210zm1-11zm0-3zm8 6zm3 6zm-21-14z"/><path stroke="#9a88c3" d="M796 1078zm90-40zm25 70zm1 21zm20 2zm50-26zm44-38zm6-17zm-2-8zm13-10zm7 14zm8 13zm-7 8zm-6 9zm13 12zm2 7zm6-1zm-3-15zm3-7zm1-24zm-2-11zm3-6zm-3-7zm-9-7zm11-5zm8 1zm17 17zm6 6zm3 5zm-1 2zm5-1zm13 2zm-19 10zm11 12zm-4 3zm-13 20zm-2 8zm-3 12zm-2 6zm5 7zm-2 5zm-7 5zm-29-5zm-4-6zm5-3zm-6-3zm0-3zm-4-14zm-44-57zm9-6zm68-52zm-1-4zm13 11zm0 3zm14-2zm1-3zm-2-8zm-7-9zm1-9zm11 39zm6 14zm15 86zm-3 4zm2 9zm-27 42zm-2 3zm-1 3zm7-1zm-47 14zm-9-1zm-1-3zm-3 1zm0 2zm-28 77zm-7-349z"/><path stroke="#917ebe" d="M998 893zm85 69zm-1 4zm6 11zm10 2zm-3 7zm12-4zm-2-16zm-2 0zm-26 14zm6 14zm-4 8zm1 2zm4-1zm4 1zm8 0zm5-2zm7 8zm5 21zm-7 2zm-10 2zm-1-3zm-2 7zm5 3zm10 14zm-20 2zm-1 11zm11 5zm-16 7zm-7 5zm4 5zm-14 5zm-11-4zm-5-4zm-16-16zm-6-7zm0-5zm10-7zm2-7zm-2-8zm-5-4zm16 1zm10-9zm7-9zm9 9zm-6 14zm-1 0zm2 15zm7 4zm-23-2zm-3 2zm0 3zm-1-11zm-45 0zm-47-7zm103 70zm3 2zm2 1zm7 5zm-10 7zm11 18zm10-10zm6-23zm4-3zm-20-2zm-4-2zm47-5zm8 7zm12 16zm6 10zm-10 25zm-9-4zm-4-2zm-2 1zm-2-10zm9 21zm3 10zm27 18zm9 3zm-21 20zm-98-35zm-7-10zm-39 33zm-12 68zm-65-14zm5-22z"/><path stroke="#8874ba" d="M875 1036zm82-6zm25-1zm24 11zm19 22zm5-5zm4 9zm13-4zm2-11zm-6-1zm-3 1zm3-16zm5-3zm-6-3zm21-10zm1-3zm2 6zm6-13zm4-7zm1-2zm4-1zm7 9zm5-3zm7-9zm7 3zm-9-14zm-4-10zm-7 2zm-5 2zm-5 8zm24-16zm10 54zm2 1zm-7 5zm-3-3zm-2 1zm-13 1zm-11 15zm-7-1zm-4-1zm-2 6zm10 12zm9-3zm13-6zm9-5zm5 8zm7-12zm0-4zm-22 46zm-11-2zm1 10zm3 12zm-5 4zm-6 7zm-2 0zm8 7zm-17-13zm-5 8zm-6-16zm0-16zm10 0zm5 4zm-2-10zm1-6zm-31 10zm-29 42zm61 19zm1-2zm5 5zm13 12zm2 2zm6 2zm6-1zm5-8zm1-3zm-1-3zm8 4zm4-1zm0-2zm3-2zm3 0zm-9-1zm-4 11zm3 3zm-20-7zm-1-7zm44-17zm5-1zm-4 38zm-91 17zm-4-5zm-126 40z"/><path stroke="#7f6ab5" d="M1077 968zm0 5zm1 22zm2 3zm-7 1zm-7 12zm0 4zm-4 10zm-2 7zm-3 11zm-2 6zm-2 5zm-1 5zm6-3zm4-5zm-22-21zm4-5zm4-3zm-16 21zm0 26zm5 6zm6 1zm-2 15zm7 22zm14 0zm8 7zm10-1zm6-7zm-15-22zm-2 0zm19-16zm5-11zm12 8zm0-18zm-11-9zm-2-9zm-7-19zm-7-3zm24 3zm11 2zm4 17zm-1 7zm-11-42zm1-14zm15 121zm6 14zm6-2zm-14 14zm2 12zm-12 3zm-3 1zm-4 6zm5 5zm-13-9zm9-17zm28 25zm5 10zm-1 23zm0 4zm15-7zm3 24zm-12 0zm-34-33zm-56 1z"/><path stroke="#7762b1" d="M1092 961zm3 13zm11-1zm-3 21zm5 3zm-15 0zm-17 11zm-2-2zm-2-5zm-3 9zm-5 1zm-6 3zm-8 0zm-6 23zm8 11zm6 1zm2 2zm-3 8zm4 11zm-1 9zm7 13zm10 0zm0 11zm-4 14zm-6 2zm-12-4zm2 18zm23 0zm4-4zm4 8zm4 10zm5 3zm14 10zm12 2zm1-2zm1-4zm1-1zm-3-2zm1-11zm11-11zm-2-3zm6-3zm1 3zm0 6zm4 33zm12 25zm-2 18zm-25 2zm-13-11zm6-13zm-26-17zm-5-2zm27-60zm-3-4zm6-3zm-28 1zm1-9zm-2-2zm-1-7zm-1-1zm-3 2zm-8-14zm7-3zm-4-12zm-1-16zm-10-4zm14-19zm22 12zm-5 15zm-2 4zm1 17zm9-1zm2-52zm-30-38zm-35 77zm-1 13zm-16 13zm20 12zm4 6zm-2 1zm-40-36zm19-14zm-3-6z"/><path stroke="#705daf" d="M1086 961zm2 8zm-1 10zm2 0zm-8-1zm-1 17zm1 8zm11 4zm0 10zm9-5zm4 13zm2 0zm-2 3zm-4 10zm2 5zm1 1zm-3 3zm-7 5zm-5 4zm-2-2zm10 10zm-4 9zm-5 4zm-3 2zm-7-2zm-6-4zm-8 3zm0 7zm-12-5zm-11 3zm-3-2zm13-16zm6 1zm10-4zm-2-5zm-9-3zm-11 2zm-6-11zm-3 2zm3-11zm-15 17zm2 6zm35-29zm9-4zm4-7zm-7-8zm-4 7zm7 24zm42 14zm-4 14zm-17 19zm-2 3zm-4 6zm-1 7zm-7-14zm-8 22zm15 9zm2 4zm-9 9zm-2 16zm-13-10zm30 4zm3-7zm4 3zm-4 19zm20 2zm5-2zm6-3zm2 1zm-8 9zm12 30zm6 0zm-13 7zm29-13zm-17-62zm-3-4zm-14-13zm-9-11zm-59 7zm-5-4zm-4 0zm8 81zm48-189zm2-11zm6-5z"/><path stroke="#6858ac" d="M1079 963zm-1 3zm5 8zm-3 8zm-1 1zm6 16zm-9 5zm3 5zm10 5zm1 12zm-1 4zm-4-3zm-2 5zm-6-5zm-3-2zm-8 1zm-1 5zm2-13zm-4-4zm2-7zm-13 18zm-4-1zm2 6zm-4 10zm15 8zm7 8zm-7 7zm6 6zm-1 1zm-15-9zm-8 10zm-7 7zm7 13zm2 3zm-1 6zm2 10zm10 8zm-5 6zm16 18zm7 0zm6-3zm11-2zm2 13zm6-2zm8-4zm1 2zm4-1zm-2-3zm-2-4zm20 5zm6 8zm-13 6zm8 12zm5-2zm10 7zm10 8zm5 5zm2 3zm0 6zm-37 13zm-18-12zm-18-23zm-3-18zm-7-29zm-1-9zm5-5zm4-10zm-11-10zm-3 2zm-1 7zm9-21zm4-12zm6-7zm3-1zm1-11zm7 1zm-9-9zm7-5zm1-5zm-3-5zm14-10zm-11-12zm10-7zm-15-30zm0-3zm-1-2zm19 75zm-1 5zm-13 29zm-2 4zm19 31zm41 46zm-137-97zm5-16zm-13-6z"/><path stroke="#6154aa" d="M1084 964zm14 2zm-17 15zm17 15zm-3 5zm2 1zm6 3zm-14-2zm1 10zm-6 9zm-9-11zm-19 1zm-6 2zm-13 15zm11 5zm15 15zm1 14zm-1 2zm-4 1zm22 2zm0 5zm16-3zm10-21zm1-1zm-11-9zm-1-8zm12-9zm-25 68zm-13-2zm-1 6zm-4 11zm6 8zm2-1zm0-1zm3-2zm-8 7zm12 13zm-13 15zm9 7zm11 20zm4 6zm13-4zm10-7zm1-2zm-5-9zm2-5zm-8-1zm20 10zm-2 27zm7 9zm-3 2zm2 3zm4 5zm14-5zm1 5zm5 7zm5-4zm-3-9zm4-6zm3-1zm-5-6zm-9 3zm-11-5zm-20 12zm-2 1zm-1 6zm31 17zm25-51zm-31-37zm0-15zm-14-5zm-2-13zm-7 0zm-1 4zm-24 5zm-61-37zm6-16zm0-2zm-19-3z"/><path stroke="#5a4fa8" d="M1002 1038zm23-1zm5 14zm15-9zm1-7zm7-6zm22-5zm5-16zm-6-5zm-7 6zm24-6zm3 1zm6 19zm11-8zm-12 24zm-6-2zm12 13zm6 10zm9 7zm4 2zm2-6zm-28 19zm-15 10zm-17 5zm-3 13zm15 5zm-4 11zm15-6zm4 0zm-2 8zm8 8zm14 2zm17 16zm6 11zm15-16zm3-6zm-16-22zm-7 1zm-9-11zm-34 43zm12 13zm3 3zm-5 1zm-1 13zm6 5zm17 7zm8 8zm2 0zm5 0zm1-4zm-3 10zm-1 2zm3 0zm-2 3zm6 1zm9-6zm15-6zm-9-17zm-25 0zm-2 23zm-72-33zm4-40zm-10-44zm0-8zm-3-2zm-7-10zm-10 1zm25-18zm7-1zm5-4zm2-1zm9 4zm-13 19zm29-89zm5-8zm-2-12zm-16 11z"/><path stroke="#514ea7" d="M1083 968zm14 0zm-12 26zm3 2zm11 2zm4 8zm5 13zm-6 4zm-12-3zm-4-1zm-18 28zm3 4zm-8 9zm0 7zm-4 4zm-2-4zm0-2zm-4-15zm-20-2zm4 15zm-8 7zm1 6zm18 2zm-1 14zm-6 0zm11 12zm3 17zm5 2zm18-11zm-8-13zm11-35zm20-1zm0 0zm0 13zm28 32zm1 7zm14 28zm1 1zm3 2zm3 0zm-21 2zm2 18zm0 18zm-9 9zm-2-1zm-12-6zm-6-10zm-3-6zm-3-1zm-7 2zm0-19zm-1-9zm9-6zm-20 1zm36 36zm19 29zm-4 4zm10 0zm3 0zm4 0zm11-1zm1-2zm2-10zm9-19zm-1-4zm0-4zm-161-110zm14-21z"/><path stroke="#494da6" d="M1076 977zm17 22zm14 10zm7 0zm-10 23zm-9 19zm-11 3zm-14 6zm2 21zm18-13zm11 9zm3-12zm2-2zm14 1zm-2-11zm-24 42zm-19 12zm3 14zm-11 6zm-7 6zm9 15zm14-4zm20 8zm-11 16zm1 2zm-1 2zm4 2zm-1 5zm6-1zm1 3zm-1 3zm7-2zm5-4zm-3-4zm5 15zm0 3zm5 6zm20 11zm3 5zm-7 3zm9-12zm5-3zm-2-2zm6 15zm-1-32zm-8 1zm-3-15zm19-11zm-15-12zm-5-4zm-11 0zm11-12zm-7-5zm-2-1zm-5-18zm-69-4zm-8-4zm-8-19zm-3-3zm7-9zm2-3zm-26-17zm47-26zm19 148zm0 8z"/><path stroke="#404ca6" d="M1055 1015zm15 25zm8 19zm8 8zm1 17zm23 16zm-17 15zm-2 9zm-20 6zm5 11zm17 23zm-3 2zm8-1zm4 3zm-1 2zm5 6zm2 2zm5 5zm-4 5zm-4-2zm-2 1zm1-3zm0 8zm-3 0zm4 3zm5 2zm1-3zm9 11zm18-4zm5 1zm1 2zm3-2zm8 1zm0 4zm6-1zm0-4zm3 0zm1-7zm-1-2zm-6-5zm-2 2zm0 6zm-3-16zm15-1zm-2-10zm-3-10zm-6-10zm-12-7zm-10-38zm-9-46zm-8-19zm-5-20zm-6 1zm-14-6zm13-19zm-57 61zm43 123zm41 8zm6 1zm2 23z"/><path stroke="#394ba5" d="M998 907zm89 76zm3 2zm-7 16zm-31 37zm36 49zm6 0zm29-20zm7-9zm-15-6zm-56 73zm46 31zm15 10zm-13 8zm4 7zm-4 8zm5 12zm15-6zm2-11zm1-2zm6 20zm-5 8zm12 1zm7 3zm1-8zm0-2zm10 5zm5-8zm-5-15zm9-8zm-7-16zm-1-10zm-6-1zm-1-5zm-6-4zm-6 3zm-156-34zm-24-8zm-5 27zm-45-49zm31 176zm-2 10z"/><path stroke="#344ba4" d="M1084 996zm4 22zm25 24zm8 12zm4 10zm-2 1zm-5 0zm18 56zm-56 15zm6 30zm5 8zm8 0zm2 1zm-1 5zm-1 8zm12 11zm3 1zm5 1zm0-8zm5 1zm5-4zm2-1zm-4-3zm-3 0zm-5-7zm-1-1zm12 24zm-5 9zm13 7zm15-13zm5-10zm-5-3zm-1-3zm11 1z"/><path stroke="#304ba4" d="M1099 975zm27 81zm-1 2zm-3 11zm-40 1zm-16 11zm20 88zm-2 2zm8 5zm6-9zm9 2zm1 3zm-3 10zm8 8zm4 2zm1-2zm-1-6zm3 0zm-4 14zm2 1zm4 0zm2 2zm-1 5zm-6-2zm-9-8zm26 2zm0 3zm18-1zm0 10zm7-2zm5-9zm-6-16zm10-20zm-8-14zm-20 70z"/><path stroke="#2b4ba3" d="M1063 1027zm51 37zm3-1zm1-2zm3-1zm3 1zm3-1zm1-8zm-6-2zm-5 16zm24 79zm7-1zm7 0zm6 10zm-2 2zm5-1zm1 4zm1 2zm-1 4zm1 2zm0 5zm-7 12zm1 4zm2 0zm4 2zm-5 10zm2 8zm-7 2zm-6 1zm-5 2zm-7 0zm0-1zm-5-5zm-1 1zm5-3zm2-2zm2 2zm3-6zm-2-2zm-2 1zm-8 3zm-2-4zm-3-4zm-1-4zm4-4zm-6-3zm-2 1zm-2-2zm-5 0zm-1 4zm3 4zm2-1zm1 2zm4 7zm-2 7zm4 0zm7-13zm5-8zm10 0zm0 7zm2 9zm2 17zm-43-24zm-2-7zm3-6zm1-6zm-11-1zm-5-3zm-1-3zm1-1zm2-9zm-4 18zm0 8zm3 1zm3 7z"/></g>
<path d="M772.8 890.4V1322.6H1190.7" fill="none" stroke="#000" stroke-width="1.6"/><path d="M787.8 1322.6v5.5" stroke="#000" stroke-width="1.6"/><text x="770.1" y="1348.4" font-size="24" fill="#000">−50</text><path d="M892.87 1322.6v5.5" stroke="#000" stroke-width="1.6"/><text x="875.4" y="1348.4" font-size="24" fill="#000">−25</text><path d="M997.94 1322.6v5.5" stroke="#000" stroke-width="1.6"/><text x="991.9" y="1348.4" font-size="24" fill="#000">0</text><path d="M1103.01 1322.6v5.5" stroke="#000" stroke-width="1.6"/><text x="1091.4" y="1348.4" font-size="24" fill="#000">25</text><path d="M772.8 902.5h-5.5" stroke="#000" stroke-width="1.6"/><text x="737.7" y="911.1" font-size="24" fill="#000">50</text><path d="M772.8 1019.27h-5.5" stroke="#000" stroke-width="1.6"/><text x="737.9" y="1027.9" font-size="24" fill="#000">25</text><path d="M772.8 1136.04h-5.5" stroke="#000" stroke-width="1.6"/><text x="751.1" y="1144.6" font-size="24" fill="#000">0</text><path d="M772.8 1252.81h-5.5" stroke="#000" stroke-width="1.6"/><text x="724.0" y="1261.4" font-size="24" fill="#000">−25</text><text x="948.2" y="1385.8" font-size="24" fill="#000">tSNE1</text><text transform="translate(714.9 1098.9) rotate(-90)" font-size="24.6" fill="#000" x="-35.2">tSNE2</text>
<g stroke-width="3.6" stroke-linecap="round" fill="none"><path stroke="#dedede" d="M120 1730zm2 1zm2 1zm2 1zm1 1zm0 2zm-1 2zm3-1zm1 2zm-1 2zm2 0zm1 0zm1-2zm2 1zm0 2zm2 1zm2 0zm2 3zm-2 1zm-3-2zm-2-1zm9 3zm-19-12zm-2 0zm-1-2zm20 43zm1 3zm2-2zm1 2zm2 0zm2 1zm1 2zm2 0zm-1 2zm-3 2zm-1 1zm-4 0zm0 4zm2 3zm2-3zm-2-8zm10-3zm1 1zm2 3zm2 1zm1-4zm-5 5zm-13 27zm-2 1zm-1 2zm-1 3zm-1 2zm1 1zm-2 1zm1 1zm4-3zm0-2zm3 2zm1 2zm2-2zm-3-5zm0-1zm-5-3zm-1-1zm-1 1zm-1 1zm-2-2zm2-1zm-4 4zm-1 2zm-3 1zm2 4zm-2 1zm3 1zm1-4zm2 1zm-4-12zm-1-2zm-3 1zm1 2zm-3 0zm-1-2zm0-2zm-2 1zm99-32zm1-1zm2 0zm1-1zm1 0zm-2-3zm2-2zm-2-2zm1-1zm2-2zm3 0zm-1-3zm3 0zm2 2zm2-2zm1 2zm0 0zm2 0zm1-2zm-1-1zm3 0zm3-3zm4 2zm0 3zm2 1zm2-1zm2-2zm-2-2zm0-2zm3 0zm2 2zm0 3zm1 1zm0 2zm-1 4zm1 2zm-2 1zm0 2zm2 0zm2 0zm1-3zm0-3zm4 0zm0 2zm2 0zm0 2zm2-1zm1-2zm-1-2zm-2-2zm0 0zm-2-1zm1-2zm-3 0zm0-2zm-2 0zm-2-4zm4-2zm-1-2zm1-2zm3 3zm1 1zm1-2zm2 0zm3 2zm2-1zm2-1zm1-2zm2 1zm2 0zm0 3zm0 1zm2-1zm2-3zm1-2zm3 2zm1-1zm2 0zm-1-2zm0-2zm1-1zm0-2zm-2-2zm-4 0zm-2 2zm-4 1zm1 2zm-3 2zm-1-2zm-1-1zm-1 2zm-1 2zm-3-4zm-2 2zm-3 1zm1 8zm3 2zm1 1zm-2 2zm0 2zm2 0zm0 2zm0 2zm2-1zm0 3zm2 0zm0 1zm2 0zm-1 2zm-2 0zm-3 0zm-2 2zm1 1zm0 2zm-2 1zm-1-2zm-3 0zm-1 2zm-4 1zm-2 1zm-3-2zm0-2zm-2 4zm-1 3zm-1 2zm-3 0zm-3 0zm-1-2zm-1-2zm-1 0zm2-2zm0-3zm3 3zm2-1zm-1 4zm-1 6zm2 1zm2 3zm-3 2zm0 2zm-1 0zm0 3zm1 2zm2-3zm5-2zm0-2zm0-3zm1-1zm1-3zm2-1zm2-1zm1 2zm-1 2zm1 2zm2-2zm1 1zm-6 2zm-6-4zm-9 4zm-1 1zm1 2zm0 0zm0 2zm-2 1zm-1-1zm3 5zm-1 2zm3 0zm-6-14zm-2 0zm1-3zm2-1zm2 1zm-6-2zm-1 2zm-2-1zm-1-3zm1-2zm0-2zm0-2zm-1-1zm0-2zm0-2zm1 0zm0-1zm0-3zm-2 0zm5-1zm2 0zm2 1zm0 2zm2 0zm2-1zm2 0zm2-1zm0 2zm-1 2zm3 0zm3-2zm-1-1zm1-1zm-8-3zm-1-2zm-2 2zm1 1zm-5 4zm1 2zm-3 0zm-1 3zm1 3zm2-1zm1 2zm-9 2zm-1-3zm-1-3zm-1-2zm-5 7zm0 2zm3 0zm1 3zm2 0zm-5 0zm4-34zm3-1zm0-3zm2-1zm-1-3zm-1-3zm-2 2zm-1-2zm-2-1zm-1 1zm-4-1zm-2 0zm-1-2zm2-1zm-1-1zm-2 0zm0-2zm-3-1zm-2-1zm0-2zm2-2zm0-2zm-2 0zm-2-2zm-2-4zm-3 2zm-4-1zm0-4zm1-2zm-2-1zm3-1zm2-1zm2-1zm2-1zm-1-3zm-3 0zm0 2zm-2-3zm-2 2zm0 2zm4 5zm5 0zm2-2zm2 3zm3-6zm1-2zm1-1zm1-2zm2 2zm2 0zm2-1zm1-2zm1-2zm1 4zm2 1zm3 0zm2 2zm2 1zm-1 2zm0 3zm3-2zm1 0zm1-1zm2 0zm-1 2zm1 4zm1 3zm0 2zm-3 0zm-2-1zm-2-2zm-2 0zm-1-1zm-2 1zm-1-1zm-3 3zm0 2zm2 0zm3 0zm-1 3zm-2 1zm-4 0zm-2-2zm2-1zm0-3zm0-2zm-4 2zm-1 2zm0 4zm-3 1zm1 2zm-4-1zm1-4zm0-2zm5-5zm6-4zm-4-4zm3-3zm5-4zm4-1zm-1-2zm-2-1zm-1-2zm-1-2zm-2 0zm4 0zm0-2zm1-2zm2 1zm2-1zm3-1zm3-4zm-1-3zm-2-1zm3-1zm-1-4zm-3 0zm-1 2zm-1 1zm-1 6zm-1 1zm-1 2zm-2 0zm-1-3zm-1-1zm-1 1zm-3 0zm2-3zm-1-3zm-2-2zm-1-2zm2-2zm0-1zm2-2zm1-1zm-2-1zm-4-1zm0 2zm-2-1zm-2 3zm0 2zm-2-1zm-2-2zm0-2zm-2 1zm-2 2zm-1-2zm-1-2zm1-3zm-2-1zm-2-1zm-1 1zm-2 1zm-3 0zm-2 0zm-2-1zm-2-2zm3-2zm0-2zm3 1zm2-2zm-2-2zm2-1zm3-2zm3 3zm-1 1zm4 0zm0 3zm-2 1zm-2 0zm-2 1zm-1 1zm-2-1zm4 8zm-1 2zm1 3zm2 0zm2 0zm3 0zm0 2zm-1 1zm-1 1zm0 2zm2 2zm2 0zm-1-3zm0-2zm2-1zm1 3zm1 4zm2 1zm2-1zm-1-2zm1-2zm-1-3zm7 1zm2 1zm2-4zm2 0zm0-4zm3-1zm2-1zm1-3zm-1-1zm-2 0zm-2 2zm-2-3zm-3 1zm1 2zm0 2zm-5-3zm-2 0zm-3 0zm-4 2zm-1-1zm0-2zm-4 0zm2-5zm4 1zm2-2zm0-3zm1-2zm-3 1zm0-4zm-3-1zm-2 1zm-3 0zm0 2zm13 5zm0 2zm2 0zm-1 2zm4 2zm2-4zm1-2zm-1-2zm-3-1zm-2 2zm-1-4zm10 8zm3-1zm0 2zm3 0zm2 0zm3 0zm2 2zm-1 3zm-2 0zm-1 1zm2 2zm3-2zm2-1zm0-2zm1-2zm-10 12zm-12 16zm-9 0zm-1-2zm-2 1zm-2-1zm-2 2zm0 2zm1 2zm0 2zm-2 1zm1 2zm3 1zm2-3zm2-1zm2 2zm0 2zm-9 3zm1 4zm-7-4zm-1-3zm2-2zm1-2zm1-2zm-4-1zm-2 1zm-1-1zm-1 2zm-2-1zm0 2zm-3-1zm0-2zm2-1zm0-1zm-2-2zm-1-3zm-2 0zm-1-2zm0-4zm1-2zm2 2zm2 1zm0-4zm4 3zm1-2zm1 3zm2 0zm3 2zm-2 3zm-1 2zm1 3zm4-1zm5 2zm-11 3zm0 2zm-2 0zm0 2zm0 3zm-4-1zm-1-1zm-1 2zm6-13zm-3-2zm7-10zm-4-3zm-2-2zm-4 0zm-2-4zm-4-2zm0 6zm48 23zm3 1zm-1 3zm1 1zm2 2zm-2 2zm-2 0zm-2 1zm-1 1zm2 1zm4-1zm0 2zm2-3zm0-6zm0-1zm-6 3zm-1-2zm-5 11zm6 7zm-3 4zm0 4zm2 4zm0 4zm-2 1zm1 3zm-1 2zm-1 2zm-1-3zm-1-2zm-2-3zm-2 3zm-2-1zm0 2zm-2-3zm-4 0zm-4 8zm-1 4zm-1 2zm2 1zm1-2zm0 4zm5-2zm1-3zm2 0zm2-1zm-5-1zm10 5zm2-2zm2-2zm-1-1zm3-1zm1-3zm1-1zm3 1zm0 3zm-2 2zm1 2zm1-1zm-2 3zm-4 0zm-2 1zm-3 2zm9-16zm1-7zm-2-4zm-7 5zm20-7zm22 14zm-2 3zm4 3zm2-3zm1-3zm4 1zm12 5zm-1 3zm2 0zm0 3zm-1 0zm1 1zm1 0zm2-1zm1-2zm3 1zm1 4zm1 1zm0 2zm1-4zm2 0zm2 1zm2 0zm1 2zm1 0zm1 1zm2-1zm0 2zm-1 2zm-1 1zm0 2zm2 0zm3-1zm1-2zm1-3zm-3 0zm8 2zm1 2zm0 2zm-2 0zm2 3zm2 1zm1-2zm1-2zm2 4zm0 1zm-2 0zm0 1zm1 2zm-2 2zm1 1zm-4-1zm-2 0zm1 2zm-1 2zm-1 2zm2 2zm2 0zm2-1zm-2-3zm6 2zm1 2zm2-2zm2-2zm0-2zm-3-1zm-1 2zm1-5zm4 9zm0 2zm2-1zm-3 3zm-3 0zm-1 1zm0 1zm-1 3zm-2-1zm-1 4zm1 2zm1 1zm0-2zm2-1zm2 2zm1 3zm-2 0zm0 2zm-2-1zm0 2zm2 3zm2-3zm2-2zm1 2zm1-6zm0-2zm0-2zm-2 0zm-7-7zm-3 1zm-3 1zm-3-2zm-2 1zm-2-1zm-3 1zm-1 2zm0 2zm2 1zm2 1zm2 0zm2 0zm1 2zm2-2zm-4-3zm-2 6zm-3 0zm-3 2zm-4-2zm2-4zm2 1zm-4-2zm1-2zm2-1zm0-2zm2-1zm1-2zm-1-3zm2-2zm-1-3zm2-2zm1 1zm-2-3zm3-3zm1 1zm1 2zm3 1zm-5 10zm-8-1zm-3 0zm2-3zm1 0zm0-3zm-2-2zm-2-2zm-1 1zm-2 1zm-2-1zm-1 1zm1 2zm-2 1zm0 3zm3 0zm1 1zm0-4zm2-1zm-4-5zm-1-4zm4-2zm1-1zm2 1zm-1 2zm3 0zm0 3zm-1 0zm-14-4zm0-2zm-4 0zm-2-3zm-2 1zm0 2zm-2-1zm-1 0zm-2-1zm0 3zm-2 1zm-1 3zm-3-2zm-3 0zm-1 1zm-2-1zm-1 2zm2 3zm3-1zm5 2zm0 2zm-2 3zm-2-1zm0 2zm-1 2zm-3 2zm1 1zm0 2zm-1 2zm0 2zm0 2zm-1 1zm-1 2zm4 0zm2-2zm0-2zm-2 0zm3-2zm1-1zm2 3zm0 2zm-2-1zm4 0zm2 0zm3-1zm2-2zm2-2zm-1-2zm0-2zm3 1zm1 2zm2 1zm1 1zm2-1zm3-1zm1-1zm4 2zm2-1zm-1 4zm0 3zm-2 1zm-3 1zm-1-2zm1-1zm-3 1zm-2 0zm1-2zm1-1zm-5 3zm-1-2zm0-2zm-8-1zm-2-3zm-2 0zm0 2zm0 2zm-3-5zm-2 0zm3-4zm2 0zm0 2zm3-1zm2 0zm-1 2zm2-5zm0-3zm3 2zm1 1zm0 2zm3 1zm1-7zm-3-4zm-2 0zm-5-2zm-2 0zm1 3zm-1 4zm0 2zm-7-13zm-2-1zm-2 0zm0 2zm-3-1zm16-5zm7 1zm2-1zm-25 23zm-1 3zm-2 0zm1 2zm1 2zm-9-10zm9 34zm19 7zm3 3zm2 1zm-1 2zm2 2zm2 0zm-5 5zm1 1zm2 2zm2 6zm4 1zm5 0zm-2 4zm4 8zm-3 1zm1 2zm2 1zm0 4zm-1 4zm-2-1zm0 2zm1 4zm-3 1zm-1-2zm-4-3zm-1 4zm-1 3zm4 4zm0 4zm4 0zm2-3zm1-1zm0-2zm0-2zm4-2zm-1-2zm4 0zm2 0zm0 3zm-3 1zm4 3zm-1 2zm-3 2zm-1 0zm-1 6zm1 1zm1 2zm-2 1zm3 3zm4 0zm0 2zm4-2zm3-3zm3 1zm0-4zm4-1zm1 3zm1 0zm0 5zm2 2zm-3 2zm-2 0zm-4 3zm1 2zm2 0zm2 5zm-4 2zm2 3zm-1 1zm5-1zm2-1zm1-1zm0-3zm-1-2zm2-7zm5 12zm0 3zm-1 2zm-1 2zm1 1zm-3 3zm-2 2zm-1 1zm0-2zm-4 0zm-2-2zm-3 0zm-2-1zm0-2zm-3-3zm-3 1zm0-4zm0-3zm1-2zm0-3zm4-1zm-2-4zm-9 5zm-2 3zm-2-2zm-4-3zm-2 2zm-3-2zm-2 2zm2 2zm-1 2zm3 2zm-6-4zm-4-3zm2-4zm-3-1zm-5-2zm-1 2zm2-6zm0-2zm2 2zm1-4zm3 0zm-1-5zm6 2zm1 1zm0 3zm-1 1zm1 1zm-1 3zm-2 2zm6 3zm3-3zm1 1zm1 2zm2-1zm1 2zm-2-4zm0-3zm-5-2zm2-3zm2-1zm-1-2zm2 0zm8 3zm2-6zm3 0zm3-3zm7 3zm-6-11zm1-3zm2 1zm1-4zm-1-5zm-3-2zm-3-4zm-4 5zm-3-4zm-3 1zm0 4zm0 2zm0 3zm3-1zm4 1zm1 3zm-17-9zm-1-1zm-4 2zm-1 0zm-4-3zm-2 2zm-5 1zm-1-3zm1-1zm-1-2zm0-2zm2 1zm-5 1zm-1-1zm-1-1zm1-2zm-2-1zm1-1zm-5 2zm-1 2zm-2 2zm-2-5zm1-1zm2-1zm-9 1zm0-3zm1-4zm-6 3zm1 2zm-2 1zm-3 1zm1 3zm-6-2zm-2 2zm-2 0zm2-4zm1-2zm5-2zm3-1zm-9 13zm-4 3zm3 3zm-2 3zm4 0zm-1 4zm3 0zm2 2zm1-1zm0-3zm-2 6zm1 2zm-1 5zm2 1zm-5-1zm-3-1zm2-2zm-3-4zm-2-4zm-7 0zm-2 5zm-1 2zm2 0zm0 2zm-5 1zm-1 3zm0 0zm0 7zm5-2zm1 2zm-1 4zm2 6zm-1 2zm-1 1zm-2 3zm1 2zm1 6zm3 1zm-1 2zm5 0zm-1-4zm0-3zm6-1zm0-4zm1 0zm2-2zm-1-1zm2-2zm-3-1zm-2 0zm0-3zm-2 0zm-1 2zm-3 5zm12 1zm0 3zm6-1zm1-2zm2-1zm1 1zm4 0zm1-5zm-1-3zm-2-2zm0-3zm3 1zm3-1zm-1-3zm0-2zm0-2zm0-3zm-3 0zm-2 2zm-1-3zm-2-2zm5-4zm2 2zm3-2zm-1-3zm3 0zm2 3zm-2 3zm-1 3zm2 3zm1 3zm3-2zm2-2zm1-3zm4 3zm1 2zm-8 5zm-1 11zm-3 2zm-3-2zm-4 9zm-7 2zm-4 3zm-3 4zm-3 0zm0-1zm-2-2zm-5 6zm1 1zm-1 4zm7 5zm1-1zm5 0zm-1-6zm7-2zm1 1zm3-4zm2 3zm5-1zm0 2zm4 5zm0 3zm-3 0zm-2-1zm-5 1zm-3 0zm2 3zm3 4zm2-3zm6 5zm-3 5zm2 2zm-3 1zm-2 0zm-1 3zm-2 2zm-2-1zm0-2zm0-3zm2 0zm-8 0zm15 4zm3 0zm1-2zm2 2zm-1 3zm4 1zm4-3zm1-2zm-1-3zm-2 1zm-1 2zm5 5zm2 0zm1-1zm0 2zm3-3zm3 2zm2-6zm0-7zm-2-1zm0-3zm2-2zm2 4zm6 1zm1-2zm1-2zm2 1zm1 3zm2 0zm4-6zm4 3zm2-1zm0 7zm-1-14zm1-3zm4-1zm4-5zm0 0zm2-3zm5-2zm-2 13zm1 2zm-27-6zm-1 0zm-4-2zm0 6zm-4 1zm0 2zm-5-5zm-4 0zm-1-2zm2-2zm0 0zm-1-2zm-3-1zm-2 2zm1 3zm0 1zm-4 1zm-4 0zm0-1zm-2 0zm-1-3zm0-2zm2 2zm-2 9zm4 1zm2-1zm2 1zm1 0zm2 0zm2-2zm2 0zm-5-1zm5 7zm-3 7zm2 3zm-9-7zm0-2zm-4 22zm-2 2zm-1-1zm5 4zm26-14zm0-7zm-31-30zm-1 0zm5-5zm3-2zm-29-5zm0-2zm-6-4zm0-2zm1-3zm-2-1zm-4 2zm-3-2zm3-2zm0-2zm0-3zm3 2zm-4-6zm-3 2zm-3 5zm-7-12zm0-4zm8-5zm0-2zm1-1zm-2-3zm-1 1zm-9-3zm28 3zm2 1zm4 2zm2-3zm2 4zm0 2zm5 0zm0-4zm-5 9zm-5 14zm-3 2zm-3 3zm26-22zm8-1zm1 8zm-7-17zm12-3zm-4-24zm-2-5zm2-1zm20-23zm12 1zm0 1zm1-2zm0-2zm1-1zm4 0zm-1 4zm-1 0zm2 1zm43 8zm-13 33zm26 9zm36 17zm-34 60zm-2 0zm-2-1zm6 6zm-3 2zm3 4zm3 2zm-1 2zm4 0zm1 4zm-3-8zm-39-190zm-17-30zm-10-12zm-5-9zm0-3zm-3 1zm-1-4zm-3 1zm-3-2zm-2-1zm1 3zm0 3zm-3-1zm-4-3zm-2 2zm-1-3zm-2 0zm1-2zm-1-1zm-2 0zm0-2zm2-2zm2 1zm0 2zm2 2zm1-1zm2-1zm-9 5zm-2 0zm-1 1zm1 1zm-4-2zm-2 1zm0 3zm-3 3zm-2 2zm1 1zm-1 1zm-2 3zm-1 0zm-1 2zm0 3zm-3 2zm-2-2zm1-2zm0-4zm3-2zm1-3zm-1-4zm3 0zm-2-3zm-1-2zm0-2zm-1-2zm3 1zm2-1zm2-1zm2-1zm0-2zm2 2zm1-3zm2 0zm-1-2zm2-3zm2 1zm-7-2zm-2 0zm-3 1zm-1 1zm1 12zm3 0zm-2 3zm6-4zm3 1zm1-1zm-2-3zm-1-39zm-4-3zm-2-1zm1-2zm3 1zm4 0zm2-4zm1-2zm-3-1zm-1-3zm-2 0zm1-2zm2 0zm0-2zm0-2zm-3 0zm-1 2zm-2 3zm-2 0zm-3-3zm1-2zm-2-3zm-2 1zm-2 4zm-1 2zm2 1zm2-1zm1 4zm-2 0zm0 2zm5 0zm2 1zm3-2zm6-4zm-4-8zm-4 1zm-3-3zm-2-1zm4-1zm1-4zm-5 0zm-4 3zm0-8zm1-2zm2 1zm1 0zm0-3zm0-2zm-4-2zm-2 3zm0 2zm3-9zm-6 40zm3 5zm5 3zm3 1zm-2-5zm51-60zm2-2zm0-3zm-1-3zm2-1zm0-2zm2 2zm1 0zm1 2zm1-3zm-5-5zm-2-1zm2-2zm-3-1zm1-2zm-2-2zm-1 2zm-3 0zm0 3zm-2 1zm-2 0zm-1-3zm0-4zm2 0zm2-4zm4 2zm-9-4zm-2 0zm0-2zm-1 5zm-1 4zm1 2zm-3 2zm1 3zm3 0zm0 2zm-2 2zm3 3zm2-2zm2 1zm-1 1zm3 2zm2 0zm0-2zm0-2zm-2-1zm1-3zm2 2zm9 13zm3-2zm-27-23zm112 68zm10 63zm-230 49zm-2 2zm-1-3zm4 9zm1 3z"/><path stroke="#d9e2d9" d="M240 1863zm4 3zm2-2zm-1 11zm-8-4zm-8 8zm22 19zm-6 15zm23 7zm13-4zm3 18zm-3 6zm21 1zm7-7zm-4-14zm17-1zm-3-25zm-4-9zm-14 0zm2-20zm14 4zm11-20zm2-2zm4 4zm-29-15zm3-9zm-5-5zm-8-2zm-2-8zm-8 37zm-12-1zm-11 4zm7 7zm16 8zm52 31zm54 27zm3 7zm-12-101zm-4 0zm-5-7z"/><path stroke="#d2e7d4" d="M218 1760zm47 2zm33 50zm4 13zm6 4zm11 22zm-2 5zm-2 1zm-1 8zm1 11zm-1 10zm3 8zm0 2zm-7 2zm-10-12zm-5 1zm1-9zm9 0zm-11-10zm-5-4zm-2-3zm-6 2zm-8 12zm6 6zm0 8zm9 5zm-21-3zm0 14zm-14-5zm-1 2zm-9-3zm-1 11zm4 5zm3 5zm6 7zm10-6zm15 0zm4 10zm2 1zm8 6zm-20 3zm28-22zm10 7zm3 7zm1 3zm5 1zm5-5zm2-1zm7-6zm2-7zm-1-8zm-4-1zm-2-5zm5-1zm5-1zm5-2zm6 9zm-12-20zm-5 2zm-3-5zm-4-4zm8-13zm-9-21zm-41-1zm-3 0zm-11-4zm-13 9zm-4-1zm-2-2zm-6 2zm-8 5zm-3 3zm0 6zm-2 11zm5 7zm5-4zm4 4zm-2 2zm14-8zm-3-7zm-1-4zm-2-1zm-3-5zm-3 6zm17-5zm63 50zm1 7zm43-82zm-1-1zm4-32zm36-21zm11 15zm5 12zm27 54zm-84-119zm67-78zm-4-27z"/><path stroke="#b4ddba" d="M407 1634zm-16 115zm-10 81zm-54 29zm4 9zm-4 26zm-12 9zm-9 5zm-8 13zm-2-1zm3 5zm-10 8zm-8-4zm-12 11zm-8-14zm-4-2zm1-27zm1-8zm4 0zm-9-14zm-10-13zm16-6zm-2-17zm33 5zm9-13zm7 0zm-12 62zm36 25zm-45 29zm-53-59zm157 37zm87-68z"/><path stroke="#8ccd98" d="M325 1554zm79 94zm9-4zm-12 22zm21 34zm-26 13zm-24 5zm-3 11zm-4 0zm30 14zm56-32zm21 88zm-40 3zm-20 17zm-43 13zm107 23z"/><path stroke="#69bd7a" d="M284 1626zm74 77zm-4 12zm24-3zm1-2zm10 3zm5-20zm3-3zm-5-15zm-3-3zm17-5zm5 2zm12-14zm10 7zm1 10zm-4 13zm-3 6zm12-4zm0 8zm5 2zm4 6zm-11 3zm9 14zm-25 4zm-5-9zm-13 41zm-12 14zm-10-2zm-6 6zm-5-21zm6-10zm4 2zm17 51zm14 13zm4 4zm12 15zm6 14zm-1 8zm13-9zm4 18zm29-17zm7-5zm2 16zm-17-33zm4-21zm-7-1zm-3-13zm-18 18zm-55 26zm-21-4zm-2 4zm-54 39zm-31-24zm-21-64zm139-132zm2-12zm6-9zm11-11zm7 20z"/><path stroke="#48ad60" d="M151 1787zm91 69zm38 13zm26 24zm86 36zm44-79zm9-4zm5 8zm12 1zm7 0zm5 8zm-3 3zm-6 3zm-1-3zm15 0zm3-3zm-2-11zm2-9zm-2-8zm-1-2zm-8 4zm-9 0zm-4 0zm-2 1zm0-3zm14-8zm22-5zm2-2zm1 8zm-3 26zm-11-55zm-19-21zm2-4zm-4-5zm-7 5zm-2-16zm3-4zm-6-2zm-12 1zm-19-13zm-4-1zm-5-5zm-5 8zm10-20zm10-5zm11 4zm-7 9zm-1-34zm-7-18zm-7-6zm-12 6zm-9-1zm6 10zm-14 9zm-6-3zm1-2zm-4-4zm-5 1zm-9 10zm-4 6zm-3 1zm-5-5zm3-10zm4-8zm11 20zm-5 6zm11 12zm-3 4zm8-10zm2-7zm6 12zm-2 1zm7-4zm-15 22zm14 25zm25-1zm-1 12zm2 6zm2 1zm-14 5zm6 11zm9 3zm1 3zm14-6zm16 4zm-25 19zm-1 2zm-2 0zm-4 0zm13 4zm4 9zm-35-35zm-11-8zm-44-3zm-20 1zm-46-29zm64-44zm-10-24zm44-26zm25-3zm25-15zm2-16zm-15-3zm-4-6zm0-5zm0-4zm-6 6zm3 14zm16-18zm14 57z"/><path stroke="#33a350" d="M230 1654zm61 33zm35 7zm4 10zm3 6zm19 0zm9-4zm2-15zm-5-4zm16 1zm2 0zm0-5zm2-5zm-4-1zm14 1zm1 2zm-3 5zm-3 4zm-5 12zm6 8zm5 11zm-2 3zm3 3zm-16-9zm-19 6zm23 36zm-4 6zm6 6zm2 0zm5 0zm-1-4zm2-1zm4-3zm-4-9zm22 2zm6 5zm3 3zm-7 1zm-6 7zm-9 11zm-11 3zm-4 0zm8 8zm5 7zm8-2zm6-9zm5 0zm7 10zm3 12zm-6 13zm1 2zm-5 0zm0 3zm7 2zm1 4zm1 1zm2 6zm4-3zm2-5zm5-3zm3 4zm2 6zm-2 1zm5 0zm-6 11zm5 3zm7 5zm8-1zm3 4zm3 0zm0 6zm2 1zm2-2zm3-12zm-1-6zm-2-2zm-6 3zm1 5zm-5-10zm16-5zm6 4zm4-1zm-16-24zm-18-3zm-3-9zm0-12zm7-2zm2-1zm19 0zm10 14zm7 5zm-42-52zm-9-10zm-23-7zm-7 1zm0-14zm10-5zm3 0zm-8-6zm-2-10zm-1-4zm-9 5zm1-21zm14 1zm4 0zm2-2zm1-5zm-8-2zm8-7zm5 2zm4 0zm4 6zm0 7zm-10 5zm-1 2zm6 3zm-3 5zm7 1zm9 0zm7-2zm-10 13zm-10-55zm-1-9zm-1-6zm-5-1zm-8 5zm3 5zm-18 1zm-2 3zm-12 3zm1 6zm19 2zm-4-24zm8-26zm11 6zm-142-20zm28 230zm21 17zm-9 16zm5 7zm10 46zm-4 7zm-68 9zm-13-14zm-12-32zm129-67zm55 0z"/><path stroke="#2e9d4c" d="M219 1699zm41 82zm66 1zm48-16zm2 5zm5 3zm8-5zm5 0zm5 1zm4 1zm1 3zm5 2zm-3 10zm13-13zm0-5zm-7-12zm-1-7zm-2-4zm6-1zm5 3zm0 1zm-10-12zm-6-6zm3-4zm7 1zm5-13zm3-9zm-1-1zm-1-7zm7 3zm4 0zm7-4zm5-4zm1 0zm-8-7zm-4 1zm-5-4zm7-7zm3 3zm2-10zm-1-2zm-18-2zm-6-3zm-7-5zm2-2zm1-5zm-7-9zm0-7zm0-7zm2-10zm8 16zm6 5zm5 1zm0-6zm-4-4zm12-2zm-2 15zm-1 3zm-13 29zm-5-2zm-11-1zm-5 4zm1 3zm-3-6zm-4-4zm-5 4zm3 10zm7 3zm-5 18zm-3 2zm-2 8zm-16-5zm-3-8zm0-3zm-7 0zm-3 1zm4 4zm-3 9zm0 3zm2 2zm-3 9zm0 3zm10-1zm-1 6zm3 2zm6 5zm0 11zm-3 1zm-1 0zm0 4zm12 0zm3 0zm8-8zm-2-11zm2-2zm-6-2zm14-8zm8-14zm10-22zm18 20zm10 9zm5 0zm-14 35zm7 10zm3-2zm13 7zm5 11zm9 19zm3 2zm6 3zm-1 2zm1 2zm-17 14zm-9-8zm-3-3zm-2-1zm-6-3zm-3 3zm-1 6zm4 5zm-6 8zm-1 4zm-5 0zm-2-2zm-3-6zm-2 0zm-1 0zm0 2zm2-4zm-2 12zm5 6zm4 2zm-5 4zm10 5zm2-1zm-2 4zm-1 3zm7-5zm6-1zm4 5zm5 2zm-2 3zm6 0zm1 2zm8-9zm7 3zm-1 7zm0 5zm9-18zm2-2zm-4-3zm0-2zm1-2zm-4 0zm-2-2zm-2 1zm-4 2zm8-6zm10-4zm-46 4zm-2 1zm-3 0zm2-5zm1 11zm-29-16zm-1-3zm-2-2zm-2 0zm8-18zm9 1zm9-2zm-2-8zm3-4zm-15-1zm28 11zm2-1zm-58 3zm-11-13zm14-25zm5 0zm-9-5zm-22 62zm1 5zm-3 5zm6 2zm0 2zm-2 1zm-7-13zm-5 1zm-2 30zm-37 38zm-28-22zm-35 11zm-12 21zm41 12zm50-222zm19-2zm4-9zm5 0zm6-2zm-4 10z"/><path stroke="#299847" d="M236 1677zm99 11zm12 1zm4 4zm6 7zm5-12zm7-3zm3 3zm0 5zm-1 2zm5 4zm3 4zm-4 1zm-2 1zm-2 2zm5 8zm1 1zm0 9zm-3 6zm-2 5zm-8 1zm-8-3zm11 11zm6 0zm18-6zm2 6zm8 1zm0-7zm-3-13zm-5-4zm-4-4zm-2-2zm-2 8zm8-16zm-1-4zm-2-2zm-2 2zm-1-3zm10 3zm6 3zm0-9zm16-8zm8 4zm4 9zm2-1zm-8 5zm-5-2zm-1 11zm8 0zm0 0zm3 2zm-7 5zm-15 0zm-1-2zm0-4zm-2 8zm15 27zm-19 8zm-2 4zm-2 2zm-2-2zm-2 1zm0 7zm0 8zm-5 2zm-5 4zm-5-3zm1-3zm14 17zm9 4zm4-9zm-2-1zm2-2zm10 16zm7 10zm-4 2zm-3 2zm2 10zm1 6zm11 2zm7-3zm0 13zm-3 2zm3 3zm7 0zm3-7zm3 2zm2-5zm1-3zm2-2zm4 3zm5-4zm-3 13zm-1 5zm-1 2zm-3-6zm-4 7zm5 6zm2 0zm-1 2zm-3 0zm12-1zm0 2zm2-2zm4-6zm0-3zm8 5zm6-1zm0-10zm3-3zm-1-3zm-7 6zm-3-4zm16-23zm-6-10zm-1-7zm-7-8zm-1-1zm-3 6zm-8-4zm-4-15zm-4 1zm1-10zm-3-2zm-3-4zm8 2zm-23-12zm1-3zm6-33zm2 0zm2-6zm1-3zm-6 0zm-3 1zm-7-1zm-4-30zm0-5zm4-8zm2 1zm1-9zm-4-11zm-2-1zm-9-3zm-10-4zm1-5zm-2-8zm-6-2zm-6 2zm3 6zm4 11zm2 0zm3 2zm-3 3zm-4 0zm-2 3zm1 2zm4-1zm5 0zm2 0zm3 1zm6 1zm-23-5zm-1 2zm-7 8zm-14 5zm3 11zm-5 3zm-37 21zm4 6zm5 6zm78 72zm6 18zm2 8zm-4 0zm8 4zm5 1zm7-6zm-4-3zm1-14zm-2 46zm-21 4zm-44-17zm-4 9zm-5-2zm-9 20zm-52 9zm-16-12zm-43 19zm39 56zm20-10zm36-7zm60-289zm1-4zm2-3zm9 4zm6 6z"/><path stroke="#239343" d="M418 1614zm4 1zm1 6zm-11 6zm-5 4zm1 1zm4 10zm4 7zm3 1zm8 5zm2 3zm2-5zm-2-6zm4-16zm-6 34zm6 8zm-5 3zm-6 12zm2 1zm1 3zm-1 3zm7 0zm-5 7zm1 2zm-12 5zm-13 3zm-2 2zm-5-6zm-2-7zm-1-5zm1-3zm3 0zm-5-3zm9-11zm-4-7zm-6-3zm3-4zm-1-1zm6-2zm1-1zm3-4zm-2-1zm-2-2zm1-2zm-17 13zm-6 2zm-2 18zm-9 2zm-5-2zm3 21zm-13-2zm2 16zm7 5zm-3 4zm12 3zm-1 12zm4 3zm2 8zm-1 8zm2 5zm6-9zm6 10zm-1 9zm8 17zm8 7zm1 2zm13-8zm3 0zm-1-6zm8-1zm0 3zm5 10zm4 0zm0-3zm4-1zm3 0zm2 2zm-7 8zm-6 6zm-7 3zm-2 1zm-1 1zm-2 2zm1 2zm3 1zm0 3zm-9-3zm-3 0zm13-15zm10 13zm4 4zm-1 1zm-3 11zm2 7zm8 0zm0-3zm5-3zm2-4zm-4-1zm9 9zm-2 5zm-5 4zm-2-3zm-4 2zm6 6zm3-2zm5 2zm11 1zm3-1zm2 3zm4 4zm2 5zm1-11zm5-1zm3 5zm2-1zm-5-13zm2-1zm-6-5zm-1-6zm13-11zm-1-7zm-2-3zm2-3zm-4-5zm-16-10zm-1-1zm-2-8zm-1-5zm-4-3zm-3-2zm-7-11zm-7-4zm-6-7zm-20 3zm-3-9zm-2-7zm5-3zm4-5zm1-10zm2-6zm5 3zm8-5zm-34 17zm-1 10zm-2 1zm-7-4zm-12 0zm-3-2zm5 9zm13 14zm3 0zm10 6zm5 7zm-6 4zm-5 3zm38 31zm2-2zm4 1zm0 1zm-1 2zm9 4zm4-1zm0 4zm-6-15zm8 41zm-5 20zm37-37zm-101-104zm-3-2zm-9-8zm-3-8zm-4 0zm6-4zm-1-3zm26-8zm2-9zm5-2zm0-12zm2-5zm-101 137zm21 62zm-48 71zm-23 0z"/><path stroke="#1f8d40" d="M328 1691zm10-4zm16 7zm2 1zm6 3zm2-8zm5 13zm6 1zm1 8zm-3 3zm8 1zm2 2zm0-6zm8-4zm3 1zm0-6zm0-3zm2-7zm-5-9zm12-4zm7-5zm6 4zm12-10zm11 3zm-6-20zm-9-3zm-3 5zm-9 5zm-8 7zm-4-7zm-7 3zm7-22zm11-9zm4 1zm6-5zm8-8zm-4-4zm17 80zm-1 10zm2 11zm0 3zm6 1zm0-2zm7-7zm-20 8zm-4-3zm-1 8zm-4 5zm-13 1zm2 7zm1 1zm2 4zm-10 1zm-11 5zm-3-1zm-3 3zm4 2zm1 3zm-6 3zm-13-1zm-3-11zm0-5zm-12-13zm-7 3zm4-12zm3-3zm-10 2zm0-5zm-15 1zm46-12zm6 27zm4 4zm2 4zm23 19zm1 6zm-3 15zm-5 0zm-2 5zm-2 3zm-8-6zm-4-6zm7-4zm-18 14zm-8-6zm19 21zm4-3zm2-1zm7 8zm5 5zm8 0zm-1 4zm5 4zm5-6zm3-1zm5 3zm1 8zm14 0zm-5-13zm11-2zm-1-23zm-1-4zm-1-2zm-7-10zm5-4zm6-4zm-40 32zm1 3zm-5 38zm16 3zm2 6zm5-1zm1-4zm-10 14zm11 6zm3 0zm1 4zm5 6zm3-7zm0-4zm4 1zm6 0zm1 2zm3 4zm9-1zm1-6zm4-8zm8 7zm-3 3zm-21-4zm-7-7zm-4 4zm10-7zm-5-9zm32-12zm2-4zm-8-14zm-66-99zm10-6z"/><path stroke="#1e863e" d="M407 1625zm6 11zm8 3zm3-10zm-3-5zm4 27zm4 8zm-11 1zm0 10zm0 11zm-7-1zm7 15zm-8 12zm-1 4zm1 11zm2 0zm11 7zm-2 9zm-7 2zm-1-3zm-15-3zm-1 9zm-8-11zm-11-1zm0 19zm2 23zm24-5zm5-6zm5-4zm1 9zm0 6zm1 4zm-6-4zm-6 7zm16-9zm22-11zm5-5zm13 21zm7 3zm3 3zm1 13zm-4 0zm-11 6zm-4 7zm-7-1zm-4 6zm-12 3zm-3 4zm-2-2zm-7-3zm-4-1zm10-11zm5 5zm6 17zm-1 2zm-6 10zm-2 4zm19-10zm6 8zm-1 7zm12-1zm-1 6zm-5 9zm7 10zm7-3zm9-2zm0-2zm5-2zm2 0zm5-6zm-4-14zm-1-1zm2-29zm3-3zm-30 12zm-5 2zm-10-36zm-47 17zm-14 30zm9-120zm3-16zm-14-27zm11-8zm12 0zm1-1zm0-10zm25 30zm1 3zm7-5zm4 9zm-9 21zm16 5zm2-5zm-86-5zm-123 155z"/><path stroke="#1c7f3c" d="M402 1632zm4-4zm15-7zm12 14zm-19 22zm5 10zm-3 3zm7 10zm-2 5zm8-4zm8-13zm6 28zm1 10zm8 5zm-40 9zm-18 14zm-17-14zm-2-11zm12-1zm5-29zm-3-10zm3-1zm-1-8zm-25 23zm-8 9zm0 30zm4 9zm24 45zm19-1zm29 16zm13 18zm11 4zm-5 16zm2 11zm2 2zm15 11zm11 6zm6-2zm-2-18zm7-15zm-28-37zm0-6zm-18-17zm-24 60zm3 7zm1 3zm1 8zm-11-10zm52 41z"/><path stroke="#1b773a" d="M408 1619zm16 0zm-5 39zm-4 9zm0 16zm-14-6zm-17-10zm-10 8zm-4 3zm49 48zm-13 26zm-5 17zm-3 6zm-23 2zm50 24zm17 5zm9 3zm0 8zm-22 12zm24 17zm-3 4zm8 8zm18-6zm0 15zm16-24zm-18-7zm-21-77z"/><path stroke="#1a7038" d="M404 1619zm11 27zm7 38zm4 4zm10 30zm-40 25zm-20 8zm10-53zm49 103zm6 44z"/><path stroke="#196a36" d="M371 1729zm21-6zm-12 26z"/><path stroke="#186535" d="M408 1766z"/><path stroke="#175f33" d="M472 1841z"/></g>
<path d="M98.8 1522.1V1975.6H516.7" fill="none" stroke="#000" stroke-width="1.6"/><path d="M113.8 1975.6v5.5" stroke="#000" stroke-width="1.6"/><text x="96.1" y="2001.5" font-size="24" fill="#000">−50</text><path d="M218.87 1975.6v5.5" stroke="#000" stroke-width="1.6"/><text x="201.4" y="2001.5" font-size="24" fill="#000">−25</text><path d="M323.94 1975.6v5.5" stroke="#000" stroke-width="1.6"/><text x="317.9" y="2001.5" font-size="24" fill="#000">0</text><path d="M429.01 1975.6v5.5" stroke="#000" stroke-width="1.6"/><text x="417.4" y="2001.5" font-size="24" fill="#000">25</text><path d="M98.8 1533.9h-5.5" stroke="#000" stroke-width="1.6"/><text x="63.7" y="1542.5" font-size="24" fill="#000">50</text><path d="M98.8 1650.67h-5.5" stroke="#000" stroke-width="1.6"/><text x="63.9" y="1659.3" font-size="24" fill="#000">25</text><path d="M98.8 1767.44h-5.5" stroke="#000" stroke-width="1.6"/><text x="77.1" y="1776.0" font-size="24" fill="#000">0</text><path d="M98.8 1884.21h-5.5" stroke="#000" stroke-width="1.6"/><text x="50.0" y="1892.8" font-size="24" fill="#000">−25</text><text x="274.2" y="2038.6" font-size="24" fill="#000">tSNE1</text><text transform="translate(40.9 1751.2) rotate(-90)" font-size="24.6" fill="#000" x="-35.2">tSNE2</text>
<g stroke-width="3.6" stroke-linecap="round" fill="none"><path stroke="#e0e0e0" d="M878 1651zm0 3zm3 4zm3 3zm4 0zm6-4zm6 5zm2 0zm2-2zm2-4zm-5-3zm-7-6zm-5 0zm-3 0zm0 2zm-3 4zm-7 9zm-9 1zm5 14zm-3 4zm1 2zm2 0zm3 5zm4 2zm1 1zm1 1zm3 3zm6-2zm-1-4zm0-2zm2-2zm4 0zm2-7zm4-3zm-6-4zm2-5zm2 1zm9 4zm2-4zm1-4zm4 2zm1-3zm2-4zm-5 0zm0-2zm11 8zm-10 12zm4 4zm1 3zm-3 4zm-3 1zm-2 1zm-2-1zm-1-2zm-2-4zm2 10zm2 5zm1 2zm-4 1zm-5 0zm-1 2zm-2 5zm4 4zm-1 5zm0 2zm2 0zm0 2zm2 0zm-6 2zm-3 2zm-6 2zm-2-2zm3-4zm-9-4zm-6-5zm-1-5zm0-2zm2-2zm2 1zm3 0zm4 6zm6-5zm1-1zm2-10zm19-1zm0 6zm1 3zm2 0zm1 2zm0 5zm-4 6zm5 3zm-8 5zm-2 5zm2 4zm6 2zm-1 3zm3 4zm-8 1zm-1-3zm-4 2zm-1-3zm-3-3zm-3 3zm-6-1zm-1 3zm-1 4zm0-13zm16 13zm4 4zm-3 2zm4 9zm1 1zm-1 2zm-1 3zm4 1zm8 0zm-1 4zm3 0zm3-4zm2 4zm0 2zm2 0zm0-3zm-3 5zm-2 4zm5 0zm2-1zm5-3zm4 2zm2-1zm6 0zm1 3zm4-2zm2 0zm3 1zm-4 3zm2 5zm4-1zm3-1zm-1-3zm4-3zm3-1zm3 3zm-2 2zm5-2zm4-2zm2-4zm-1-1zm1-6zm-2-1zm5-1zm2 2zm1-7zm-2-2zm5-1zm-1-3zm2-1zm3 6zm2 3zm1 1zm5 0zm3-1zm3 2zm-2 2zm1 2zm4 0zm0 3zm1 5zm-2 2zm-2 2zm2 2zm0 1zm-8-1zm-3-2zm2-2zm2-4zm-2-2zm-6-4zm7-10zm-20-8zm-11 2zm-2 1zm-1-8zm-4-1zm-11 1zm-4 0zm-2 1zm-1 2zm5 2zm4 3zm-2 4zm-4 1zm1 2zm-4-3zm-3 5zm0 2zm-3 2zm-2-2zm-1-3zm-3-2zm-4-4zm-2 3zm-2-2zm-3 0zm5 5zm1 3zm7 5zm9-1zm2 0zm2 1zm3 1zm-6 1zm2-6zm9-6zm3 2zm-1-6zm8 8zm2 0zm-2 7zm-7 0zm-2 3zm-8 15zm-14 1zm-3 1zm-6-1zm-1 1zm0 3zm-7 2zm-1 0zm1 5zm-5-14zm0-6zm-1 0zm2-2zm0-3zm-7 2zm-3 3zm-4-3zm3-2zm0-4zm0-8zm-4 1zm-1-3zm-5 10zm1 3zm10 11zm2 1zm1-2zm14 0zm10 0zm13 22zm24 11zm4 7zm-5 3zm2 2zm5 9zm5 11zm3 7zm-3 5zm-2 5zm-5 1zm2 9zm-1 10zm-1 3zm5-3zm5 2zm3-3zm2-1zm3-1zm-2 5zm-4 7zm2 3zm-7 2zm1-8zm-10 9zm-5-8zm-1-10zm-16 0zm0 8zm2 2zm5 9zm0 14zm-5 2zm0 6zm0 9zm-3 5zm2 2zm5 4zm4-1zm1-2zm3 2zm1-3zm2 8zm7 0zm-1-5zm11 1zm2-9zm-1-3zm-2-4zm-4-5zm-3-1zm-6 2zm-1-1zm-4 0zm-1 3zm2-8zm-27 6zm-3-1zm2-7zm-1-1zm-7 2zm-4 6zm-7-8zm-1-1zm-2 1zm-3-3zm-3-5zm4-6zm-2-5zm0-3zm4-6zm-5-4zm-2 2zm-5 5zm-4-9zm4-3zm2-5zm5-1zm-1-4zm1-3zm-5-4zm7-3zm0-6zm4 1zm3 0zm3 3zm1-6zm3 13zm-3 4zm0 4zm-2 2zm-3-1zm-3 2zm0 3zm4-1zm0 5zm5-4zm-7-9zm1-5zm16 0zm5-2zm1 3zm5 3zm2-3zm-4 10zm-3 0zm-2 2zm-8 17zm-5 0zm-2 2zm-1-3zm-2 0zm1 8zm2 2zm7 5zm4-3zm-10 7zm10 29zm5 2zm19 6zm33-9zm9-2zm-2-6zm-4-3zm7-8zm-1-7zm-3 0zm-3-6zm11-2zm2-2zm4-2zm1 2zm0 3zm-3 2zm-1 6zm5 8zm-5 4zm-3 1zm13-18zm0-3zm-7-15zm-2 0zm0-2zm-5 4zm-1 5zm-6-4zm6-12zm-5-2zm-5-3zm-2-4zm1-2zm-4-3zm-1 7zm-2 3zm14-4zm2-4zm5-3zm-2-7zm-4-7zm-7 1zm1 6zm-22-5zm-9 5zm-7-12zm-3-2zm-6 3zm-4 1zm2-6zm1-1zm-11-2zm-3-4zm-3 1zm56-33zm0-10zm5-3zm3-2zm3 0zm-1-3zm-2-1zm-2-1zm-1 2zm-1-5zm0-2zm-5 3zm0 3zm-2 1zm-3 1zm-3-2zm22-2zm1 3zm3 0zm5 4zm2 4zm4-1zm2 1zm2-4zm-19 2zm30-48zm-17-30zm28-10zm23-28zm17-51zm24 11zm-89-66zm-2-2zm-2-2zm0-4zm-3-4zm-2-2zm-3 0zm-2 4zm-2 0zm4 2zm-1 3zm2 1zm0 2zm0 2zm-8-2zm-1-5zm-1-7zm2-1zm-2-5zm-37 51zm-4 4zm-2-3zm3 7zm2 9zm-2 1zm-2 4zm3 4zm-1 2zm5 2zm-2-8zm1-2zm7 0zm3 9zm3 1zm-9 8zm4 3zm-3 29zm3 4zm1 2zm-5 3zm-4 2zm0 3zm-4 1zm-1-4zm4 9zm3 6zm-9 3zm4 6zm9-18zm5 0zm3-1zm2-1zm1-2zm-1-1zm4 1zm1 3zm6-2zm8 2zm-24-3zm-51 12zm0 1zm-8 7zm-2 2zm-35-12zm6-22zm5-2zm2 4zm1 1zm29 81zm18-6zm1-2zm0 4zm5 2zm7-16zm-116 48zm-4 1zm-5 1zm-6-4zm-2 4zm-2-11zm14 4zm-16 31zm-1 1zm2 0zm1 2zm-1 2zm-1 6zm-1 2zm-9-7zm-1-8zm3-1zm-1-2zm-6 1zm10-63zm1-2zm-5-3zm-1 2zm-5-6zm267 94zm34 33zm-38 59zm6 6zm-3 2zm6 6zm-1 2zm5 4zm42-186z"/><path stroke="#dfe3df" d="M794 1730zm4 2zm2 1zm0 5zm5 3zm1 0zm3-1zm4 3zm5 34zm-2 2zm7 1zm9 4zm-15 7zm-8 20zm-2 3zm-4 8zm13-1zm3 0zm0-5zm-2-3zm-16-6zm-3-2zm97-31zm3-1zm6-1zm4-1zm1-3zm0-3zm5 2zm2 0zm2 0zm4-1zm-1-4zm2-2zm4 0zm0-4zm1 10zm8-1zm4 0zm-1-3zm3 0zm-2 8zm-5 1zm10 0zm1 1zm1 4zm2 0zm-1 2zm2-5zm3 2zm-1-6zm6 0zm2-5zm0-4zm3-4zm3-2zm2-1zm2-1zm-4-2zm-1-2zm3-1zm5-1zm2 1zm2-1zm4-1zm2 5zm4 5zm-1 1zm4 5zm3-3zm0-2zm2-3zm-3-2zm8 1zm10 6zm8 12zm1 5zm0 2zm-1 2zm-7 4zm-2-4zm-6-5zm-3 0zm-5-2zm-3-2zm-5-3zm-4 0zm-1-2zm-6 0zm-1 7zm6-1zm1 6zm-2 4zm2 3zm-4 0zm-7-6zm-2 2zm-5-4zm2-2zm-1-2zm2 0zm-2-10zm1-3zm-9-7zm0-1zm0-3zm-4-1zm-1 2zm-2 1zm-5-6zm2-2zm9-5zm1-3zm4 1zm7 5zm-6 6zm-7 16zm-3-1zm2 21zm2 2zm4-2zm2 1zm-23 3zm-3 0zm-2 3zm-4 4zm-11-1zm0 0zm-1-2zm-3-3zm1-4zm3-3zm4 2zm-1 3zm2-10zm10 6zm-17 14zm-9-15zm-4 2zm-6-17zm1-1zm7-5zm10-1zm2 4zm0-16zm1-2zm-1-2zm-5 0zm-2 2zm3 2zm-8 1zm-3 1zm1-6zm-5-1zm-6-7zm4-3zm-2-4zm-3-5zm-5 0zm0 4zm2 3zm-4 2zm-2 2zm-3-15zm-4-5zm9-2zm-1-5zm-5-7zm-4-1zm-2 1zm6-5zm-3-3zm-1-2zm-2 1zm6-4zm4 2zm3 3zm2 3zm5-8zm5-6zm0-4zm2-3zm2-3zm1-4zm4-3zm-1-2zm4-4zm3 4zm10-1zm-8 14zm-2 3zm-3 0zm-4-2zm1 8zm5 0zm6 10zm-1 3zm-3 0zm-7-2zm-3-2zm-1 6zm-4 5zm-4-2zm2 14zm0 5zm10-5zm5-4zm3-2zm1 0zm2 1zm1 4zm1 5zm-3 0zm-2-1zm-7 5zm6 7zm-1 4zm-1 2zm-9-4zm16-6zm0-21zm2-3zm32 3zm5-3zm1-2zm1 0zm2-5zm-4-1zm9-4zm-2-3zm4-1zm2-2zm6-6zm2 1zm3 3zm2-1zm-4 7zm13-1zm4 3zm3 2zm32-5zm17 17zm9 5zm7-1zm2 14zm-1 3zm-15-5zm-12 9zm2 15zm13 27zm-5 6zm-1 26zm-28-8zm-5-1zm-8 1zm-2-1zm2-4zm-6-5zm-1-3zm-5-1zm-4 0zm-1 2zm2 1zm-5-6zm-19 33zm-1 1zm0 5zm2 5zm2 2zm3-5zm8 8zm3 7zm-9-1zm-3 13zm-1 4zm-1 2zm-1 0zm-5 1zm0-4zm1-3zm-5 1zm-2 0zm0-2zm0-4zm-7-1zm-7 3zm-2-5zm1-4zm-2 17zm-2 3zm4 1zm0 2zm5 0zm-1 5zm-4 3zm2 2zm-7 2zm0 7zm8 1zm0-2zm1 7zm-3 1zm11-3zm0-5zm2-2zm6 2zm6 3zm2 3zm2 5zm-6-1zm-2 0zm0-2zm3 10zm-7 1zm15 3zm2-2zm1-2zm2 4zm2-2zm4-4zm-1-2zm-3 0zm5-4zm1-6zm-5-1zm-2-4zm2-3zm1-1zm2-2zm-2-2zm2-1zm2-1zm-1-2zm-4 1zm-4-1zm-4-3zm7-2zm2 1zm3-1zm2-2zm0-2zm2-2zm1-3zm6 0zm1-1zm7 4zm-4 13zm5 5zm1 6zm2 7zm-8 1zm-3-1zm0 4zm0 8zm2 2zm6 0zm-2 7zm-1 6zm-2 4zm2 1zm-2 4zm7 0zm0-2zm4 2zm1-1zm2-2zm3-3zm-3 10zm-14 6zm-15 0zm-2 4zm-4 2zm-2-3zm-4 1zm0-3zm-8-5zm-3 0zm-2-1zm-6 0zm-3 6zm8 2zm-1 5zm-7 4zm1 2zm2 3zm-2 7zm1 1zm4 3zm7-10zm3 1zm-5-4zm13-3zm11-4zm0-20zm11-8zm13-6zm5-2zm-19-25zm-9-6zm4-4zm-1-8zm-13-6zm-13 15zm0 2zm2 3zm-11-12zm-4 4zm-2 2zm-19-9zm2-4zm-8 5zm-4 0zm-7-1zm0-2zm0 5zm-2 2zm3 1zm2 2zm4 1zm4 6zm3 1zm1-5zm-9 10zm-2 6zm-4-4zm4 10zm-3 5zm1 10zm4-1zm3-1zm2 6zm3 1zm-11-1zm-5 0zm8 12zm4 6zm2 1zm13-7zm2 5zm2 13zm5 1zm-5 5zm-2-1zm0-33zm14 2zm12-1zm4 3zm0 0zm7-11zm-48-14zm-5-2zm2 8zm-16-27zm-2 0zm-6-20zm20 1zm1-5zm0-4zm110-4zm47-54zm40-20zm10 14zm-23-70zm-15-6zm10-14zm-1-8zm-11-14zm16-13zm-50 34zm-87-13zm-8 5zm-8 6zm2-43zm1-4zm4-5zm-10-7zm8-9zm-2-6zm0-6zm0-5zm9 19zm2 3zm34-51zm-2-3zm-2-1zm7-2zm4-3zm-6-2zm-5-6zm-1-6zm-7 5zm1 6zm18 11zm1 6zm6-8zm-116 85zm-3-2zm-4 3zm-2-1zm-4 5zm-5 1zm-2 0zm-5 1zm-4 4zm-2-1zm-2-2zm3-4zm8-6zm-10 16zm-4 4zm10 0zm2 2zm2-3zm8 3zm-1 3zm-1 1zm0 2zm3-1zm2-3zm3-4zm2-7zm3-4zm-1-2zm2 0zm-16 24zm-3-2zm-8 0zm191 244zm2 11z"/><path stroke="#dde8dd" d="M876 1652zm8 0zm3 1zm-5 7zm-1 1zm-1-2zm-1 3zm6 3zm1 2zm5-1zm2-2zm-1-1zm1 7zm4 3zm-4 3zm1 4zm2 1zm-7-2zm-6 4zm4 4zm3 4zm4 3zm-2 3zm-3-1zm1 8zm2 2zm5-3zm5 1zm2-2zm2 1zm3 0zm0 4zm3 1zm3-4zm-1-2zm4-5zm2 2zm-12-3zm0-6zm-3-3zm0-4zm-1-3zm0-6zm-2-3zm3-4zm-6-2zm-3-10zm1-5zm7 4zm2-2zm15 6zm-1 5zm-1 1zm2 2zm-11 5zm6 8zm-18 18zm-9 15zm-7-5zm-4 2zm2 2zm-4 6zm9 3zm9 5zm0 7zm1 1zm-3-1zm9-1zm4 2zm4 0zm5-7zm-5-6zm3-2zm1-2zm-5 0zm-2 8zm-8-6zm-16 12zm4 9zm5 6zm2 1zm1 2zm5-2zm10 0zm11-3zm0-6zm3 20zm2 4zm-6 2zm-5 1zm-3-3zm0 0zm-1-2zm-9 3zm-1 5zm3 3zm-3 2zm-4 1zm2 6zm3 0zm1 3zm-3 0zm7-4zm3-2zm0-2zm2-2zm-2-3zm11 13zm3-3zm4 1zm1 5zm-4 1zm2 3zm-3 2zm-4-2zm-6-2zm6 12zm13-15zm2-1zm3 1zm-1-4zm3-5zm4-2zm-1-4zm0-2zm2 1zm1-2zm2-2zm2-1zm1-3zm3-1zm2-5zm-8 2zm-1-1zm-1 5zm-7-1zm-5 1zm-4 7zm1 8zm17-6zm9 1zm4 1zm0-5zm8 0zm0-11zm4 0zm4 2zm6 1zm1-6zm-1-3zm-4-5zm-4-1zm0 3zm-1-6zm-7-2zm-4 0zm-6 3zm-4 1zm0-8zm-10 11zm-1 5zm20-2zm5-1zm15 21zm6-4zm4-3zm4-3zm4-3zm6-1zm3 8zm4 1zm-6 5zm-2 4zm-7-2zm-1-3zm2-2zm-1-2zm5 0zm-11 7zm-2 7zm6 0zm1 2zm-6 9zm8 2zm4 3zm4 1zm-2-7zm6 0zm4 0zm2 2zm2 0zm3-2zm-8-3zm8-8zm-3-4zm-1 23zm-34-12zm-6-4zm-3 3zm-12-4zm-5 2zm-1 2zm2 1zm-6 0zm0-2zm0-2zm20 33zm-1 2zm5 11zm6 4zm-1 2zm-1 3zm3 4zm2 11zm2 1zm-5 2zm-5 1zm-2 13zm4 4zm7-2zm1-4zm6-2zm2 0zm-4-4zm10 1zm5-4zm1-2zm-5-4zm9 30zm-6 7zm5 5zm-4 3zm5 4zm4 7zm-1 4zm-4 1zm-2-3zm1-1zm-5-2zm-5-4zm0-3zm-1-4zm-7 1zm1 3zm-2 3zm-4-8zm2-6zm-4-5zm3-3zm4 2zm6 6zm-19-4zm0-3zm1-1zm-2 0zm-2 7zm0 4zm-2 3zm-2 4zm-8 2zm-7 7zm-1 0zm-9 8zm4 8zm2 1zm-7 0zm-10 4zm-4-2zm-10-7zm-5-11zm9-6zm1-4zm2-2zm4 3zm4 0zm1-2zm3 0zm-3-6zm7-2zm-2-5zm5-3zm0-4zm6 2zm1-8zm-3-1zm-10 3zm-8 2zm-5-1zm-2 4zm3 6zm-1 3zm-5-2zm-3-2zm-4-4zm-3 2zm-5-5zm3-3zm-2-6zm0 0zm9-12zm10-2zm4 1zm2-1zm2 1zm-1-8zm-1-3zm-2-2zm-4-1zm-3 6zm12-4zm1-3zm5 4zm10 4zm1-2zm4-1zm2 1zm5 1zm-1 3zm-5 2zm-3-2zm-7 6zm12 8zm2 3zm0 9zm-27 5zm-5-13zm-4-4zm-5 26zm-9 7zm26 42zm5 5zm4 1zm10-8zm2-2zm-2-1zm5-2zm0 4zm3 5zm4-3zm2 3zm2 6zm-3 1zm-12 6zm8-24zm6 1zm0-3zm-2-3zm-1-2zm-1-3zm3-1zm4 3zm1-1zm5 5zm-3 4zm13 5zm2 0zm6 0zm2-1zm1-10zm-1-3zm-4-9zm-7 7zm-11-8zm-2-7zm1-2zm-15 16zm-3 2zm-2 0zm61-6zm1-2zm43 16zm2 4zm2 3zm3 1zm-8-88zm13-41zm4-18zm-7-16zm-2-4zm-2-23zm8-1zm11-2zm-4-18zm2-2zm4-5zm-13-8zm-3 7zm-6-11zm9-5zm4-4zm5-22zm16-3zm6 3zm2-6zm-2-3zm7 19zm-10 13zm3 14zm-3 15zm-37 10zm-2 0zm-7-15zm-16 5zm-1 8zm15-43zm-9-14zm28-18zm22-38zm7 0zm-85-45zm-3 2zm0-9zm-3 0zm-13-11zm2-4zm-5-6zm-3 14zm-36 43zm-2-1zm-3-3zm6 15zm4-1zm7 9zm0 2zm-1 2zm-2 0zm-5-1zm-4 3zm-1-4zm-2 1zm-5 7zm12 5zm-1 4zm5-5zm6-4zm0-7zm-9 45zm-3 1zm2 9zm4-1zm1 4zm7-3zm4 1zm0 4zm10 2zm1-2zm15 16zm-41-8zm-7 4zm1-10zm13-16zm-88 3zm-5 3zm-4-3zm-5 3zm7 7zm2 8zm1 4zm-5 1zm-1-5zm19 68zm-57 21zm-5 0zm-4 1zm-2 0zm1 2zm-4-5zm0 12zm-2 24zm3 6zm-2 2zm-7-4zm-1 2zm-3-1zm-2-1zm-2 2zm1 2zm0-7zm-7-7zm-3-3zm19-60zm-4-3zm-4-4zm-4-2zm-7-2zm-1-2zm332 26zm9 59zm-2 33z"/><path stroke="#d8ead9" d="M796 1731zm5 3zm0 2zm12 11zm4 0zm2 32zm3 7zm-1 1zm-10 26zm5 6zm-5 4zm87-46zm9-12zm8 4zm-1 5zm1 2zm7 0zm-2-10zm12 0zm4 2zm4-7zm-11-3zm14-9zm5 2zm5 3zm-2 4zm6 0zm8-4zm11 1zm-2-8zm-7-4zm-7-3zm4 26zm4 3zm4 0zm0 2zm-2 3zm4 3zm1 7zm-13-4zm-11 4zm-1 2zm-1-6zm2-13zm32-5zm2 6zm4 5zm3 0zm7 5zm2 1zm2 11zm-2 4zm0 1zm11-5zm0-2zm3 4zm0 6zm4-13zm2 0zm-6-6zm-5-10zm-1-1zm1-5zm-6-5zm-7-6zm-9-3zm32-40zm5-19zm9-5zm9 0zm5 0zm0 3zm13 13zm5-22zm0-11zm8 2zm-2-16zm5-1zm6 1zm10-4zm5-1zm1 2zm-6 7zm14 15zm-1 11zm-9-4zm-5 3zm10 15zm-16 24zm-7 3zm6 7zm4 11zm0 1zm5 15zm-3 18zm0 4zm-2 15zm-13-2zm-12 0zm-7-8zm-6-9zm-3-9zm0-2zm15-3zm7-11zm0-11zm-1-14zm-18-2zm-5-7zm29 51zm-4 14zm-21 20zm8 30zm38-6zm18 23zm30 2zm-20-39zm27-14zm-19-22zm-6-61zm-28-87zm-3-8zm-17-2zm-1 7zm-63-68zm-2-3zm-2-2zm-5-5zm-7-4zm0 16zm4 7zm-45 25zm-1 4zm9 13zm-9 3zm11 10zm2 2zm-4 1zm-8 5zm-3 7zm10-2zm7 1zm-11 36zm8 4zm2 4zm3 6zm0 2zm-9-4zm-2 3zm-5 3zm2-8zm-5 21zm1 4zm-38 1zm-4-2zm-3 9zm1 1zm6 6zm-10 8zm-4 7zm1 2zm-3-3zm-1 7zm6 1zm9-4zm-28 2zm0-14zm2-6zm-9-14zm0-3zm3-5zm-1-3zm-1-3zm1-4zm3 3zm4 7zm4-1zm5-4zm-2-8zm6-4zm1-6zm8 7zm-1 2zm8-12zm-5-8zm3-8zm6 5zm4 0zm0-2zm1-2zm-20-5zm-16-8zm-4 10zm-1 6zm-4 4zm4 5zm3-4zm2 1zm0 11zm-9 6zm-2-7zm-1-3zm-6-6zm-3 6zm3 11zm2 24zm-2-53zm3-1zm113 34zm-75 94zm2 10zm3 0zm3 2zm3-1zm-4 6zm-3 0zm11 41zm-14 9zm-3 5zm6 10zm6-6zm5 6zm1 4zm2-7zm1-1zm0 15zm0 4zm2 1zm7 3zm3 5zm-4 1zm8 0zm3 2zm-7 7zm-4 5zm10 9zm4 5zm3-5zm3 4zm4 0zm-3 6zm11-6zm0-6zm13 2zm1 3zm-1 3zm-7 13zm8 2zm21-4zm0-14zm4-5zm3 4zm4-9zm4 3zm2-1zm-13-18zm-15-3zm-4 6zm-5 4zm1 5zm9-1zm-17-10zm-4-9zm-8 4zm-4 2zm-1 2zm-12-17zm-2-3zm9-4zm17-4zm15-7zm-4-10zm-2-8zm19 9zm-7 24zm-33-26zm-3 4zm8-29zm3-3zm4 2zm-49 62zm-3 6zm1 9zm-6 5zm-7-2zm-1-2zm2-12zm-5-4zm0-7zm18 32zm-6 9zm29 11zm-5 12zm-4 2zm9-1zm114-17zm2 3z"/><path stroke="#badfbf" d="M892 1661zm7-7zm16 7zm2 10zm2 7zm-27 11zm-8-18zm18 50zm0 3zm-6 12zm-2 8zm8-1zm14-6zm14-17zm15 29zm-3 2zm3 7zm-9-1zm-12 10zm-12 2zm50 4zm17 9zm9-24zm-4-10zm-17-3zm39 13zm-1 6zm9 7zm-1 3zm-4 1zm-2 1zm6 19zm43-24zm11-6zm-1-2zm7 2zm9 1zm4-1zm0 12zm-7-2zm-1 5zm5 17zm17 12zm15 8zm13-8zm13-11zm3-2zm2 3zm8-3zm-12-8zm-3-10zm-3 0zm-17 8zm-6 5zm-10-4zm-32-32zm-9-1zm-4-13zm5-9zm8 11zm16-6zm-5-14zm-1-2zm8-12zm5-4zm5-13zm-7-4zm-13 3zm-14-14zm5-5zm-6-3zm-6-2zm0 4zm9-9zm2 1zm16 8zm16-16zm6-1zm-1-6zm-11-9zm-5-1zm8-6zm4 1zm4-7zm-12-10zm-6 6zm-11-1zm0 19zm6 7zm27 27zm0 11zm6 10zm10 14zm1 4zm-4 5zm0 2zm-1 2zm-12-4zm-4 4zm-45-6zm0-8zm-3-6zm-6-1zm1 6zm-3 5zm-2 5zm-14 2zm3 9zm6 23zm-3-47zm-10 0zm2-12zm19 1zm-42-5zm-9 1zm-38 8zm5-68zm44-53zm2-5zm-17-7zm13-14zm-35 281zm25 30zm6 0zm-13 12zm-6 7zm21 4zm6-2zm4 10zm-8 22zm-13 5zm-5 10zm-23-16zm-17-1zm-4 17zm1 12zm5 1zm7 5zm-26-26zm-6 1zm2-24zm9-4zm5 1zm15-25zm-26-11zm-19 34zm121-38zm4 0zm70-16zm6 3zm4 4zm17-9zm-2-5zm8-10zm2-2zm21-8zm-12 54zm-80 71zm-262-127z"/><path stroke="#9cd3a5" d="M810 1745zm9 49zm87-102zm3-32zm66 22zm11 7zm20 4zm19 0zm3 1zm6 4zm5 1zm1 3zm10-3zm-4-6zm-8-3zm12-7zm13-14zm6 5zm5 5zm9 6zm2-5zm11 4zm0 4zm4 0zm4-3zm1-4zm-2 15zm-2 4zm4 3zm5 5zm0 11zm-9 0zm0-3zm-4 7zm2 2zm-4 2zm2 2zm-9-2zm-4 9zm-4-2zm-10 3zm-2-4zm-4 3zm5 11zm16-1zm6 4zm-7 6zm10 6zm0 9zm-11 5zm-6-7zm-5 6zm-7-5zm-5-3zm-8-10zm-14-25zm1-6zm-7-11zm-5-2zm23-4zm4 0zm-3 7zm12 2zm3 5zm1-10zm4-9zm-1-11zm-2 0zm15 18zm5 0zm-1-4zm7-4zm2 2zm3 2zm-1-12zm-5-3zm24 0zm1 0zm2 25zm5 0zm-44 0zm-3-51zm-3-2zm-1-8zm5-1zm1-7zm9-2zm0-3zm4 9zm2 2zm2 1zm3-6zm1-2zm-2 0zm-13 12zm4 7zm-10-31zm1-1zm-5-2zm13 0zm-6-13zm37 144zm21 16zm0 4zm-13 13zm0 4zm-2 8zm-6-3zm-2 8zm11 9zm11-2zm-10 18zm-10-4zm-5 0zm-10 14zm-6-7zm-4-9zm-9-10zm5-7zm6 0zm0-6zm-1-2zm13-6zm-14-12zm-15 3zm-2-1zm-1 8zm-4 1zm-11-8zm-20 37zm3 3zm-1 3zm7 1zm71 16zm10 2zm1 6zm5-12zm12 7zm0 12zm14-15zm-1-2zm3-7zm-8-7zm-1-30zm-2-9zm-159-22zm-6-26zm-36-9zm1 32zm14 44zm-12 124z"/><path stroke="#7ec68d" d="M965 1618zm49 75zm2 10zm0 14zm9-2zm3 0zm1 8zm0 4zm1 7zm11 11zm8-7zm3-7zm7-7zm2-1zm3-7zm-1-3zm7 0zm8-1zm4-2zm13-6zm5-2zm0-6zm-8-1zm3-10zm-2-7zm-1-8zm-7-1zm-1 3zm-10 6zm-4-1zm-5 7zm-4-3zm-9 10zm-4-4zm-8-4zm-1 4zm-6 4zm-3 4zm-1 2zm3-1zm1 5zm4 5zm8 1zm10-5zm1 3zm-1 11zm12-15zm4-11zm-8-23zm3-3zm1-2zm14-6zm4-4zm6 4zm1 4zm8-2zm1 7zm6-3zm5 4zm1 5zm4 17zm-4 7zm2 10zm6 2zm1-4zm3 8zm-4 2zm-3 5zm-7-5zm-5 3zm-2 2zm-3 11zm-10 11zm1 5zm2 2zm0 1zm-4 13zm3 3zm-7 4zm-6 4zm5 7zm-8 7zm6 4zm12 7zm-1 7zm14-2zm0-3zm9 1zm3 3zm-4 3zm1 2zm3 3zm4 8zm4 0zm4 0zm-3 18zm-9 0zm-2 6zm0 9zm-7 0zm13 10zm14 9zm3-13zm10-1zm2-12zm9-4zm-9-8zm13-13zm-10-16zm4-2zm-5-3zm-12-1zm-5-24zm0-4zm-11-3zm2-6zm-7-9zm-12 1zm-33-8zm-5 3zm-6 2zm-1-11zm-11 6zm-4 6zm-3 4zm5 4zm-6 4zm4 8zm11 0zm6 1zm7 7zm-12 3zm-3-4zm8 17zm2 6zm6 1zm13 20zm7 0zm4 5zm-6 8zm4 2zm4 0zm3-23zm-57 8zm-3 3zm-1 7zm30-70zm3 0zm29-56zm0-53zm-7-15zm-4-10zm-8-1zm1 5zm-6-1zm-2 5zm-2 0zm-2 12zm4-32zm4-1zm1 2zm17 7zm6 7zm-63 47z"/><path stroke="#62b876" d="M1083 1621zm-2 4zm2 2zm-1 1zm-2 0zm-3 5zm-3 7zm4 8zm2 3zm1 1zm8 4zm5 1zm9 2zm4-7zm7 10zm-3 6zm2 4zm-2 6zm-4 0zm-6 4zm-3 7zm-4 8zm10 0zm1 3zm2 2zm6-11zm13 20zm4 0zm-22 10zm-7 9zm-3 5zm-7 3zm-9-4zm-1-8zm6-4zm6 4zm0-10zm-29 10zm-16 5zm-7 3zm-3 3zm9 2zm-4 16zm5 10zm7 3zm8 1zm6-9zm6 0zm3 8zm0 6zm6 8zm6-5zm1-2zm2-7zm-5-6zm0-4zm23-6zm4 6zm13-4zm2 14zm4-1zm0 2zm3 11zm1 5zm2 2zm1 8zm-7 9zm-8-3zm-5 8zm0 1zm4 7zm-5 2zm-2 12zm6 4zm2 7zm-7-1zm-6 2zm-4 2zm-4-10zm-4-4zm2-2zm-6-7zm-4-5zm-4-4zm-4-4zm7-9zm3 0zm1-8zm3-3zm-8 1zm-3 0zm-8-1zm-6 6zm2 6zm-4 2zm-5-23zm-8 3zm-1-28zm7-6zm-15-34zm-3-10zm6-2zm4-7zm6 6zm-1 2zm4-8zm1-3zm3 0zm7-13zm11 3zm1 0zm1-13zm-1-3zm4 0zm-17-6zm-4 1zm-8 2zm1 6zm-2 2zm-7-7zm-6 2zm0 0zm-13 15zm-8 0zm-8 7zm1 11zm2 4zm2 6zm4 0zm7 6zm-7 15zm-26-27zm33-13zm8 4zm48-58zm-5-7zm-3 1zm12-10zm-1-6zm14 180zm2 3zm3 0zm-3 5zm-1 31zm9 15zm-1 5zm6 1zm1-5zm9-1zm9 8zm-4 5zm-7 1zm-8 1zm-12-8zm19-19zm24 6zm8 3zm-3 13zm-7 4zm-12 7zm27-48zm-3-8zm-3 1zm-1-10zm-11-3zm-107 25zm1 9z"/><path stroke="#45aa5e" d="M1000 1694zm12 20zm15-9zm5-2zm-1-3zm4 8zm7-1zm9 7zm6-2zm0 8zm6 0zm1 9zm-9 10zm-6 2zm-3-5zm-3 8zm4 6zm7 9zm11-1zm1-11zm1-2zm3-2zm8-13zm12 7zm3 5zm-7 14zm-2 17zm-7-2zm-9-2zm-8 7zm-5-2zm-3 9zm8 3zm10 17zm20 2zm3-2zm-6 11zm0 10zm1 3zm4 5zm4 4zm7 6zm1 3zm7 2zm6-2zm3 6zm4-1zm5-7zm0-3zm9-4zm1 5zm1 10zm-4 4zm9 3zm2 0zm1-5zm7 3zm-3 7zm-4 0zm-7 1zm-3 1zm0 1zm-2 4zm-13-11zm-6-2zm-3-4zm13-24zm7-9zm-2-7zm-1-1zm-1-11zm0-6zm-7 6zm-8 12zm-1 6zm-6-11zm-3 1zm1-7zm-9 15zm-15-32zm32-29zm7 4zm14-3zm-8 17zm13 7zm8 16zm16 11zm2 14zm-10 17zm2 2zm-2 4zm8 10zm-10 13zm-102-37zm-4 4zm1 2zm-2-13zm-17-95zm30-25zm10-7zm-2-13zm-6-6zm5-7zm0-6zm6-4zm2 5zm5 1zm0-10zm4-1zm12 1zm7-10zm5 3zm-4-9zm2-2zm-7-11zm-13-14zm1 30zm26 24zm0 11zm-6 4zm-4-2zm-4 9zm-2 2zm4 12zm7-3zm4 6zm5 12zm7-5zm-27 3zm-2 7zm3 3zm-14-20zm29-20zm-61-9zm-4 2zm-6 2zm1 6zm7 0z"/><path stroke="#289c47" d="M996 1553zm86 66zm5 11zm0 6zm-1 6zm2 7zm2 0zm-2 12zm-8 0zm-2-3zm-2-3zm-2 4zm-9 1zm-10 8zm1 2zm-8 7zm-4 13zm-8-2zm0 10zm-6 15zm-4 7zm3 4zm3-2zm14-2zm-1 9zm15 3zm-3-14zm0-1zm-8-8zm11-11zm7 10zm1 1zm8 3zm-2 12zm14 6zm2-9zm3-7zm8 2zm13 1zm3-1zm1-2zm6 8zm4-17zm-16-9zm-11-2zm-8-4zm7-5zm9-7zm-19-5zm-2-2zm-25 9zm40-36zm-2-8zm-6-18zm1-1zm3-2zm-92 95zm-16 41zm1 16zm12 1zm40-17zm8-1zm2-1zm1 6zm5 14zm9-5zm4 0zm5 1zm5-3zm6 5zm0 6zm4 0zm-4 7zm9 10zm-1 13zm5 5zm2-6zm12 12zm11-2zm-1-4zm19-13zm4 0zm-10-12zm-4 1zm-2-12zm-8-14zm-4-3zm-27-3zm-9-3zm-2-4zm-4-1zm15-4zm-45 34zm18 23zm16 5zm3 17zm-2 5zm4 6zm3 0zm1-5zm3-7zm3 0zm0 2zm2 5zm4 1zm3 1zm1 8zm1 6zm-2 1zm-1 8zm10 1zm0 3zm-1-9zm2-3zm5-3zm-3-7zm8 14zm0 2zm1 5zm-2 4zm3 3zm2 3zm1 2zm7 4zm2-3zm4 0zm6-7zm6 0zm4-6zm-3-5zm0-2zm-4 1zm-6-4zm6-8zm5 5zm6 8zm1-23zm2-1zm-3-6zm3-2zm-7-5zm-28 33zm1 10zm-78-23zm-5 3zm-9-10zm-35 38zm-16-13zm-27 1zm7 26zm-37 17zm20 28zm-45-60zm11-101zm-10-25zm44 10zm-50-77zm3-3z"/><path stroke="#249445" d="M1002 1691zm33 15zm14-2zm3 8zm6 0zm8-8zm-2-2zm4-2zm1 8zm3 18zm0 8zm3 5zm0 7zm2 10zm-15 10zm-9 14zm6 10zm29 17zm10 5zm4 9zm-1 2zm-1 0zm1 5zm7-3zm2 2zm1-1zm3 1zm-1 9zm4 1zm10 2zm3-4zm3 5zm-3 10zm8 4zm4-4zm4 3zm0 7zm-3 4zm0 3zm7-3zm2 5zm3-9zm1-11zm5-4zm0-2zm-1-2zm1-2zm-2-2zm-6-1zm13 18zm-34 7zm-12-3zm-10-8zm-17-23zm0-4zm-3 1zm0-5zm9-18zm8-4zm1-6zm-9 1zm22 6zm3-3zm6 12zm-7 2zm0 6zm25-16zm9 3zm4 5zm2 5zm-30-31zm-2-6zm-13-13zm-3-10zm-20-14zm-8 1zm-37 4zm-1 3zm-4 1zm-1 6zm-11-28zm-6-7zm26-36zm22-5zm9-2zm6 4zm10-3zm2 0zm6-1zm9 21zm1 1zm0 9zm-39-44zm-6-10zm12-5zm-3-15zm-6-2zm19-3zm8-8zm-11-5zm-35 214zm-9-1zm-11-2z"/><path stroke="#218b42" d="M1095 1624zm-11 25zm4 8zm15 1zm-2 33zm-30-4zm-13-8zm-19 17zm4 33zm4 16zm13 3zm-6 25zm2 13zm15 10zm-1 2zm10-16zm7-8zm6-18zm-1 40zm8 19zm-2 9zm-6 5zm10 5zm5-1zm1-2zm2 1zm4 6zm8-2zm0 5zm2 6zm12 6zm1 5zm2 2zm3 0zm1-5zm4 0zm5-2zm2-1zm7-3zm2-6zm-13-1zm13 15zm0 4zm-6 0zm-1 2zm-16 9zm-13-9zm5-5zm-20-4zm-11-9zm-2-2zm4-3zm2-1zm6-26zm2-2zm10-5zm13 16zm23-13zm9 11zm1 8zm-33-54zm-16-54zm-67 117z"/><path stroke="#1d8340" d="M1065 1690zm-12 20zm30 33zm-13 30zm25 38zm-1 8zm6 1zm3-15zm7 3zm10 10zm4-6zm-11 19zm-9 6zm4 12zm8 0zm5-4zm2 1zm6 2zm3 0zm3-3zm-4-3zm-7-3zm0 15zm-2 3zm7 8zm6 0zm9 8zm8-8zm1-7zm-3-6zm4-10zm0-2zm14-8zm-7 23zm-17-28zm1-30zm-11-19zm-12-14zm-6-4zm-3-76zm-2-14zm-19 11z"/><path stroke="#1c7a3d" d="M1012 1687zm34 1zm-10 43zm44 21zm29 53zm10 2zm6 2zm-18 13zm-11 2zm-5-2zm9 11zm28 24zm2 0zm3-1zm2 1zm4-1zm13-14zm-4-6zm-3 1zm15 10zm-1 14zm2 1zm-17-80zm-89 48z"/><path stroke="#1a713a" d="M1047 1715zm77 50zm-17 48zm-4 3zm0 7zm-12 4zm56 15zm11 15zm12-26z"/><path stroke="#196836" d="M1106 1829zm1 9zm13 5z"/><path stroke="#175f33" d="M1092 1821zm38 34zm3 13z"/></g>
<path d="M772.8 1522.1V1975.6H1190.7" fill="none" stroke="#000" stroke-width="1.6"/><path d="M787.8 1975.6v5.5" stroke="#000" stroke-width="1.6"/><text x="770.1" y="2001.5" font-size="24" fill="#000">−50</text><path d="M892.87 1975.6v5.5" stroke="#000" stroke-width="1.6"/><text x="875.4" y="2001.5" font-size="24" fill="#000">−25</text><path d="M997.94 1975.6v5.5" stroke="#000" stroke-width="1.6"/><text x="991.9" y="2001.5" font-size="24" fill="#000">0</text><path d="M1103.01 1975.6v5.5" stroke="#000" stroke-width="1.6"/><text x="1091.4" y="2001.5" font-size="24" fill="#000">25</text><path d="M772.8 1533.9h-5.5" stroke="#000" stroke-width="1.6"/><text x="737.7" y="1542.5" font-size="24" fill="#000">50</text><path d="M772.8 1650.67h-5.5" stroke="#000" stroke-width="1.6"/><text x="737.9" y="1659.3" font-size="24" fill="#000">25</text><path d="M772.8 1767.44h-5.5" stroke="#000" stroke-width="1.6"/><text x="751.1" y="1776.0" font-size="24" fill="#000">0</text><path d="M772.8 1884.21h-5.5" stroke="#000" stroke-width="1.6"/><text x="724.0" y="1892.8" font-size="24" fill="#000">−25</text><text x="948.2" y="2038.6" font-size="24" fill="#000">tSNE1</text><text transform="translate(714.9 1751.2) rotate(-90)" font-size="24.6" fill="#000" x="-35.2">tSNE2</text>
<g stroke-width="3.6" stroke-linecap="round" fill="none"><path stroke="#d6d6d6" d="M1537 1077zm2 1zm-1 2zm1 2zm2 0zm2-2zm1 1zm0 2zm-1 2zm4 1zm-1 2zm2 0zm2-2zm2 1zm0 2zm2 1zm-1 2zm3 2zm2-1zm2 1zm-2 29zm1 3zm2-2zm1 2zm2 0zm2 1zm1 2zm2 0zm-1 2zm0 3zm-3-1zm-1 1zm-4 0zm0 4zm2 3zm2-3zm-2-8zm10-3zm1 1zm2 3zm2 1zm-4 1zm5-5zm-18 32zm-2 1zm-1-2zm-1-1zm-2-1zm-2 1zm2 2zm-4 1zm-1 2zm-3 1zm4 2zm2 1zm3 1zm1 1zm-1 2zm-1-1zm2-4zm3 0zm0 2zm3 0zm1 2zm-1-7zm0-1zm-5 1zm-9 5zm-2 1zm3 1zm-4-14zm-1-2zm-2 2zm-1-2zm0-2zm-2 1zm9 2zm90-34zm1-1zm2 0zm1-1zm1 0zm-2-3zm2-2zm-2-2zm1-1zm2-2zm3 0zm-1-3zm3 0zm2 2zm2-2zm1 2zm0 0zm2 0zm0-3zm3 0zm3-3zm4 2zm4-1zm0-2zm3 0zm2 2zm0 3zm1 1zm3-3zm2 0zm0 2zm2 2zm-1 1zm3 0zm0 0zm-1-3zm4-1zm0 2zm2 2zm0 2zm2-1zm3 0zm-1 3zm-2 0zm1 3zm2 0zm4-1zm0 2zm-1 2zm2 3zm2 0zm3 1zm2 0zm-2 2zm0 2zm0 3zm2 0zm3-1zm2-2zm2-2zm-1-2zm0-2zm2-3zm0-2zm-1-1zm-3 1zm0-3zm-4 2zm-2 3zm-2 0zm-2-2zm2-3zm0-6zm1-3zm2-1zm2-2zm1 0zm2-1zm2-1zm3-1zm2-1zm0-3zm-1 0zm0-1zm-1 0zm-1-3zm2 0zm-1-3zm-5 0zm0 2zm-1 1zm0 2zm-1 2zm-1 1zm1 2zm2-3zm-6-1zm-1 2zm-2 3zm-2 0zm0 1zm-2 2zm-2 0zm0 2zm1 2zm-1 1zm-2-1zm-1 2zm-3-4zm-1-1zm-3-2zm-1-2zm-1-1zm4-1zm3 2zm2-1zm2-1zm1-2zm1-2zm-3-1zm1-2zm2-2zm2 1zm1 2zm3-3zm-4-3zm1-3zm4 1zm5 3zm12 6zm-1 2zm4-1zm1 4zm1 1zm0 2zm1-4zm2 0zm2 1zm3 2zm1 0zm1 1zm2-1zm0 2zm2-1zm1 5zm-3 1zm-2 0zm0-2zm-2 2zm-2-2zm-2-1zm-1 1zm2 2zm0 5zm-1 1zm-2 1zm-2-1zm-1 1zm1 2zm-2 1zm0 3zm3 0zm1 1zm0-4zm2-1zm3-2zm2 2zm0 3zm-1 0zm1 3zm-3 0zm0 4zm-2 1zm1 3zm2 2zm1-2zm2-1zm0-2zm2 3zm0 2zm-1 2zm-2-1zm-4 0zm-2 1zm-3-2zm-1 1zm-2 0zm-2 0zm1-2zm1-1zm-1-3zm3-1zm1-1zm-8-4zm-8 0zm-2 0zm1 2zm-4-1zm-4 6zm-1 1zm-1 2zm-2 0zm-2-1zm0-2zm1-2zm-4-1zm-2 0zm-1-2zm0-2zm1-3zm-3-1zm1-2zm-3 1zm0 2zm-2 1zm0 3zm-1 2zm4-2zm1 2zm4 3zm1 2zm3 3zm-1 1zm-1 2zm4 0zm4-3zm2 1zm6-5zm8 1zm0 2zm16 6zm4 2zm3-2zm1 2zm2-2zm-1-3zm2 0zm2 0zm-1-3zm-2 0zm1-3zm-2-1zm4 0zm3 2zm3-1zm3-1zm2 2zm0 1zm1-2zm3 0zm1-2zm0-2zm2 1zm-3-4zm0-2zm-3-1zm-1 2zm-1 3zm1 2zm2-2zm-7 1zm-2 1zm0-4zm-2-2zm-1-2zm2 0zm3 0zm1 1zm1-3zm-1-2zm0-1zm2 0zm0-1zm-3-2zm-1 2zm-3 2zm-3-1zm-1-2zm-1-1zm-3 3zm2 3zm-2 4zm-2 2zm1 3zm4-1zm3 0zm1-2zm11-6zm-5-8zm-4 0zm0-2zm-1-2zm-1 4zm-21 4zm-1-4zm-6-1zm0-2zm-4 0zm-1 6zm2 0zm-7-2zm-2 0zm-1-6zm-6 2zm0 3zm-2 4zm-5-7zm0-9zm-3-4zm-5 3zm-4 2zm-1 2zm-3 4zm-7 7zm-2 1zm-5-1zm-2 2zm1 1zm-1 4zm-2 0zm-2 0zm1 2zm-3 0zm-3 0zm0-1zm-1 3zm0 2zm1 1zm0 2zm0 2zm-1 2zm-2-2zm-1-3zm-1-3zm-1-2zm4-5zm5-1zm2 0zm8 2zm2 1zm-1 2zm-4 4zm3 3zm-4 2zm-1 0zm-2-2zm-1-2zm-2 1zm-1-3zm1 10zm-1 2zm-2-1zm-5-1zm-2 0zm-3 0zm-1-5zm16 7zm2-1zm2 1zm2-2zm-1-2zm4 2zm-1 3zm2 1zm2 3zm-3 2zm-1 2zm0 3zm1 2zm-2 3zm-2-2zm-1 2zm-1-6zm-1-1zm3 0zm0-2zm0 0zm-1-2zm1-1zm-4-2zm-2 0zm15-2zm3 2zm-1 1zm0 3zm0 2zm4-4zm3-1zm-1-2zm1-2zm-1-2zm0-2zm-2 1zm0 2zm-2 1zm-5-4zm1-3zm2-2zm0-2zm1-2zm0-2zm2-1zm-1-2zm-3 1zm-1-1zm1-1zm7 0zm0 3zm-1 3zm-2 0zm0 6zm6 9zm1 1zm10-14zm-10-8zm17-17zm-7-11zm2-3zm-22-14zm-10-1zm0-2zm-1-3zm-4 0zm-2 2zm-2 0zm-1-1zm-2 1zm-1-1zm-3 3zm-2 0zm0-2zm-4 2zm-1 2zm3 2zm2-1zm2-1zm2 0zm2 3zm-2 1zm-4 0zm-5 0zm-3 1zm1 2zm-4-1zm-2-2zm-2 2zm0 2zm2 1zm3 1zm0 2zm2 0zm1 1zm2-2zm4 0zm2 1zm0 2zm2-1zm4 0zm1 2zm2 1zm1-2zm-1-3zm2-1zm0-4zm3-4zm0-3zm-2-1zm-3 0zm0-7zm0-3zm1-2zm-2-1zm-2-2zm-3 0zm-2-1zm-2 2zm-1-2zm-2 1zm-2 0zm-3 0zm-1 1zm-1 2zm-2-2zm-1-4zm0-4zm-1-2zm2-1zm0-2zm-1-2zm0-2zm-2 0zm-4 1zm-1 2zm-2 1zm-1-1zm-1 2zm-2-1zm0 2zm-3-1zm0-2zm2-1zm0-1zm-2-2zm-1-3zm-2 0zm-1-2zm0-4zm1-2zm2 2zm2 1zm0-4zm4 3zm1-2zm1 3zm2 0zm3 2zm-2 3zm-1 2zm-3 1zm2 6zm0 2zm-2 0zm3 3zm2-2zm2-4zm6-2zm1-3zm-2-1zm4 0zm1 2zm0-6zm2-1zm0-4zm-1-3zm-2-2zm0-2zm-4-1zm0-2zm-2 1zm-2 2zm-1 2zm-2 0zm-2 0zm-3 0zm-2-2zm-4 0zm-2-4zm1-4zm2 1zm2 0zm3 0zm2-1zm1-1zm-2-1zm1-1zm2-1zm2 0zm2-1zm0-3zm-3-1zm-1 1zm-2-4zm-3 2zm-2 1zm2 2zm-2 2zm2 2zm-5-1zm-3 2zm-3 4zm0 6zm15-3zm3-1zm1 2zm3 4zm0 2zm-1 1zm-1 1zm0 2zm3-1zm0-2zm2-1zm1 3zm-2 3zm3 1zm8 3zm3 0zm1-1zm-2-2zm2-5zm-2-1zm-3 1zm-1-2zm2-3zm2-2zm1-1zm-2-1zm-4 1zm0-2zm1-3zm2 0zm2-2zm2 1zm1 2zm0 2zm4-2zm2-2zm2 0zm1 1zm-1 3zm-2 1zm6-2zm1-1zm2 0zm2 1zm2-1zm0-2zm1-2zm-4 1zm-2-2zm-3 0zm-2 0zm-3 0zm0-2zm-3 1zm-1 3zm-3-4zm1-2zm-1-2zm-2 2zm-1-3zm-2 2zm-2 1zm0 2zm2 0zm-1 2zm-3 4zm-4 2zm-1-1zm0-2zm-4 0zm-4 0zm6-5zm4 1zm2-5zm-2-1zm3-1zm3-1zm-6-2zm-3-1zm-2 1zm-3 0zm0 2zm-3 25zm11 20zm2-1zm2 2zm0 2zm4 3zm1-2zm4 2zm1-4zm-1-2zm1-2zm-2 0zm-2 0zm4-2zm1-2zm1-2zm-2 0zm-3 1zm6 2zm2-1zm3-1zm3-4zm-1-3zm1-2zm-3 1zm-3-2zm1-1zm1-2zm3 0zm-1-3zm4-5zm-13 5zm2 6zm2 6zm-1 1zm4 8zm3 1zm-1 3zm1 1zm-3 1zm-1-2zm-4 1zm1 2zm3 3zm-1 1zm2 1zm1-3zm2 0zm1 2zm0 2zm0 3zm-2 0zm-1 1zm-1 0zm-6-2zm-6 4zm-4-4zm-2 8zm-5 5zm0 2zm-5 0zm-2-2zm-2-4zm-3 2zm-4-1zm1-6zm-2-1zm1-4zm0-2zm2-2zm2 1zm0 2zm2 2zm-2 1zm0 3zm5 0zm2-2zm2 3zm-5-6zm-1-3zm0-3zm-4-1zm-4-1zm-1-1zm-1 2zm19-2zm1 2zm28 3zm-2 24zm-1 7zm-1 3zm-1 1zm-1 3zm-2 2zm-1-1zm-1 3zm-2 2zm0 3zm3-2zm2-1zm4 0zm1-2zm1-1zm-2-1zm2-2zm0-3zm-12 6zm-2 4zm-3 1zm-4-2zm1-3zm2 0zm-3-2zm1-4zm1-1zm2 1zm1 2zm2-2zm-10-1zm-3 3zm-1 4zm2 1zm-1 2zm-2-1zm3 3zm-7-6zm-1-3zm-3-6zm-1-3zm10 30zm57 44zm19 7zm4 1zm-1 2zm-2 2zm-2 1zm2 3zm0 2zm2 2zm3 3zm2-2zm1-3zm-1-3zm-2 0zm-2-2zm10 10zm0 2zm-1 2zm-1 3zm-1 2zm-3-3zm-2-2zm9 7zm4 8zm-3 1zm1 2zm2 1zm4-1zm2 2zm-2 2zm0 2zm0 1zm0 2zm-2-1zm-3 1zm-2 1zm1 4zm2 1zm1 1zm2-1zm-1-2zm3 4zm-4 2zm-2 0zm0-2zm0 4zm-1 1zm-2 3zm-4 0zm0-4zm-2-5zm-1-2zm-1 3zm-7 0zm-5-2zm-2-3zm-2-2zm-4 4zm-2 2zm-2-3zm-3 0zm1 3zm-3 2zm-2-2zm0-3zm0-5zm0-2zm-4-1zm2-3zm5-3zm4-1zm2-2zm1-2zm3 1zm2 1zm1 1zm-1 1zm0 2zm2 0zm0-2zm3 0zm0-2zm1-1zm1 2zm-1 3zm-1 1zm6 2zm1 0zm1-2zm1-4zm3 7zm1 0zm4-2zm1 1zm-5 7zm5 5zm9 9zm1 0zm3-2zm2 0zm0 4zm3 0zm2 3zm-1 4zm3 1zm1 3zm2-2zm0-4zm4-1zm1 3zm1 0zm0 5zm0 2zm2 0zm2 3zm-5-1zm-6 3zm1 2zm-4 0zm-2-2zm0-2zm-3 1zm1 4zm0 3zm-1 2zm0 3zm0 4zm3-1zm3 3zm0 2zm2 1zm3 0zm2 2zm-3 1zm-3 1zm-1 0zm-1 3zm1 7zm-2 1zm0 2zm-2 1zm4 3zm4-4zm1-6zm3-1zm5-4zm-2-2zm1-1zm-1-1zm3-1zm3-3zm-1-1zm1-2zm2 1zm2-1zm-3-2zm-3 0zm-3-3zm-1 1zm-2 1zm1 3zm-2 3zm-4-5zm1-1zm0-3zm-2 0zm-3 1zm2 5zm5-8zm0-3zm4 1zm1 2zm-2 1zm5-2zm3 4zm-21-18zm-4 0zm0 2zm-4 6zm-2 2zm1 1zm-3 6zm-5-5zm-2-1zm2-2zm2-3zm2-1zm-1-2zm-2 1zm-1-1zm-3 3zm-1 1zm-1 2zm-2 2zm2 2zm-1 2zm3 2zm-1 5zm-7 4zm1 2zm0 0zm-2 2zm1 2zm-1 3zm-1 1zm-1-2zm-2 1zm-1 3zm-1 0zm3 0zm-2 3zm-4 2zm0 2zm0 2zm-1 3zm2 3zm2-1zm2 0zm-1 3zm-1 2zm-3-2zm-4 1zm-2-2zm-2 0zm1 2zm-3 0zm-2-3zm-2 0zm-3-1zm-2 0zm-1 2zm-3 0zm-2-2zm1-2zm5 7zm2 1zm2-2zm4-6zm2 2zm4-4zm-3-3zm0-2zm-6-3zm-2 3zm-3-4zm1-3zm-3 0zm0-2zm-1-6zm-1-1zm4-3zm2 3zm5-1zm0 2zm4 5zm-1 2zm1 1zm-3 0zm-2-1zm8-7zm0-2zm2 2zm1 3zm0 1zm4 0zm-1-3zm4-2zm2-2zm-1 6zm7 2zm1-1zm2 2zm3 1zm0 2zm-3 4zm2 4zm-2 2zm-2-1zm-4-4zm-3 7zm2 3zm4 3zm3-1zm-2 6zm-3-2zm-3 1zm-1 1zm1 1zm-3-1zm-6 0zm-2 1zm-2-2zm1 6zm-2 2zm-1-1zm5 4zm26-14zm3-6zm-3-1zm2-2zm-2-1zm1-2zm1-2zm2 1zm1 3zm2 0zm-8-6zm0-6zm1-3zm-1-3zm4 2zm1 0zm5 3zm-13 15zm-21-10zm-6-19zm4-5zm3-2zm-1-4zm2-3zm1-2zm1-4zm0-2zm2 2zm1 2zm5-1zm3 1zm1-3zm-1-1zm1-1zm1-4zm-2 0zm-5 3zm-3 0zm1-3zm1-2zm-1-5zm-6 4zm-1-2zm-5 0zm-2 2zm-3 2zm-1-3zm-2-3zm-3 1zm0 3zm0 0zm0 2zm0 2zm1 3zm-3 1zm-3-1zm0 3zm2 2zm1 3zm-4 1zm-2 3zm1 1zm-3 0zm-1 2zm-4 0zm2-4zm0-2zm-1-2zm4 0zm-2-7zm-2-5zm0-4zm-2-1zm-1-2zm-2 1zm0 1zm0 3zm-2 1zm-3 1zm0-3zm2-3zm2-2zm2-3zm2-1zm1-2zm1-1zm0-3zm1-3zm2-4zm0 0zm-2-1zm-2 1zm-4-1zm-2-2zm0 5zm2 3zm-1 4zm3 0zm-3 4zm5 2zm7 2zm2 2zm3 1zm-2 2zm-3 2zm-10 6zm-2-1zm1 4zm0 2zm-4 0zm-2 0zm-1 2zm3 1zm5 1zm-1 3zm-2 2zm-1 0zm0 2zm0 2zm2 0zm-1 2zm-3 1zm-4 1zm0-3zm-2-2zm-5 0zm-1-2zm2-3zm1-1zm1 1zm0-3zm3 3zm1-9zm2-2zm2 0zm-6-4zm-1-2zm3-2zm0-3zm3-2zm-1-4zm-1-2zm-2-2zm-1-3zm-2 2zm2-5zm0-2zm1-1zm-2-3zm-1 1zm-3 5zm-3 3zm0 2zm0 4zm4 1zm-1 2zm2 0zm0 2zm-3 1zm-2 0zm-1 3zm0 0zm-1 2zm1 5zm4 2zm1 2zm1-4zm-1-2zm-6 9zm6 17zm3 1zm-1 2zm1 2zm3 3zm1 2zm2-2zm-2-5zm6-2zm2 2zm0 1zm3 0zm3-4zm4-3zm3 3zm4-5zm4-9zm3 2zm3-2zm-2-2zm0-8zm1-12zm-3-1zm-2-11zm0-4zm7-6zm2-5zm1-1zm1 2zm-8-3zm-3 2zm-4 1zm-2-5zm1-4zm-6 3zm1 2zm-2 1zm-3 1zm1 3zm-6-2zm-2-2zm1-2zm5-2zm3-1zm-9 9zm-2 0zm-1 16zm-2 1zm-4 5zm20-5zm29-3zm18 20zm2 0zm-1 2zm-2 1zm-2 3zm5 2zm1 0zm1-1zm1-2zm2-1zm-1-2zm-1-1zm-1-3zm6 5zm8-9zm2-4zm-1-4zm1-3zm2 1zm1-4zm-2-3zm1-2zm1-2zm-4 0zm0-4zm-3 0zm-1 1zm-3 4zm-3-4zm0 9zm1 5zm4-1zm2-2zm9 6zm-1 4zm1 6zm25-20zm4 0zm-2-19zm18-6zm1 1zm9-2zm-2 16zm36 17zm-34 60zm-2 0zm-2-1zm3 4zm1 0zm2 2zm-1 2zm-2 0zm4 3zm-1 1zm3 2zm1-2zm-2 4zm4 0zm1 4zm-101-49zm-4 1zm2 3zm-38 19zm-4 6zm2 3zm-2 3zm-2-1zm-4-6zm12 6zm-29-78zm83-45zm0-10zm8-9zm6 6zm-1 1zm0 2zm-1 1zm0 1zm4-1zm1 0zm1 1zm0-5zm4-1zm1-1zm0 2zm1 3zm0 2zm2-1zm0-2zm2 0zm0 3zm3 0zm-5 3zm1-9zm2 0zm3 0zm0-2zm0-2zm-2 0zm-5 2zm-1-3zm-3 3zm40 16zm-18-60zm-17-30zm-10-12zm-5-9zm0-3zm-3 1zm-1-4zm-6-1zm-4 4zm-4-3zm-2 2zm-1-3zm-2 0zm1-2zm-1-1zm-2 0zm0-2zm2-2zm2 3zm2 2zm1-1zm2-1zm-11 5zm-1 1zm-1-3zm-2 2zm-2 1zm0 3zm-3 3zm-2 2zm1 1zm-1 1zm-2 3zm-1 0zm-1 2zm-4 1zm-1 2zm2 2zm-1-8zm3-2zm1-3zm-1-4zm3 0zm-2-3zm-1-2zm0-2zm-1-2zm3 1zm2-1zm2-1zm2-3zm2 2zm1-3zm2 0zm-1-2zm2-3zm2 1zm-7-2zm-2 0zm-3 1zm-1 1zm1 12zm1 3zm6-4zm2-3zm-1-39zm-4-3zm-2-1zm1-2zm3 1zm4 0zm2-4zm1-2zm-3-1zm-1-3zm1-2zm0-2zm0-2zm-2-3zm-4 1zm-3-3zm-2-1zm-1 3zm-2 1zm-2 4zm-1 2zm2 1zm2-1zm2-2zm1-2zm2 5zm2 0zm2-3zm0 7zm-5 1zm-3-2zm-2 0zm0 2zm-6 2zm3 5zm5 3zm3 1zm-2-5zm4-23zm1-4zm-5 0zm-3-1zm-1-4zm1-2zm2 1zm1 0zm0-3zm0-2zm-4-2zm-2 3zm0 2zm3-9zm-1 20zm46-45zm1-1zm2 3zm2-2zm1-4zm-2-2zm5-4zm1-2zm-3 0zm5 3zm0 7zm2 2zm1 0zm-4 7zm-15-14zm-3 0zm2-5zm-1-2zm-3-2zm4-2zm1-3zm2 0zm-2-2zm7 4zm-2 4zm-2 0zm0 4z"/><path stroke="#a8d5dd" d="M1616 1002zm8 13zm8 11zm8-1zm6-1zm-1-6zm8 0zm0-4zm-3 16zm14 12zm0 1zm-12 24zm-2 10zm4 8zm-7 4zm-11-8zm-8-3zm-7-22zm-2-25zm20-29zm62-29zm15 62zm16-1zm0 3zm45 29zm17 6zm33 11zm34-22zm-19-24zm-11-7zm-20 10zm47-11zm-20-55zm3-8zm27 139zm13 27zm25 27zm-60 30zm-23-53zm-26-18zm-35 22zm-13-8zm-11-8zm1-10zm2-2zm-7-4zm-1 0zm4-6zm5 0zm7 6zm-23 25zm-27-2zm-3-9zm-1-1zm1-7zm-1-6zm-5-1zm8-12zm7-10zm6 17zm-3 7zm-41 3zm-4 1zm-6-7zm-6 10zm15 10zm9 60zm-12 12zm-4 5zm-2 7zm10 2zm-4 16zm16-3zm-6 17zm0 3zm-9 14zm0 5zm7 5zm6-1zm5 0zm5 20zm29-16zm0-3zm-4-6zm8 13zm-2-30zm0-10zm3-10zm13-10zm2-7zm-12 0zm21-13zm-17-15zm-29 46zm32 18zm2 2zm19-4zm9 26zm-115-43zm-81-58zm-18-15zm4-62zm5-1z"/><path stroke="#fcdcb9" d="M1546 1084zm3 4zm6 71zm86-33zm3 0zm8-14zm7 0zm5-3zm2-2zm6-2zm4 4zm7 5zm4-3zm1 7zm6-4zm9-3zm4 2zm12-1zm-3 10zm1 2zm2 1zm1 1zm-2 5zm-15-2zm-25-6zm-9 6zm-2-7zm2-6zm12-18zm5-2zm2-5zm8-1zm37 6zm10 3zm5 24zm6 7zm-7 4zm-8-8zm-29 33zm5 13zm13 13zm2 16zm11 4zm-3 7zm1 4zm-3 17zm-4 7zm-14-8zm-16-15zm6-17zm-15-12zm-7 0zm-16 7zm-3 9zm-15 8zm24 16zm-6 12zm17 2zm11 21zm4 1zm-1 6zm6 0zm-4 9zm-12 9zm47-4zm7-19zm-1-7zm9-1zm2 2zm-1 6zm-1-27zm33-59zm2 0zm3 3zm3 1zm2 1zm-1-6zm5-3zm-10-4zm0-2zm-3 3zm0 2zm-7-2zm11-22zm9-17zm-5-3zm-3-6zm0-3zm17-11zm18 10zm-6 18zm-7 5zm25 11zm4 2zm-2 9zm-5 5zm35-4zm27-22zm14 31zm-11 13zm-4 11zm-4 3zm-5 3zm7 11zm-20-4zm-6-8zm-23-70zm-20-44zm-13-6zm9-12zm-24-9zm-2-6zm-3 2zm-5-5zm1-14zm6-2zm11 11zm5-18zm21-17zm5-3zm-14-13zm5-20zm11-14zm9 2zm-4 63zm-1 6zm17 0zm0 4zm-12 14zm-50 33zm-12 12zm-6-23zm-10-15zm-11-10zm16-7zm-39-9zm-5-3zm-9-5zm-7 4zm3 3zm-11-2zm1-5zm-7 26zm-38-6zm-2 11zm-8 17zm-3 13zm-1 4zm-12-8zm-5-14zm-13-9zm9-20zm10 8zm-2-31zm4-4zm-11-4zm78-31zm4-5zm1-2zm-1-4zm5 5zm38-49zm2-5zm-1-3zm2-1zm4 2zm1-3zm-5-5zm-2-1zm-6-2zm-2 1zm-2 0zm-4 3zm-2 2zm3 3zm2-2zm4-1zm2 1zm0 4zm10 7zm3-2zm-10-21zm-1-3zm-3 5zm-7-1zm-5 3zm-71 236zm2 2z"/><path stroke="#8b1a1c" d="M1541 1079zm81-36zm33 26zm7 54zm54 39zm11 42zm-16 11zm-9-1zm-16-8zm-20-8zm0 28zm3 11zm29 15zm15-14zm21 3zm17-3zm-10 35zm-40 5zm87-95zm-1-1zm5 2zm2-3zm7-1zm-10-6zm-6 2zm0-5zm28-21zm2 0zm1-3zm2 2zm1-1zm1-2zm-3-4zm2-1zm4-2zm3-2zm-3-4zm2-1zm-2-3zm-2-2zm-4-1zm-2-4zm-2-2zm-3-1zm-2-2zm-2-1zm-2 2zm-1-2zm0-2zm2-1zm1-3zm4 2zm2-1zm2 2zm2-1zm0-1zm0-2zm2-2zm1 2zm2 3zm0 3zm-1 1zm0 2zm-2-2zm-2 1zm-5-1zm1-9zm-4-2zm-3-4zm-4 1zm-3 0zm-3 2zm0 2zm2 0zm-7-4zm-3-2zm0-2zm3-1zm3 1zm2-1zm2-1zm0-4zm-4-2zm-1-2zm-2-2zm2-1zm-3-2zm-5-2zm1-2zm1-3zm2 0zm3 2zm4 0zm8 1zm3 0zm1-3zm0-3zm2-1zm0-2zm1-1zm-4-2zm0-2zm1-2zm-3 0zm2-3zm4 0zm3 0zm4 1zm2-2zm2 0zm4-2zm1 1zm1-4zm3 0zm2 2zm-1 2zm2 4zm3-1zm0 2zm4 1zm4-1zm0 0zm0 3zm3-1zm2-2zm4 2zm0 1zm-2 2zm-2 1zm-1 2zm-6 1zm-1 2zm-1 2zm-2-2zm-2-1zm2-2zm2-1zm4 6zm0 1zm-3 5zm-3 3zm-1 2zm-1 2zm-2-2zm0-2zm-1-1zm-3 0zm0 2zm1 1zm1 3zm0 1zm3 1zm2 2zm0 1zm-3 2zm3 2zm-1 4zm1 3zm0 3zm-1 2zm0 4zm1 3zm-1 2zm-2 2zm0 2zm-1 0zm-1 3zm2 1zm-6-2zm1-2zm1-3zm2-1zm-3-5zm0-3zm3 2zm-1-5zm2-1zm-2-3zm-2-2zm-2 0zm-4-4zm-3 4zm-6-1zm-1-3zm-4-2zm-1-1zm1-2zm1-2zm2-2zm1 0zm1 0zm-1-2zm-5-2zm-1-3zm2-2zm2 0zm0-1zm4 1zm3 5zm2 3zm2 2zm-2 1zm-2 1zm-3 2zm-3-1zm-9 1zm-2-7zm-9 5zm-2-1zm-2 2zm-2-3zm-2 0zm0 1zm-3-8zm0-5zm-2-1zm3-2zm0-3zm4-2zm3-4zm0-2zm2-1zm-1-2zm3 0zm1 1zm0-2zm1-2zm-2-3zm-1 0zm-2-4zm2-1zm0 0zm4-1zm2-1zm3 0zm2 2zm2 0zm2-2zm2 2zm2-1zm-1-2zm1-1zm2-3zm0-4zm0 0zm-3 0zm-1 3zm-1-6zm0-6zm-2-4zm-2 1zm1-3zm3-1zm1 2zm0-4zm3-1zm1-2zm-3-1zm-2-1zm-1-1zm-1 0zm0-2zm1-3zm2 0zm1 1zm2-2zm-2-1zm0 0zm-2-2zm7 2zm1-1zm1-2zm2-2zm0-2zm1-2zm2 2zm1 2zm1-1zm2-2zm1 2zm2 3zm2-2zm1-1zm2 0zm2 2zm1-1zm2 0zm1-2zm-2-1zm-2-2zm0-2zm-3-1zm-2 0zm1-3zm-2-2zm2-1zm-3-1zm-1 5zm-2 0zm1 2zm1 3zm-4 0zm-1-4zm-2 0zm-3 0zm-2 4zm-1 2zm2 2zm4 2zm2 3zm-1 1zm-3-1zm-1 3zm0 2zm3 0zm2 1zm5 2zm0 2zm1 1zm-2 0zm0 3zm1 5zm4 3zm3 0zm0-2zm-2-2zm3-1zm4 2zm-1 4zm-1 1zm1 3zm2 1zm-1 3zm2 0zm2-1zm0 3zm-1 2zm-2-1zm-4 2zm-2-2zm1-3zm0-2zm-1-2zm8-3zm4 0zm2-1zm1-1zm-2-2zm-2 0zm2-3zm2 0zm2 0zm2 0zm2 1zm0 5zm0 3zm-3-2zm-4 1zm7 5zm0 4zm-1 1zm4-1zm1 1zm1 1zm0-5zm4 11zm-1 4zm-3-1zm-3-1zm-3 2zm-1-1zm-1 2zm-2 1zm3 4zm3 4zm3-1zm1 2zm-1 1zm3 1zm2 2zm2 0zm-1-2zm0-2zm2-1zm1-1zm-2-2zm-3-1zm-1 4zm5-6zm1 0zm0-2zm1 4zm3-2zm-2-6zm-20-4zm-1 1zm-2 1zm0-3zm-1-3zm-1-1zm-1 2zm-1 2zm-1 2zm1 2zm-2 3zm-3-2zm-1-1zm-1 1zm0-2zm2-3zm9-5zm-3-19zm-2 0zm2-7zm-1-4zm2-6zm0-1zm-3 0zm1-3zm-2-4zm-1-2zm2 0zm1-2zm2 0zm0-3zm1-3zm2-2zm1-4zm0-4zm-1-5zm-5-2zm-2 4zm-1 1zm0 3zm4 1zm-1 3zm-3 2zm-3 1zm-2-2zm-3 1zm-3-2zm0-4zm2 0zm-1-2zm-1 0zm-1-3zm-3 0zm-1 1zm-2 0zm1-3zm2-1zm0-3zm0-2zm-1 0zm2-2zm-1-2zm3-1zm6 0zm2 2zm2-1zm3 0zm-4 3zm0 3zm2 0zm-2 3zm-1 4zm-6-6zm-10-3zm-1 2zm0 5zm-1 4zm0 2zm1 1zm0 3zm2 0zm1-1zm1-1zm1-2zm-1-1zm-4 9zm-3 0zm5-24zm24 3zm-4 28zm7 1zm2 2zm2 1zm-3 1zm0 2zm-2-1zm2 9zm1 1zm2 3zm2 0zm-1 2zm2 0zm-2 2zm2 1zm0 1zm-3 2zm-2 1zm-1-2zm1-1zm6-10zm-21 5zm-3-1zm0 4zm2 0zm-2 3zm-2-2zm0-10zm4-1zm-18 10zm1 7zm-1 1zm0 1zm3 1zm-7-3zm-7-5zm3-4zm-8-1zm-2-2zm-1 3zm1 2zm2 1zm0 8zm-5 3zm-3 1zm-2 2zm0 2zm0 1zm2 0zm-4 0zm-2 2zm-1-2zm0-3zm-1-3zm-2 1zm-3-1zm-3 3zm-2 2zm4 1zm2 2zm-1 1zm-4 0zm-1 1zm-2 3zm-2-1zm-3-1zm0-3zm-4-1zm-7 4zm-2-6zm-3 1zm-3 5zm-4-2zm-2 3zm4 10zm3 6zm5 4zm4 3zm4-8zm6 1zm4 0zm0 3zm-2 2zm-3 0zm2 3zm-1 2zm3 3zm0 1zm0 3zm1 2zm0 2zm0 3zm3-9zm-1-3zm0-7zm5 1zm-2-8zm0-2zm2 0zm3-2zm0-2zm-1-3zm0-3zm-3 2zm-2 0zm-1 3zm-2-1zm1 3zm-2 1zm-3 1zm-3-1zm-2-4zm7-3zm10-10zm6 8zm6-2zm-1 6zm2 2zm4 4zm-3 2zm1 2zm4 0zm0 3zm-1 0zm0 5zm0 1zm0 2zm2-1zm2 4zm-2 1zm-8-4zm10-12zm4 0zm2 0zm1 1zm1-1zm2-4zm6 3zm0-9zm4-4zm-2-3zm4-6zm-12 2zm0 3zm-11-5zm-3 4zm0 7zm3 2zm1 3zm-18 2zm-1 4zm6-27zm0-3zm0-2zm-4 3zm8 0zm-2-11zm0 0zm-21 15zm40 45zm3-1zm2-2zm4 6zm2 4zm2 0zm3-2zm3-2zm0-3zm-1-5zm-1 0zm0-2zm-2 2zm-2 1zm-1-2zm0-4zm0 9zm9-5zm-7 24zm2 1zm0 3zm-2 13zm-1 4zm-2 6zm-2 2zm1 1zm4 1zm1 6zm0 0zm-7 4zm-6-3zm-4-3zm-5 2zm-3 1zm1 3zm-4 0zm3 4zm3 2zm2 2zm3 1zm0 2zm3 1zm-1 3zm7 3zm7-2zm0-5zm6-1zm3 0zm3 1zm0 3zm-3 0zm1 3zm1 1zm3-1zm2-2zm5 1zm2 0zm2 0zm1-1zm-1-2zm-1-2zm3-2zm2 3zm3 0zm2 2zm3 3zm0 2zm-1 2zm-2 1zm-1-2zm-4-3zm-3 2zm-1 3zm2 0zm3 3zm2 2zm1 1zm2-1zm2-2zm1-1zm0-1zm2 0zm2 0zm1-1zm0 0zm2 1zm2-2zm4-3zm-4-3zm-2-1zm-2 1zm-3 0zm-2-3zm3-3zm4 1zm2-1zm11 0zm0 3zm2 0zm2-1zm-1-1zm1-1zm3 2zm0 2zm-2 0zm5 0zm0 3zm4-3zm-1-3zm-5-1zm-7-7zm-2-1zm-1-4zm2 0zm-1-2zm1-2zm-2-1zm-2 2zm-1-2zm-2 0zm0-2zm-2 1zm-1-2zm2-3zm1-3zm0-2zm-4 1zm-3-1zm-3-2zm-2-1zm-2-1zm-2-1zm-2-2zm-1-2zm-1-2zm2-1zm-1-3zm-4 0zm-1 1zm11 2zm1-3zm6 2zm-1 5zm2 2zm-5 1zm-3-2zm14-3zm3 13zm0 4zm-2 0zm-3 7zm2 3zm9-2zm-17-8zm-8 12zm-6 5zm-5 0zm-9 1zm-1-2zm1-1zm-4 0zm1 3zm-5-2zm-3 0zm2 15zm-2 2zm-3 2zm2 5zm2-1zm2 2zm2 2zm1 2zm1-1zm2-1zm0-2zm3 0zm3 1zm1-2zm3-1zm4 0zm4 4zm-1 2zm6 0zm0-1zm4 1zm1-2zm-2-2zm1-2zm0-1zm3 0zm4 0zm1 1zm0 6zm2 1zm2 2zm0-4zm4 2zm2 2zm2-2zm0 7zm4 9zm-3 1zm2 5zm1 1zm2-1zm2 0zm2 0zm0-2zm2-1zm3 1zm1 1zm2 0zm-1-2zm-2-2zm-1-1zm-4-1zm-1 1zm0-3zm3 10zm0 2zm2 1zm0 2zm-2 1zm-2-2zm-1-2zm7 2zm1-2zm0-2zm2 0zm3 0zm-2 3zm1 2zm-2 2zm-2-1zm0 4zm0 2zm2 2zm1-2zm2-1zm-2-2zm-3 7zm2 2zm-2 1zm-2-1zm-2 0zm0-2zm-2 1zm-2-2zm-2-1zm0 2zm1 4zm0 2zm1 1zm1 2zm-4-1zm0-3zm-2-1zm-2-3zm1-2zm0-3zm1-2zm-2 0zm-2-1zm-2-2zm-2 1zm-2-3zm-3 1zm-1 2zm2 2zm0 2zm-2-1zm-2 0zm-2 1zm0 2zm-2 0zm1 3zm3 1zm1-1zm-1-2zm1-2zm2 1zm2 1zm2 2zm1 2zm1 2zm2 0zm-2 2zm2 1zm2-1zm-3 4zm-2 2zm-2-1zm-2-1zm3-1zm-1-3zm0-1zm-3 0zm-2-2zm-2 0zm-2 2zm-2-2zm-2 1zm-1-2zm-1-3zm-1-2zm-2 1zm-3-1zm-1-3zm-2-1zm-2 1zm-1-2zm-1-2zm-2-1zm-2 1zm-1-2zm-1-3zm-3 0zm-2-2zm0-2zm4-1zm2-1zm-1-2zm1-2zm2-2zm1-2zm2 1zm1 2zm2 2zm1 2zm3-1zm3 0zm2-1zm2-1zm0 4zm-2 0zm0 2zm-2 2zm-2 0zm-1-1zm-2 0zm-2 1zm2 2zm2 0zm2 1zm2-1zm2 1zm1 1zm0 3zm2 0zm1-2zm0-2zm2 2zm1 2zm2-2zm1-4zm2 1zm-4-3zm-2 1zm0-3zm-2-1zm2-2zm1 1zm2-1zm-2-2zm4-3zm2 5zm2-1zm1 5zm-6-1zm-7 2zm-7-1zm1-7zm-1-2zm-1-1zm-3 3zm-2-3zm1-4zm-3-1zm-1 1zm-2-2zm-1 2zm-1 2zm-3 0zm-2-1zm-2-1zm1-2zm0-2zm1 0zm2 0zm-1-2zm-2-1zm-2 0zm-1 2zm-2 0zm1 2zm2 0zm-2 3zm-3 0zm-2 0zm1-2zm-2-1zm1-2zm1-1zm-2-2zm-2 3zm-2 0zm1 2zm-3 0zm4 3zm0 3zm3 0zm1-1zm0 3zm3 0zm-2 3zm3 1zm1 1zm4 0zm1-3zm-2-1zm1-2zm3-5zm3-4zm1 13zm-1 3zm2 1zm0 2zm-2 1zm2 3zm2 2zm3 3zm2-1zm0 2zm2 1zm2-1zm0-2zm2 3zm2 2zm1 1zm3-2zm-9 1zm-6 2zm20 12zm9-8zm-1-2zm-2-2zm-1-2zm5 1zm1 2zm6-5zm2 1zm3 3zm3 1zm-2 6zm-2 0zm-10 10zm-17-44zm2-7zm-6-16zm-18 3zm-3-1zm1-3zm-6 4zm-2 2zm3 1zm-12 7zm-27-41zm1-2zm-5-2zm-1-1zm2-2zm-1-3zm-5 3zm-2-3zm0-2zm0-1zm-2-2zm-3-8zm8 22zm2 3zm103 24zm1-2zm3 0zm2 3zm-1 2zm-2 2zm2 2zm4 1zm1 2zm2 2zm-3 2zm1 2zm0 2zm2 2zm-2 1zm3-3zm-1-2zm-5-5zm1-7zm-7-2zm13 25zm-2 1zm-203-145z"/></g>
<path d="M1515.8 890.4V1322.6H1933.7" fill="none" stroke="#000" stroke-width="1.6"/><path d="M1530.8 1322.6v5.5" stroke="#000" stroke-width="1.6"/><text x="1513.1" y="1348.4" font-size="24" fill="#000">−50</text><path d="M1635.87 1322.6v5.5" stroke="#000" stroke-width="1.6"/><text x="1618.4" y="1348.4" font-size="24" fill="#000">−25</text><path d="M1740.94 1322.6v5.5" stroke="#000" stroke-width="1.6"/><text x="1734.9" y="1348.4" font-size="24" fill="#000">0</text><path d="M1846.01 1322.6v5.5" stroke="#000" stroke-width="1.6"/><text x="1834.4" y="1348.4" font-size="24" fill="#000">25</text><path d="M1515.8 902.5h-5.5" stroke="#000" stroke-width="1.6"/><text x="1480.7" y="911.1" font-size="24" fill="#000">50</text><path d="M1515.8 1019.27h-5.5" stroke="#000" stroke-width="1.6"/><text x="1480.9" y="1027.9" font-size="24" fill="#000">25</text><path d="M1515.8 1136.04h-5.5" stroke="#000" stroke-width="1.6"/><text x="1494.1" y="1144.6" font-size="24" fill="#000">0</text><path d="M1515.8 1252.81h-5.5" stroke="#000" stroke-width="1.6"/><text x="1467.0" y="1261.4" font-size="24" fill="#000">−25</text><text x="1691.2" y="1385.8" font-size="24" fill="#000">tSNE1</text><text transform="translate(1457.9 1098.9) rotate(-90)" font-size="24.6" fill="#000" x="-35.2">tSNE2</text>
<g stroke-width="3.6" stroke-linecap="round" fill="none"><path stroke="#d6d6d6" d="M1537 1730zm2 1zm2 1zm2 1zm1 1zm-3 1zm-2 0zm-1-2zm8 4zm1 2zm-1 2zm2 0zm2-2zm2 1zm0 2zm2 1zm2 0zm-3 2zm3 2zm2-1zm2 1zm-2 29zm1 3zm2-2zm1 2zm2 0zm2 1zm3 2zm3-2zm1 1zm2 3zm-2 2zm-5 1zm-3-1zm-1 1zm0 4zm-2 3zm-2-3zm2-8zm16-2zm-18 32zm2 2zm0 1zm-3 3zm0 2zm3 0zm3 0zm-9 1zm-1-1zm1-2zm1-3zm0-4zm-1-1zm-1 1zm-1 1zm-2-2zm2-1zm-4 4zm-4 3zm2 4zm-2 1zm3 1zm3-3zm2 3zm1 1zm-7-16zm-1-2zm-3 1zm1 2zm-3 0zm-1-2zm0-2zm-2 1zm99-32zm1-1zm2 0zm1-1zm1 0zm-2-3zm2-2zm-2-2zm1-1zm2-2zm2-3zm3 0zm4 0zm1 2zm2 0zm0-3zm3 0zm3-3zm1 5zm1 2zm-2 1zm1 3zm2 0zm2 1zm0-2zm-1 4zm3 0zm2-3zm1-1zm0 2zm2 2zm0 2zm2 0zm2 0zm1-3zm0-3zm4 0zm0 2zm2 0zm0 2zm-2 1zm3 3zm1 2zm2-1zm0-2zm-1-1zm2-2zm3 0zm2 0zm1-2zm-2 0zm0-1zm-2 0zm-2-2zm0-2zm0-2zm-2 0zm0-2zm1-3zm-3-2zm-1-2zm-1-1zm2-1zm2 0zm3 2zm2-1zm2-1zm1-2zm1-2zm-1-2zm-1-1zm-1 2zm-4-2zm-2 2zm-7 3zm0 4zm-4 2zm-2 3zm-2-2zm-3 0zm0 2zm2 2zm-2 2zm-2 1zm-2-1zm-7 5zm0 2zm-2 0zm-2 2zm-3 0zm0-1zm0-3zm-2 0zm5-1zm2 0zm-3 8zm-2 2zm-1-1zm0-2zm-4 1zm1 3zm1 3zm2 2zm1-2zm0-2zm3-1zm2-1zm3 4zm1 0zm1-2zm0-3zm3 3zm1 3zm0 3zm-3 0zm-2 2zm4 1zm2 1zm2 3zm-3 2zm0 2zm2 2zm-3 1zm1 2zm-2 3zm-2-2zm-1 2zm1-7zm0-2zm-1-2zm1-1zm-4-2zm-2 0zm-2-3zm-2-1zm3-1zm-8 0zm-2 0zm-3 0zm-1-3zm0-2zm3 2zm-9-19zm2-12zm-1-2zm-2-1zm1-2zm2 1zm-1-5zm1-3zm2 0zm-3-2zm-1-2zm2 0zm1-5zm-1-2zm3-1zm3-2zm2-1zm2-1zm0-2zm-2 0zm0-2zm-4 2zm-1 2zm0-5zm6-4zm-4-4zm0-4zm-2 0zm-2-2zm-1 2zm-1 1zm-1 2zm-2-2zm-1-4zm0-4zm-1-2zm2-1zm0-2zm-1-2zm-2-2zm-1 4zm-1 2zm-1 2zm-2 2zm-3-1zm0-2zm2 0zm0-2zm-1-1zm-1-1zm-1 2zm-2-1zm0 2zm-3-1zm0-2zm2-1zm0-1zm-2-2zm-1-3zm-2 0zm-1-2zm0-4zm1-2zm4-1zm0 4zm4-1zm2 1zm2 0zm3 2zm2-3zm0-2zm1-1zm1-1zm0-2zm-2-2zm-1-2zm-1-2zm1-3zm-2-1zm-2-1zm-1 1zm-1-2zm1-1zm2-1zm0-4zm1-1zm2-3zm0-2zm5-1zm3 1zm0 4zm2 1zm1-2zm3-1zm3 2zm-2 2zm-2 1zm0 2zm2 0zm-1 2zm0 4zm2 0zm2-2zm2 1zm1 2zm0 2zm-2 2zm-2-1zm-1 5zm-2 2zm1 2zm2 2zm1 3zm2 2zm-1 1zm-3 0zm-4-3zm-2 1zm-2-1zm-3-1zm-2 0zm1-3zm2-3zm1-3zm2 1zm0-2zm2-3zm0-4zm-5 1zm0-2zm-4 0zm-1-5zm3 0zm6-1zm8-1zm2-2zm1 2zm-1 2zm3 4zm2 3zm2-2zm2 0zm1 1zm-1 3zm-2 1zm-3 1zm0 4zm-2 0zm-2 4zm4 2zm3 0zm3 2zm2 1zm1-2zm-1-4zm-3 0zm2-3zm4-5zm-2-2zm1-1zm2 0zm2 1zm2-1zm0-2zm1-2zm-4 1zm-2-2zm-3 0zm-2 0zm-3-2zm-22 10zm0 2zm-2-1zm-3 4zm-2 0zm-2 0zm-3 0zm4 3zm-1-8zm-3-4zm-1-4zm-2-2zm2-2zm-2-2zm2-1zm3-2zm-8 6zm0 2zm-3 2zm2 2zm2 1zm-3 3zm-4-2zm0 6zm6 0zm3 15zm3 2zm3-1zm1-2zm0 5zm-1 2zm-3 9zm-1 3zm2 1zm0 2zm-4 1zm0-2zm-1 6zm2 1zm-1 2zm0 4zm4 1zm3-2zm2 4zm4 2zm0 2zm-2 2zm0 2zm2 1zm2-3zm-6 5zm-3-1zm4 9zm1 3zm12-1zm1 2zm2 0zm4 1zm2-1zm-1-3zm-1-3zm-2 2zm-1-2zm-2-1zm-1 1zm3-3zm0-2zm-2-1zm4 2zm4 0zm1 2zm2 1zm-1 2zm1 3zm1 1zm-2 2zm-2 2zm0 3zm-3-2zm-3 1zm-4-2zm13 1zm2-1zm4 0zm1-2zm-1-2zm-3-2zm1-3zm1-1zm1-3zm2 4zm-7-3zm-1-3zm2-1zm0-4zm-4 1zm-2-4zm-2 1zm0-4zm3 0zm3 2zm0-4zm-1-2zm2 0zm2-2zm0 4zm2 1zm3-2zm-2-7zm1-2zm-2 0zm-1 1zm-1 0zm-3-1zm1-2zm-2-1zm-2-2zm-3 0zm-2-1zm-2-2zm-1 2zm1 2zm5-4zm4-1zm-1-2zm-2-1zm-1-2zm-1-2zm-2 0zm4 0zm0-2zm1-2zm-1-2zm2 0zm1-2zm1-1zm1 5zm-2 1zm-6-2zm-9 0zm-3-1zm-2-1zm1 4zm4 4zm2 2zm0 2zm-5 2zm-1-2zm-9 3zm1 6zm1 5zm4 1zm-9-1zm-6-14zm24-21zm21 7zm-1 10zm-1 3zm1 1zm2 2zm-2 2zm-2 0zm-2 1zm-1 1zm2 1zm4-1zm0 2zm2-3zm0-6zm0-1zm-6 3zm-1-2zm-5 11zm3 4zm-5 4zm1 1zm-6 8zm17 2zm11-6zm22 14zm-2 3zm4 3zm2 1zm1 2zm3-3zm2-2zm-1-3zm-4-1zm9 4zm2 2zm0 2zm-1 1zm-1 4zm2 0zm-2 3zm2 3zm0 2zm-3-1zm-2-1zm0 3zm-2 1zm-1 3zm-3-2zm-3 0zm-1 1zm-2-1zm-1 2zm2 1zm0 2zm-3 0zm-4 3zm-1-2zm-2-2zm-2-1zm-1 1zm2-3zm-3-2zm-2 0zm-3 3zm-1-1zm0 7zm1 2zm-3 5zm0 2zm-2 2zm-1 3zm-1 2zm2 3zm3 2zm-1 1zm0 3zm0 2zm4-4zm3-1zm-1-2zm1-2zm-1-2zm0-2zm-2 1zm0 2zm-2 1zm1-7zm2-1zm4-1zm8 1zm2 0zm-1 2zm1 2zm3-1zm0 2zm0 2zm-1 1zm-1 2zm4 0zm2-2zm0-2zm-2 0zm3-2zm1-1zm2 3zm0 2zm-2-1zm4 0zm2 0zm-2-3zm0-4zm2 0zm-2-3zm0-2zm-4-2zm-2-1zm0 2zm-1 2zm2 3zm2 0zm-6 0zm-1-1zm-2-1zm3 4zm-9-9zm11-6zm5 2zm0 2zm4 0zm4 0zm0 3zm-1 3zm3 2zm0 2zm1 2zm-2 2zm-3-1zm7-4zm1 2zm2 1zm1 1zm2-1zm3-1zm5 1zm1 3zm2 2zm-2 1zm-2 1zm-3 1zm-1-2zm1-1zm-3 1zm-2 0zm-3 0zm-1-2zm0-2zm1-8zm-3-1zm0-2zm-1-1zm5-3zm-3-4zm-2 0zm1-6zm-2-3zm3-1zm2-1zm0-3zm-1 0zm0-1zm-1 0zm-1-3zm2 0zm-1-3zm5 4zm-1 2zm4-1zm1 4zm1 1zm0 2zm1-4zm2 0zm2 1zm3 2zm1 0zm1 1zm2-1zm0 2zm-1 2zm-1 1zm0 2zm-2 0zm-2-2zm-2-1zm-1 1zm2 2zm2 3zm1 0zm-3 2zm-1 1zm0 3zm-2 1zm-2-1zm-2 1zm1-3zm1-1zm0-2zm-1-4zm-6-1zm0-2zm-12 4zm1 3zm-8-7zm-2-1zm-2 0zm0 2zm-3-1zm7-3zm0-1zm2 0zm-2-3zm4 0zm1-2zm22 25zm1 1zm7 1zm0-3zm0-3zm-2-2zm8 0zm3-4zm-1-1zm-2-3zm1-2zm1-3zm5 2zm1 2zm0 2zm-2 0zm2 3zm2 1zm1-2zm1-2zm2 4zm0 1zm-2 0zm0 1zm1 2zm-2 2zm1 1zm-4-1zm-1 2zm-1 2zm-1 2zm2 2zm2 0zm2 3zm-3 1zm-3-2zm-4 0zm-3 1zm-1 2zm0 2zm-1 2zm-2-1zm-1-3zm2-1zm0-2zm2-1zm1-2zm-1-3zm5 2zm7-2zm6 2zm1-3zm1-2zm0-3zm3 4zm0 2zm1 3zm0 2zm-1 2zm-3 0zm-1 1zm0 1zm-1 3zm1 3zm-2 1zm3 4zm0 2zm-2-1zm0 2zm2 3zm2-3zm2-2zm-2-1zm1-3zm3 0zm0-4zm-2 0zm2-9zm-9 2zm-10 4zm-2 0zm-1 3zm2 0zm2 0zm1 2zm-1 3zm-1 1zm0 2zm-1 1zm0 1zm4-1zm1 0zm1 1zm0-5zm-7-2zm-2 2zm-1-2zm0-4zm-7 4zm-1 5zm0 10zm-17 9zm-1 2zm2 1zm-1 2zm-3-1zm-2 1zm2 3zm0 2zm3 3zm2 2zm2-2zm1-3zm-1-3zm6 8zm0 2zm-1 2zm-1 3zm-1 2zm-3-3zm-2-2zm9 7zm2 0zm0-4zm2 12zm-3 1zm1 2zm2 1zm0 4zm2 3zm2 1zm0-2zm0-1zm0-2zm2-2zm-2-2zm3-1zm3 4zm3-4zm1-1zm1 2zm2 2zm3 2zm-1 2zm2-4zm-3 10zm2 1zm-3 2zm1 4zm4 1zm1-4zm-7 7zm-3 3zm-3 0zm0-4zm-2 0zm1-2zm-1-4zm0-3zm4-1zm2-2zm-3-1zm-4-1zm-8 1zm-2 1zm0-2zm-2-5zm-1-1zm-4 2zm-1 0zm-4-3zm-1 2zm-1 0zm-5 1zm-1-3zm0-3zm0-2zm1-1zm1 2zm-5 1zm-1-1zm-1 1zm0-2zm1-2zm-2-1zm-1 2zm-1 3zm3 2zm2 0zm-7-6zm-2-3zm-2 1zm-1 1zm-4 1zm2 5zm4-1zm-2 6zm0 4zm-5 0zm0-2zm-1 4zm1 3zm0 3zm2 2zm3-2zm-1-3zm3 0zm2 3zm2-2zm4-4zm2 2zm2 3zm-4 3zm0 3zm-1 3zm-2 2zm-4-1zm-2-3zm-3 1zm0 3zm0 0zm0 2zm0 2zm1 3zm5-1zm0 8zm2 2zm-3 2zm-3-2zm-4-1zm-1-3zm-2-2zm0-3zm-3-6zm-3 2zm-3-1zm0 4zm-4 1zm-2-1zm1 4zm0 2zm-2 3zm-2 0zm0-3zm-2 0zm-1 2zm-2-4zm2-2zm2 0zm-3-2zm-3-2zm-3 2zm-1-2zm-1 4zm-5 5zm7 5zm1 1zm-4 3zm1 2zm5 0zm2 2zm0 3zm-3 2zm-3-1zm3 5zm3 3zm1 2zm1 2zm2 3zm6 1zm5 0zm5 0zm3 1zm3 0zm-1 3zm3 4zm2-3zm3-4zm2-1zm1 1zm0-3zm0-3zm3-2zm2 0zm-2-2zm1 5zm2 1zm4 0zm-1-3zm4-2zm2-2zm3 1zm1 2zm0 0zm-1 4zm-1 3zm-1 1zm2 0zm-3-2zm-2 1zm1 3zm-2 0zm-1 0zm-2-1zm-2 1zm-4-1zm-3 6zm0 2zm3 0zm2 1zm-2 2zm4 2zm1-3zm0-2zm0-2zm4-2zm6 1zm4 1zm0 3zm2 1zm2-2zm2 3zm4 1zm2-2zm-2-1zm1-2zm1-2zm2 1zm1 3zm2 0zm1 5zm-5-1zm-3 6zm-10 4zm-3-2zm-3 1zm-1 1zm-2 0zm-2-3zm1-2zm-1-3zm2 0zm2-3zm2 3zm4 3zm-12-2zm-1 2zm-4 1zm-2-2zm-2 0zm1 2zm-3 0zm-2-3zm1-3zm2 2zm-6 3zm-2-3zm-2 0zm-1 2zm1 1zm2 3zm-8-6zm-3-12zm-6 1zm-2-1zm6-11zm-2-6zm-3 0zm0-1zm6-3zm4-3zm3 3zm-1 8zm1 1zm5-1zm5-1zm4-7zm1 0zm4-5zm3-2zm-1-4zm2-3zm1-2zm1-4zm0-2zm2 2zm1 2zm1 4zm-1 2zm2 3zm2-4zm2-3zm2-2zm-2-2zm-1 1zm3-3zm1-1zm0 2zm4 0zm2-3zm2-1zm1-2zm2-2zm1 3zm1 1zm-1 3zm-1 2zm-1 1zm-1 3zm1 2zm1 2zm2 1zm2 0zm-2 2zm1 1zm-2 3zm-2-2zm-4 0zm-2-1zm2-2zm2-3zm-1-2zm-1-1zm-3 3zm-1 1zm-3 4zm-2 2zm3 2zm1-2zm2 4zm8 0zm9-1zm1-2zm0-3zm2-3zm0-2zm-3 1zm-1-5zm0-2zm4 0zm0-4zm3 1zm1 3zm2-2zm0-4zm4-1zm1 3zm1 7zm-1 2zm-2 0zm-2 0zm-2 3zm1 2zm2 0zm2 2zm3 4zm2-1zm3-1zm3 4zm0 3zm-1 2zm-1 2zm1 1zm2-2zm-4-3zm-4-2zm-2 1zm1 3zm-2 3zm0 0zm-2-2zm-2-3zm1-1zm0-3zm-2 0zm-3 1zm-3 4zm0 3zm3 0zm0 2zm2-4zm3 5zm2 2zm0 2zm-3-1zm-3 1zm-1 0zm-2 0zm1 3zm1 7zm-2 1zm0 2zm-2 1zm4 3zm4-4zm1-6zm3-1zm6-2zm-1-2zm-2-2zm1-1zm-1-1zm3-1zm-20-6zm0-4zm-8 11zm-3 1zm-1 3zm-4 1zm0 2zm-3-3zm-2-2zm-1 1zm-7-2zm0-1zm-19 5zm8 24zm2 2zm-1 4zm-2 2zm-1-1zm5 4zm25-30zm10-7zm21-27zm-7-17zm-8 3zm-7 3zm-3-8zm-1 0zm0-4zm-3-1zm-2 0zm0-2zm1-2zm1 1zm2-1zm2 2zm-6 4zm-1 1zm-2 3zm-4 0zm0-4zm-2-5zm-2 1zm1-3zm1-4zm4 3zm1 2zm3-1zm-6 15zm-1 1zm-1-1zm-5 3zm-3 0zm1-3zm1-2zm-7-1zm-1-2zm5-5zm0-2zm-17 2zm-9 6zm-3-5zm-6 4zm-3-3zm-2 1zm0 1zm0 3zm-2 1zm-3 1zm0-3zm2-3zm2-2zm2-3zm2-1zm1-2zm1-1zm0-3zm1-3zm2-4zm0 0zm-4 0zm-4-1zm-2-2zm1-1zm0-4zm-2 0zm2-4zm2 2zm3-3zm2 2zm1 3zm2-4zm2-1zm-1-2zm-2-2zm-3 1zm11-2zm-2 17zm-2 3zm-2 7zm-8 0zm-3 0zm-3-1zm-2 1zm-2 3zm1 2zm-3 0zm0-4zm-1-3zm0-3zm-1 0zm1-2zm-2-3zm1-1zm4 1zm3 0zm3 3zm-2 3zm4 0zm-1 8zm-3 0zm-2 5zm-3 2zm0 3zm-5-5zm0-2zm-2 0zm1-2zm1-3zm-5-2zm0-2zm3-3zm-3 9zm0 0zm0 6zm2 0zm-3 3zm0 0zm-1 2zm-4 3zm24 14zm1 1zm2 1zm2 2zm4 0zm1-2zm2-1zm1 1zm4 0zm-3-4zm-4-2zm-3 2zm0 2zm-5-2zm-3 5zm-1 0zm0 2zm0 2zm2 0zm-4 3zm-3 5zm1 4zm1 1zm10-46zm41-21zm-6-34zm1-1zm-19-7zm-9-17zm-24 7zm79-36zm37-15zm-17-30zm-15-21zm0-3zm-3 1zm-1-4zm-3 1zm-3-2zm-2-1zm1 3zm0 3zm-3-1zm-4-3zm-2 2zm-1-3zm-2 0zm1-2zm-1-1zm-2 0zm0-2zm2-2zm2 3zm3 1zm2-1zm-11 5zm-1 1zm1 1zm-2-4zm1-1zm-2-3zm-3-1zm-2 0zm0-2zm3-1zm2 0zm-1-2zm2-3zm2 1zm-7-2zm-2 0zm-4 2zm3 8zm-2 1zm-2 1zm-2 1zm0 2zm1 2zm-1 3zm3 0zm2-3zm3 0zm2 0zm2-1zm-1-3zm-7 1zm-5-3zm2 13zm-1 3zm3 3zm-2 2zm-4 1zm-1 2zm2 2zm7-10zm1-1zm-1-1zm2-2zm-2-52zm1-4zm2 1zm2-2zm-3-1zm0-4zm-2-1zm-3-2zm-2 0zm0 2zm-1-5zm2-1zm2-2zm1-2zm-2-3zm-2 1zm-2 4zm-1 2zm-3 8zm9 4zm7-7zm1-3zm2 0zm-1-2zm2 0zm0-2zm0-2zm-3 0zm-1 2zm-2 3zm-2 0zm2-7zm4-1zm-5-4zm-2 2zm-2-1zm-4-2zm1-4zm3 1zm5 0zm-5-6zm-1 0zm-2-1zm-1 2zm-2-3zm0-2zm6 1zm0-2zm-3-6zm16 33zm-2 4zm3 1zm-1 2zm-2 4zm-2 5zm42-65zm2-2zm5-5zm1-3zm-5-8zm-3-1zm1-2zm-2-2zm-1-3zm-3 5zm0 3zm-2 1zm-2 0zm-1-3zm-2-2zm4-2zm-6-3zm1-3zm-4 11zm1 3zm3 0zm0 2zm3 3zm2 1zm2-2zm1-3zm1 6zm-2 2zm100 50zm10 63zm-65 121zm-2 0zm-28-8zm17 41zm-2 19zm4 0zm24-10zm2-16zm34 33zm-34 60zm-2 0zm-2-1zm3 4zm1 0zm1 4zm-2 0zm3 4zm3 2zm1-2zm2 4zm-4 0zm5 4z"/><path stroke="#fcdcb9" d="M1632 1647zm-2 6zm-2 4zm9 0zm-1 7zm6 1zm5 3zm0 6zm-7-1zm-4 3zm-3-2zm7 4zm-2 7zm-6 2zm5 7zm9 4zm4-15zm7-7zm-1-18zm-3-1zm-29 11zm-2 7zm-7 2zm4-15zm-1 36zm3 11zm9 0zm5 11zm0 10zm5 1zm7 11zm16 1zm-6 16zm4 3zm-3 7zm-7-8zm-4 1zm-1 8zm13 13zm3-3zm5-5zm16-2zm2-11zm-4-3zm9-3zm3-10zm6-9zm11 8zm-1 9zm-6 17zm5 1zm-3 6zm19-7zm4-6zm4 8zm0 4zm12 2zm8-4zm5 1zm2-2zm-5 9zm-1 4zm6 2zm-11-25zm-3-1zm-3 3zm-3 1zm-6-18zm22-35zm13 1zm12 1zm0-10zm12 3zm1 0zm2 3zm1-5zm4-11zm-5-5zm-4-6zm-6-3zm-8 3zm-6 9zm-16-7zm-31-4zm-14 7zm-13 9zm7-28zm-7-34zm45-70zm3 0zm5 2zm0-4zm5 3zm2-1zm0-2zm2 2zm1 0zm-3-6zm-2-1zm-3-5zm-4-7zm-5-2zm-2-2zm3 8zm-4 3zm-1-2zm-3-2zm3 13zm24 10zm57 59zm13 5zm-1 5zm-16 9zm-1 2zm4 7zm-9 10zm-2-1zm-7 1zm-8-4zm10 18zm5 5zm11 22zm-2 12zm-8-1zm3 20zm10 1zm6 5zm1 7zm7 8zm-3 13zm-10 5zm0 4zm-5 16zm30 7zm2 4zm0 9zm-6 9zm-5-4zm11 11zm2 7zm2 2zm0 5zm18 8zm6 5zm5 7zm14-4zm9-7zm-2-12zm-17 3zm0 5zm-4-37zm-6 0zm-3-8zm-6-3zm-5-4zm-11-4zm15 18zm14-34zm0-11zm-3-17zm-11-35zm1-5zm-7-3zm3-7zm5 2zm4 2zm-13-15zm-7-11zm-4-1zm3-6zm4-10zm-18 36zm-6 5zm4 7zm0 10zm6-1zm-11 15zm-12 22zm-28 3zm-2-2zm1-13zm-2-21zm-9 2zm-99 18zm-17-30zm-1-5zm-9 1zm-27 18zm34 62zm17 56zm19-6zm6-4zm8 17zm3 13zm22 11zm11 14zm10-9zm3 17zm9 5zm-46-14zm-7 21zm1 9zm6 15zm-17 6zm-11-32zm-23 8zm-2-20zm4-4zm-15-7zm-7-10zm7-20zm16 11zm40-48zm37 34zm60 74zm-248-109zm-5-9zm10-30zm-1-2zm-16-38zm-2-3zm-5-5zm291-122z"/><path stroke="#a8d5dd" d="M1620 1669zm22-2zm3 3zm14 17zm1 35zm-10 8zm-12 3zm-8-11zm-7-14zm3-5zm37 37zm3 17zm-5 10zm-7-6zm-3 8zm7 7zm-1 8zm5 8zm3 1zm17-7zm-6-24zm9-17zm13 3zm10 0zm-1 20zm2 6zm1 8zm12 0zm1-1zm3-5zm8-6zm6 0zm0-7zm7 5zm2 17zm5 4zm1 1zm9-3zm-27 3zm-20 29zm-31 22zm-15-3zm-10 15zm-12-5zm10 29zm7 2zm-10 6zm5 9zm15-5zm12-6zm-1-11zm-3-1zm15 9zm-11 20zm-1 10zm17 7zm18 10zm7-13zm25-13zm2-19zm-20-20zm11-15zm66-44zm-1-2zm9-10zm5 6zm6-1zm6 1zm4 4zm-2 2zm-1 4zm1 2zm0 6zm-7 4zm10 4zm7 4zm-1 2zm-5 8zm-5-1zm5 9zm19 6zm-1 3zm3 3zm13-8zm3 5zm3 4zm2-3zm2 3zm3-5zm6-6zm0-5zm0-7zm11 13zm-2 2zm1 5zm-28-18zm-3 3zm-13-6zm0-15zm3-4zm-9 4zm16-12zm4-3zm10-8zm2 3zm9 0zm8 13zm2 0zm-21 8zm-8 2zm-15-24zm-8-7zm-14 1zm-14-13zm1-2zm-6-5zm2-6zm7 1zm1-6zm-10-9zm-3 4zm-7-4zm-3-7zm3-4zm7 4zm8 1zm8-4zm1 6zm-7-11zm-2-5zm3-2zm0-3zm2-6zm-4-1zm7-6zm8 2zm3 2zm2 4zm-11 2zm0 3zm-15 7zm-14-9zm-5-2zm2-5zm0-5zm2-5zm-3-4zm-2 0zm-4 1zm-2 4zm-1 1zm-5 7zm-2 3zm-3 4zm-4 5zm-10-6zm-2-5zm0-5zm0-8zm8 3zm-1-10zm2 0zm3-2zm-7 0zm0-9zm7 0zm1-4zm8 5zm0-13zm2-8zm16-3zm1-2zm5 0zm4-5zm1-4zm4-1zm0 4zm-1-8zm-2 0zm1-12zm8-4zm0-2zm-4-15zm16 0zm4 4zm3 7zm-3 18zm-4 3zm6 6zm5-2zm-7 8zm-2 6zm-8 13zm-1 3zm-4 2zm-5 2zm-6-5zm-7-3zm-4 2zm-1 5zm3 0zm2 13zm-3 4zm1 2zm3 1zm-7-2zm6 11zm13-2zm4-4zm12 0zm6-7zm-1-3zm-3-3zm-2-2zm-1 3zm-5-3zm3-4zm1-8zm8 1zm2 2zm4-5zm6 10zm-5 8zm-4 5zm3 5zm-3 3zm9 10zm3 1zm3 0zm-3-3zm4-3zm-2-11zm-37-32zm-1 1zm-4-5zm-2-1zm-4 4zm-25 68zm-6 6zm1 7zm-1 4zm7-4zm4 8zm9 4zm3 0zm1 2zm2-1zm-4-6zm-3 8zm-2 1zm-6 4zm6 5zm12-1zm2 4zm37-27zm4 0zm6 3zm1-3zm9 23zm3 1zm2 2zm1 2zm5 8zm-126-71zm-9-7zm-3-6zm1-3zm-5-7zm-21-15zm-4 7zm-11-2zm-5 16zm-1 5zm39 47zm-163 33zm-17 2zm-11 29zm1 3zm124 105zm9 16zm4 3zm5-4zm22 8zm96-20z"/><path stroke="#8b1a1c" d="M1543 1738zm73-39zm9 8zm10 15zm23-30zm44-52zm-1-14zm-2-30zm52-33zm5 8zm4 5zm62 40zm-1 3zm-1 2zm0 5zm3 2zm2 0zm1-1zm-2-2zm2-1zm0-3zm0-2zm-1 0zm2-2zm2-3zm2 8zm-2 5zm2 3zm1 2zm-4-1zm-3 1zm-1-1zm0 3zm-1 1zm-3 1zm0 4zm-3 0zm1 8zm5 3zm-1 4zm1 2zm-2 1zm-2-3zm-2 1zm0 3zm-1 2zm2 3zm0 2zm4-4zm1-1zm6-2zm2 2zm0-4zm1-1zm2 0zm2 2zm1-1zm2 0zm1-2zm-2-1zm-2-2zm0-2zm-3-1zm-2 0zm1-3zm-2-2zm-1-2zm-1 5zm-2 0zm1 2zm1 3zm-2 2zm1 2zm8 4zm2 4zm-1 3zm-3-1zm-1 1zm1 3zm2 0zm-2 3zm-2-2zm-2 1zm-1-3zm-1 6zm1 5zm4 3zm3 0zm3 2zm1-1zm4 1zm0 3zm-1 2zm-1-1zm-1 3zm4-1zm-1 5zm2 2zm-1 2zm-1 2zm1 2zm4-1zm2-1zm-2 4zm5 2zm2-1zm3-2zm3 1zm3 7zm4-2zm1 0zm1 2zm-1 3zm-3 2zm-1 4zm-4-4zm-1-2zm-3 1zm-4 1zm0 1zm-2 2zm-3 3zm-4-5zm0-3zm-4 1zm0 6zm1 4zm-1 2zm4 0zm0 1zm-3 5zm-3 3zm-1 2zm-3 0zm0-2zm-1-1zm-3 2zm-3-3zm-2-2zm-4-4zm3-4zm-2-1zm3-2zm-1-2zm3 1zm2 0zm1 0zm3-7zm-2-4zm-4-4zm-2 3zm-4 2zm-4 2zm-7-1zm1-4zm-1-1zm2 0zm-3-4zm-3-2zm-2-1zm-1-3zm-2 4zm-3 0zm-2 1zm-1-2zm-2-2zm-1 5zm0 0zm-2 1zm-2 2zm-3 0zm-2-3zm0-2zm3 1zm-4-4zm-6 2zm-1 2zm-2 1zm1-4zm-2-3zm1-2zm2-3zm1-1zm4 0zm1-1zm-2-2zm1-6zm6 3zm0 3zm1 2zm2-2zm2-1zm2 1zm0-5zm3-1zm-1-4zm-4-1zm0 3zm-4-2zm14 1zm3 2zm2-1zm-1-2zm3-1zm1-2zm3-1zm1-2zm-4-4zm-2 1zm-1 0zm0-2zm1-3zm3 1zm2-2zm-2-1zm-2-2zm-7 7zm-2-2zm-1 3zm1 2zm7 2zm11 6zm0 1zm1-2zm-4 10zm0 3zm-1 3zm0 0zm-2 0zm-1 0zm-1 3zm2 4zm9-2zm4-4zm-2-3zm13-3zm1 2zm-1 5zm2 2zm2 3zm-2 3zm0 2zm2 0zm7-9zm2-1zm8 0zm3 0zm2 2zm0-5zm-1 0zm-4-1zm0-4zm0-3zm0-5zm-3-5zm-2 1zm-1-2zm1-1zm3-2zm0-2zm1-2zm-2 0zm-2-3zm-1-1zm-4-4zm-3 0zm1-3zm-2-4zm1-2zm-2 0zm3-2zm2 0zm3 1zm2 2zm-1 2zm0 2zm7 8zm-1 9zm0 1zm-6 6zm-2 0zm-3-2zm-2 0zm3 5zm-2 1zm3 3zm2 1zm-4-17zm-12 10zm-13 28zm4 10zm-9 9zm-3 1zm-5-1zm0 3zm-1 3zm-3 0zm4 4zm2-2zm2 0zm0-1zm4 1zm-2 3zm-5 2zm5 4zm1 0zm-2 4zm-3 0zm-1 2zm1 1zm-4 4zm-4 1zm-3 0zm-3 2zm0 2zm-5-4zm-3-2zm-1-2zm2-4zm2-2zm2 1zm1-3zm-1-2zm-2-2zm-1-3zm-5-2zm1-2zm1-3zm-4-3zm-2 2zm1 4zm0 5zm3 7zm0 1zm11 5zm2-1zm0-4zm4-4zm-3-2zm-3-8zm-4 0zm3-6zm0-5zm0-4zm-1-1zm1-1zm-1-2zm-3 3zm-1 3zm9-2zm2 1zm0 1zm0 2zm2-1zm2-3zm3 0zm-1 4zm4 2zm-8 2zm-1-12zm-1 0zm1-3zm3-1zm-10-15zm-5 0zm-1 2zm12-6zm-22 17zm-5 4zm0 3zm2 2zm-4 0zm-2-5zm-6-1zm4-5zm-2-4zm-6 3zm-2-10zm-5-5zm-3 5zm-4-2zm19-2zm4 1zm0 3zm4-11zm5 37zm-2 3zm1 3zm-4-1zm0 3zm1 2zm0 2zm0 3zm-4-14zm34 28zm12 0zm3-2zm2-4zm-2-3zm8 4zm0 2zm6-1zm0-1zm3 2zm2 2zm-3 3zm3 2zm-1 4zm1 3zm0 3zm-6 0zm-2 3zm0 3zm-2 5zm3 1zm2-1zm2 2zm0 2zm-2 3zm2 1zm-7 1zm0 0zm-2 3zm-2 4zm0 3zm3-2zm5 0zm3 0zm4-1zm1 3zm2-2zm1-1zm4-2zm5 4zm2 4zm-3 2zm1 2zm0 3zm-2 0zm-2 0zm-1 3zm-1 3zm-2 1zm-2 3zm-3-1zm-4 4zm-2-2zm-2 1zm-1 5zm0 3zm2 0zm-1 2zm3 0zm1-2zm1-1zm1 2zm-1 2zm-1 2zm2 0zm-1 2zm-1 1zm1 2zm3 0zm-2 3zm4 2zm2 4zm0 2zm4-1zm0-2zm2-1zm-1-2zm1-2zm2-2zm1 2zm3-1zm-1-2zm-2-1zm2-4zm1-1zm3 1zm-1 4zm2 3zm-2 2zm1 2zm3-1zm3 0zm2-1zm2-1zm0 4zm-2 0zm0 2zm-2 2zm-2 0zm-1-1zm-2 0zm-2 1zm2 2zm2 0zm2 1zm2-1zm2 1zm1 1zm0 3zm2 0zm1-2zm0-2zm2 2zm1 2zm2-2zm2 3zm2 2zm0 2zm-1 2zm2 1zm2-2zm0 4zm1 2zm1 2zm0 2zm2 1zm2-1zm-2-2zm-1-4zm4 0zm1-2zm0-3zm-1-2zm4-1zm2 1zm2-1zm2-3zm2-1zm0-2zm2 1zm1-2zm0-2zm2 0zm-1-2zm-2 0zm-1-1zm-1 1zm-2 2zm0 2zm-3 0zm-1-3zm-2 0zm-2 1zm-1-1zm-2-5zm3-1zm5 0zm0-3zm5 3zm1 1zm2 2zm-5 0zm-2 1zm10 6zm2-3zm-2 9zm2 2zm-3 3zm-2 2zm-2 2zm-2 0zm0-2zm1-2zm-3-1zm-2 2zm-2-1zm0 2zm-1-4zm5 5zm-1 3zm-2 0zm0 2zm1 1zm-1 3zm-2-2zm0-3zm-2-1zm8 0zm5-1zm0-7zm0-2zm-19-3zm-2 1zm-2-3zm-3-3zm-2-1zm-2-2zm-2 1zm0-3zm-2-1zm2-2zm1 1zm2-1zm-2-2zm4-3zm4 4zm1 5zm-13 1zm-7-1zm1 8zm-2 3zm-2-1zm0-2zm-2 1zm0 3zm-2 1zm1 2zm3-2zm1 3zm3 1zm3 1zm1 3zm1 2zm2-1zm2 2zm2-2zm2 0zm-1 2zm1 3zm3 2zm2 1zm1-2zm-1-3zm0-1zm4 5zm2 3zm-12-12zm1-1zm-1-2zm-2-1zm-2 0zm-2 0zm-1-2zm-1-1zm-2-2zm6 1zm2 2zm2-1zm2 0zm-1 2zm-23-6zm-2-1zm-2 1zm-1-2zm-1-3zm3-3zm2-1zm0-2zm-7-5zm-2-1zm3-4zm-2-1zm-2-1zm1-2zm1-2zm2 0zm-1-2zm-2-1zm-2 0zm0-2zm-1-1zm-2 1zm-1 1zm-1-2zm2 5zm2 0zm-1 2zm2 0zm6 2zm4-1zm-5-9zm1-2zm-4 1zm8-7zm2 0zm-1-3zm3-2zm0-5zm3 0zm2 2zm3 3zm3-2zm3 0zm2-1zm2 1zm-2-5zm2-1zm-6 0zm-5-9zm8-12zm5 3zm2 1zm-1 3zm2 3zm4-1zm2 0zm-1-2zm1-2zm-2-1zm-3-4zm-3-2zm1-3zm0-2zm-4 1zm-3-1zm-3-2zm-2-1zm-2-1zm-2-1zm-2-2zm-1-2zm-1-2zm2-1zm-6-2zm11 7zm3 2zm1-4zm2 1zm2 2zm-1-7zm10 16zm6 12zm-4 5zm1 8zm0 3zm2 0zm2-1zm0-2zm3 2zm0 2zm3 0zm0 3zm5 2zm1 2zm2 3zm2 2zm0-4zm1-2zm2 3zm2 6zm2 2zm-3 2zm1 2zm0 2zm2-2zm1 2zm-1 2zm-2 1zm3 3zm1 3zm-2 1zm-5-17zm-3-13zm-3 0zm-2-5zm-1-1zm-5-1zm-17 18zm-5-1zm-3 0zm0 1zm-1-4zm-2 0zm0 1zm-1 1zm-2 2zm-2 1zm-1-1zm-2-2zm-2 2zm4 4zm5 1zm5-1zm3 2zm1 3zm3-3zm4-1zm6 4zm2 5zm-17 2zm-8 3zm-1-1zm-1-23zm-1-2zm3 1zm4-1zm3 2zm0 0zm2 1zm-33-9zm-3 0zm1 3zm1 1zm-4 1zm-2 2zm-3 2zm-2-7zm-6-3zm-1 2zm0 3zm-4-1zm1-3zm-3-2zm1-2zm3-1zm2-1zm1-8zm1-6zm1-5zm-1-1zm-1-3zm0-2zm1-1zm0-3zm-3 4zm-2 1zm-3 3zm-3-1zm-2-2zm-2-1zm-2 2zm-1-2zm-4 2zm-2 2zm1 1zm-4 3zm-2 0zm0-3zm1-3zm-2-3zm0-2zm7 2zm4 10zm0 5zm3-1zm-2 4zm-3 0zm-1 0zm-4-3zm1-3zm6 10zm3 2zm2 2zm3 1zm0 2zm4-14zm-4-3zm1-11zm3-3zm2-1zm0-1zm0-2zm2-2zm-6 0zm2-5zm13 1zm4 2zm-5 4zm10 6zm1 3zm-1 2zm-10 3zm9 20zm-8 28zm4 3zm0 3zm-30 3zm-2-2zm-1-1zm2-2zm-5 3zm-1 3zm0 2zm2 1zm-4 0zm-1-2zm-3 1zm-1-1zm-1-3zm2 0zm-3-3zm2-2zm0-2zm-2-1zm5 0zm0-2zm1 5zm-11-2zm-48 37zm-4 16zm2 8zm6 0zm22 3zm0 10zm-9 15zm-8 12zm-7-10zm-11-8zm-38 12zm-3 16zm9 6zm-22-36zm-11 2zm-2-14zm22-12zm18-5zm1-8zm11-20zm-22-11zm23-79zm140-43zm5-3zm17-8zm-24-64zm2-2zm1-4zm0-4zm-5 2zm-1 3zm-3 2zm-3 1zm-2-2zm-6-1zm7-8zm1-1zm0-3zm0-3zm2 0zm1-2zm-2-2zm-1 1zm-1-2zm2-1zm5 9zm-2 4zm-1 1zm0 3zm-22 0zm0-2z"/></g>
<path d="M1515.8 1522.1V1975.6H1933.7" fill="none" stroke="#000" stroke-width="1.6"/><path d="M1530.8 1975.6v5.5" stroke="#000" stroke-width="1.6"/><text x="1513.1" y="2001.5" font-size="24" fill="#000">−50</text><path d="M1635.87 1975.6v5.5" stroke="#000" stroke-width="1.6"/><text x="1618.4" y="2001.5" font-size="24" fill="#000">−25</text><path d="M1740.94 1975.6v5.5" stroke="#000" stroke-width="1.6"/><text x="1734.9" y="2001.5" font-size="24" fill="#000">0</text><path d="M1846.01 1975.6v5.5" stroke="#000" stroke-width="1.6"/><text x="1834.4" y="2001.5" font-size="24" fill="#000">25</text><path d="M1515.8 1533.9h-5.5" stroke="#000" stroke-width="1.6"/><text x="1480.7" y="1542.5" font-size="24" fill="#000">50</text><path d="M1515.8 1650.67h-5.5" stroke="#000" stroke-width="1.6"/><text x="1480.9" y="1659.3" font-size="24" fill="#000">25</text><path d="M1515.8 1767.44h-5.5" stroke="#000" stroke-width="1.6"/><text x="1494.1" y="1776.0" font-size="24" fill="#000">0</text><path d="M1515.8 1884.21h-5.5" stroke="#000" stroke-width="1.6"/><text x="1467.0" y="1892.8" font-size="24" fill="#000">−25</text><text x="1691.2" y="2038.6" font-size="24" fill="#000">tSNE1</text><text transform="translate(1457.9 1751.2) rotate(-90)" font-size="24.6" fill="#000" x="-35.2">tSNE2</text>
<text x="539.3" y="968.7" font-size="24" fill="#000">mRNA</text><text x="540.0" y="997.4" font-size="24" fill="#000">expression</text><text x="539.3" y="1026.0" font-size="24" fill="#000">level</text>
<defs><linearGradient id="g540_1053" x1="0" y1="0" x2="0" y2="1"><stop offset="0.0000" stop-color="#2b4ba3"/><stop offset="0.2185" stop-color="#4a4aa6"/><stop offset="0.4172" stop-color="#6f5bae"/><stop offset="0.6159" stop-color="#a796cb"/><stop offset="0.8146" stop-color="#c4bedb"/><stop offset="1.0000" stop-color="#d3d3d3"/></linearGradient></defs><rect x="540.2" y="1053.6" width="27.8" height="135" fill="url(#g540_1053)"/><path d="M540.2 1065.3h5.5M562.5 1065.3h5.5" stroke="#fff" stroke-width="1.1"/><text x="578.6" y="1072.7" font-size="23.8" fill="#000">2.0</text><path d="M540.2 1110h5.5M562.5 1110h5.5" stroke="#fff" stroke-width="1.1"/><text x="577.9" y="1117.2" font-size="23.8" fill="#000">1.5</text><path d="M540.2 1154.4h5.5M562.5 1154.4h5.5" stroke="#fff" stroke-width="1.1"/><text x="577.9" y="1161.8" font-size="23.8" fill="#000">1.0</text>
<text x="1213.2" y="967.8" font-size="24" fill="#000">mRNA</text><text x="1213.9" y="996.8" font-size="24" fill="#000">expression</text><text x="1213.2" y="1025.7" font-size="24" fill="#000">level</text>
<defs><linearGradient id="g1214_1048" x1="0" y1="0" x2="0" y2="1"><stop offset="0.0000" stop-color="#2b4ba3"/><stop offset="0.1418" stop-color="#3b4ba5"/><stop offset="0.2910" stop-color="#5a4fa8"/><stop offset="0.4776" stop-color="#7a64b2"/><stop offset="0.6642" stop-color="#a392c8"/><stop offset="0.8507" stop-color="#c5bddc"/><stop offset="1.0000" stop-color="#d3d3d3"/></linearGradient></defs><rect x="1214.2" y="1048.2" width="27.8" height="135" fill="url(#g1214_1048)"/><path d="M1214.2 1052.4h5.5M1236.5 1052.4h5.5" stroke="#fff" stroke-width="1.1"/><text x="1253.5" y="1059.4" font-size="23.8" fill="#000">3.5</text><path d="M1214.2 1077.7h5.5M1236.5 1077.7h5.5" stroke="#fff" stroke-width="1.1"/><text x="1253.5" y="1084.4" font-size="23.8" fill="#000">3.0</text><path d="M1214.2 1103.2h5.5M1236.5 1103.2h5.5" stroke="#fff" stroke-width="1.1"/><text x="1253.3" y="1109.4" font-size="23.8" fill="#000">2.5</text><path d="M1214.2 1128.2h5.5M1236.5 1128.2h5.5" stroke="#fff" stroke-width="1.1"/><text x="1253.3" y="1135.2" font-size="23.8" fill="#000">2.0</text><path d="M1214.2 1153.4h5.5M1236.5 1153.4h5.5" stroke="#fff" stroke-width="1.1"/><text x="1252.6" y="1160.2" font-size="23.8" fill="#000">1.5</text><path d="M1214.2 1178.3h5.5M1236.5 1178.3h5.5" stroke="#fff" stroke-width="1.1"/><text x="1252.6" y="1185.3" font-size="23.8" fill="#000">1.0</text>
<text x="539.7" y="1617.6" font-size="24" fill="#000">Protein</text><text x="540.6" y="1646.5" font-size="24" fill="#000">expression</text><text x="539.9" y="1675.7" font-size="24" fill="#000">level</text>
<defs><linearGradient id="g540_1702" x1="0" y1="0" x2="0" y2="1"><stop offset="0.0000" stop-color="#1a6638"/><stop offset="0.1252" stop-color="#1d7b3e"/><stop offset="0.3016" stop-color="#23a043"/><stop offset="0.4780" stop-color="#48b65e"/><stop offset="0.5661" stop-color="#8fd19a"/><stop offset="0.6543" stop-color="#d5ecd6"/><stop offset="0.7425" stop-color="#dedede"/><stop offset="1.0000" stop-color="#dedede"/></linearGradient></defs><rect x="540.2" y="1702.1" width="27.8" height="133.9" fill="url(#g540_1702)"/><path d="M540.2 1718.8h5.5M562.5 1718.8h5.5" stroke="#fff" stroke-width="1.1"/><text x="578.8" y="1724.7" font-size="23.8" fill="#000">3.0</text><path d="M540.2 1742.5h5.5M562.5 1742.5h5.5" stroke="#fff" stroke-width="1.1"/><text x="578.6" y="1749.7" font-size="23.8" fill="#000">2.0</text><path d="M540.2 1766.1h5.5M562.5 1766.1h5.5" stroke="#fff" stroke-width="1.1"/><text x="577.9" y="1773.4" font-size="23.8" fill="#000">1.0</text><path d="M540.2 1789.8h5.5M562.5 1789.8h5.5" stroke="#fff" stroke-width="1.1"/><text x="578.8" y="1797.0" font-size="23.8" fill="#000">0.0</text><path d="M540.2 1813.4h5.5M562.5 1813.4h5.5" stroke="#fff" stroke-width="1.1"/><text x="578.8" y="1820.6" font-size="23.8" fill="#000">-1.0</text>
<text x="1213.7" y="1616.9" font-size="24" fill="#000">Protein</text><text x="1214.6" y="1645.7" font-size="24" fill="#000">expression</text><text x="1213.9" y="1674.6" font-size="24" fill="#000">level</text>
<defs><linearGradient id="g1214_1698" x1="0" y1="0" x2="0" y2="1"><stop offset="0.0000" stop-color="#1a6638"/><stop offset="0.1637" stop-color="#1f8a42"/><stop offset="0.2916" stop-color="#2fa84c"/><stop offset="0.4450" stop-color="#9fd8a8"/><stop offset="0.5473" stop-color="#dff0df"/><stop offset="0.6496" stop-color="#e0e0e0"/><stop offset="1.0000" stop-color="#e0e0e0"/></linearGradient></defs><rect x="1214.2" y="1698" width="27.8" height="133.8" fill="url(#g1214_1698)"/><path d="M1214.2 1702.7h5.5M1236.5 1702.7h5.5" stroke="#fff" stroke-width="1.1"/><text x="1252.6" y="1708.7" font-size="23.8" fill="#000">2.0</text><path d="M1214.2 1736.9h5.5M1236.5 1736.9h5.5" stroke="#fff" stroke-width="1.1"/><text x="1251.9" y="1743.4" font-size="23.8" fill="#000">1.0</text><path d="M1214.2 1771.3h5.5M1236.5 1771.3h5.5" stroke="#fff" stroke-width="1.1"/><text x="1252.8" y="1778.2" font-size="23.8" fill="#000">0.0</text><path d="M1214.2 1805.3h5.5M1236.5 1805.3h5.5" stroke="#fff" stroke-width="1.1"/><text x="1252.8" y="1813.0" font-size="23.8" fill="#000">-1.0</text>
<circle cx="1506.5" cy="834.3" r="7.3" fill="#8b1a1c"/><text x="1523.0" y="839.8" font-size="26" fill="#000">Both</text><circle cx="1604.4" cy="834.3" r="7.3" fill="#fcdcb9"/><text x="1620.7" y="839.8" font-size="26" fill="#000">CD24</text><circle cx="1715.3" cy="834.3" r="7.3" fill="#a8d5dd"/><text x="1731.1" y="839.8" font-size="26" fill="#000">EPCAM</text><circle cx="1852.9" cy="834.3" r="7.3" fill="#d6d6d6"/><text x="1868.5" y="839.8" font-size="26" fill="#000">None</text>
<circle cx="1506.5" cy="1483.2" r="7.3" fill="#8b1a1c"/><text x="1523.0" y="1489.1" font-size="26" fill="#000">Both</text><circle cx="1604.4" cy="1483.2" r="7.3" fill="#fcdcb9"/><text x="1620.7" y="1489.1" font-size="26" fill="#000">CD24</text><circle cx="1715.3" cy="1483.2" r="7.3" fill="#a8d5dd"/><text x="1731.1" y="1489.1" font-size="26" fill="#000">EPCAM</text><circle cx="1852.9" cy="1483.2" r="7.3" fill="#d6d6d6"/><text x="1868.5" y="1489.1" font-size="26" fill="#000">None</text>
</svg>
</body></html>
